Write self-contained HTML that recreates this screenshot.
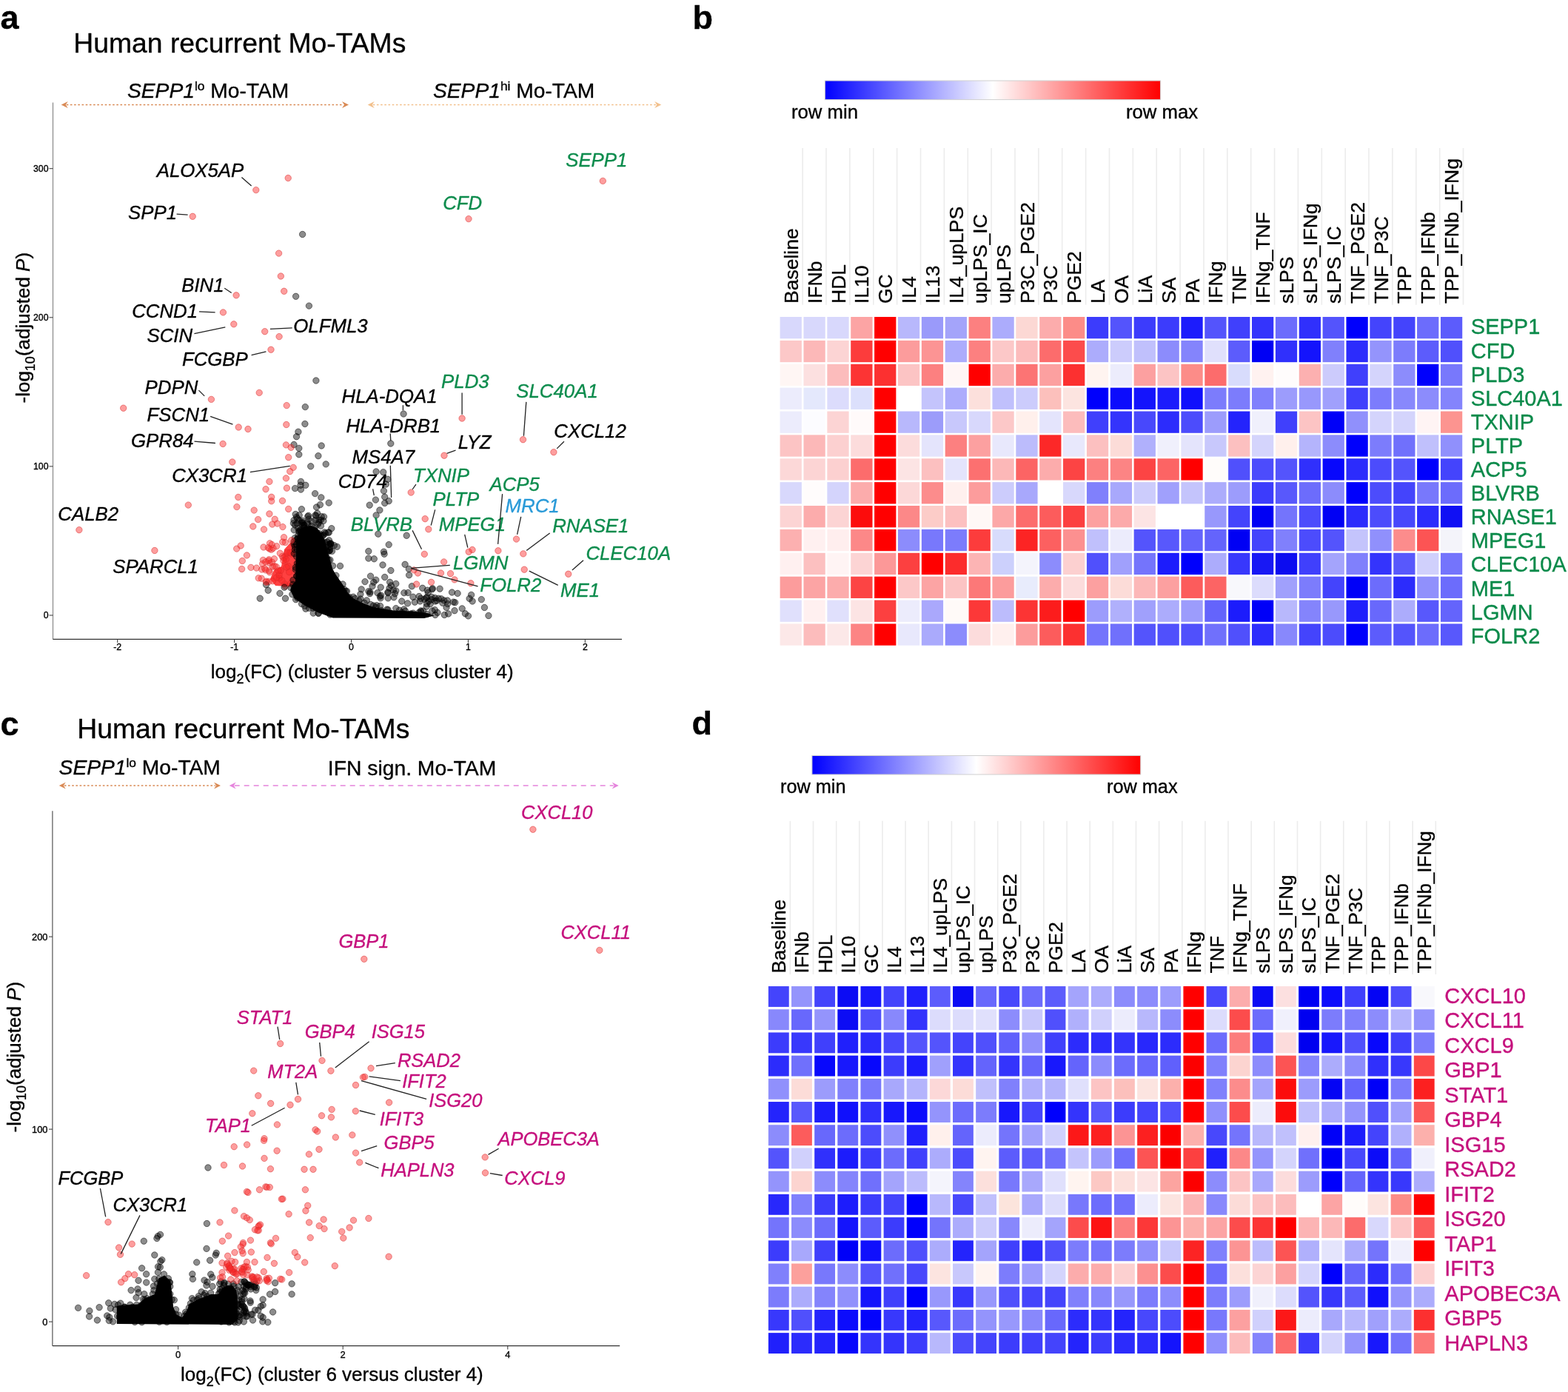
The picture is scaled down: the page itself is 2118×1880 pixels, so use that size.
<!DOCTYPE html>
<html><head><meta charset="utf-8"><title>Figure</title>
<style>
html,body{margin:0;padding:0;background:#fff;}
svg{display:block;}
text{font-family:'Liberation Sans', Arial, Helvetica, sans-serif;stroke-width:0.35px;stroke-linejoin:round;}
</style></head>
<body>
<svg width="2118" height="1880" viewBox="0 0 2118 1880">
<rect width="2118" height="1880" fill="#fff"/>
<text x="0.5" y="38.6" font-size="45" fill="#000" stroke="#000" text-anchor="start" font-weight="bold" font-style="normal" >a</text>
<text x="935.5" y="38.6" font-size="45" fill="#000" stroke="#000" text-anchor="start" font-weight="bold" font-style="normal" >b</text>
<text x="0.5" y="992.8" font-size="45" fill="#000" stroke="#000" text-anchor="start" font-weight="bold" font-style="normal" >c</text>
<text x="934.5" y="991.9" font-size="45" fill="#000" stroke="#000" text-anchor="start" font-weight="bold" font-style="normal" >d</text>
<text x="99.3" y="70.5" font-size="37.3" fill="#000" stroke="#000" text-anchor="start" font-weight="normal" font-style="normal" >Human recurrent Mo-TAMs</text>
<text x="172.0" y="132.0" font-size="28.2" fill="#000" stroke="#000" text-anchor="start" font-weight="normal" font-style="normal" ><tspan font-style="italic">SEPP1</tspan><tspan font-size="17.4" dy="-10">lo</tspan><tspan dy="10"> Mo-TAM</tspan></text>
<text x="585.0" y="132.0" font-size="28.2" fill="#000" stroke="#000" text-anchor="start" font-weight="normal" font-style="normal" ><tspan font-style="italic">SEPP1</tspan><tspan font-size="17.4" dy="-10">hi</tspan><tspan dy="10"> Mo-TAM</tspan></text>
<line x1="89.7" y1="141.5" x2="464.0" y2="141.5" stroke="#d98a55" stroke-width="1.3" stroke-dasharray="2.6,2.6"/>
<polygon points="82.7,141.5 91.7,137.0 88.7,141.5 91.7,146.0" fill="#d98a55"/>
<polygon points="471.0,141.5 462.0,137.0 465.0,141.5 462.0,146.0" fill="#d98a55"/>
<line x1="503.7" y1="141.5" x2="886.2" y2="141.5" stroke="#f2c08c" stroke-width="1.3" stroke-dasharray="2.6,2.6"/>
<polygon points="496.7,141.5 505.7,137.0 502.7,141.5 505.7,146.0" fill="#f2c08c"/>
<polygon points="893.2,141.5 884.2,137.0 887.2,141.5 884.2,146.0" fill="#f2c08c"/>
<line x1="71.5" y1="138.6" x2="71.5" y2="863.4" stroke="#888" stroke-width="1.2"/>
<line x1="71.5" y1="863.4" x2="840" y2="863.4" stroke="#333" stroke-width="1.3"/>
<line x1="66.5" y1="831.0" x2="71.5" y2="831.0" stroke="#333" stroke-width="1"/>
<text x="65.5" y="835.4" font-size="12.3" fill="#000" stroke="#000" text-anchor="end" font-weight="normal" font-style="normal" >0</text>
<line x1="66.5" y1="629.9" x2="71.5" y2="629.9" stroke="#333" stroke-width="1"/>
<text x="65.5" y="634.3" font-size="12.3" fill="#000" stroke="#000" text-anchor="end" font-weight="normal" font-style="normal" >100</text>
<line x1="66.5" y1="428.8" x2="71.5" y2="428.8" stroke="#333" stroke-width="1"/>
<text x="65.5" y="433.2" font-size="12.3" fill="#000" stroke="#000" text-anchor="end" font-weight="normal" font-style="normal" >200</text>
<line x1="66.5" y1="227.7" x2="71.5" y2="227.7" stroke="#333" stroke-width="1"/>
<text x="65.5" y="232.1" font-size="12.3" fill="#000" stroke="#000" text-anchor="end" font-weight="normal" font-style="normal" >300</text>
<line x1="158.7" y1="863.4" x2="158.7" y2="868" stroke="#333" stroke-width="1"/>
<text x="158.7" y="877.8" font-size="12.3" fill="#000" stroke="#000" text-anchor="middle" font-weight="normal" font-style="normal" >-2</text>
<line x1="316.6" y1="863.4" x2="316.6" y2="868" stroke="#333" stroke-width="1"/>
<text x="316.6" y="877.8" font-size="12.3" fill="#000" stroke="#000" text-anchor="middle" font-weight="normal" font-style="normal" >-1</text>
<line x1="474.5" y1="863.4" x2="474.5" y2="868" stroke="#333" stroke-width="1"/>
<text x="474.5" y="877.8" font-size="12.3" fill="#000" stroke="#000" text-anchor="middle" font-weight="normal" font-style="normal" >0</text>
<line x1="632.4" y1="863.4" x2="632.4" y2="868" stroke="#333" stroke-width="1"/>
<text x="632.4" y="877.8" font-size="12.3" fill="#000" stroke="#000" text-anchor="middle" font-weight="normal" font-style="normal" >1</text>
<line x1="790.3" y1="863.4" x2="790.3" y2="868" stroke="#333" stroke-width="1"/>
<text x="790.3" y="877.8" font-size="12.3" fill="#000" stroke="#000" text-anchor="middle" font-weight="normal" font-style="normal" >2</text>
<text x="284.8" y="916.2" font-size="26" fill="#000" stroke="#000" text-anchor="start" font-weight="normal" font-style="normal" >log<tspan font-size="18" dy="7">2</tspan><tspan dy="-7">(FC) (cluster 5 versus cluster 4)</tspan></text>
<text transform="translate(39.7,544.5) rotate(-90)" font-size="26" stroke="#000">-log<tspan font-size="18" dy="7">10</tspan><tspan dy="-7">(adjusted </tspan><tspan font-style="italic">P</tspan>)</text>
<text x="104.3" y="997.2" font-size="37.3" fill="#000" stroke="#000" text-anchor="start" font-weight="normal" font-style="normal" >Human recurrent Mo-TAMs</text>
<text x="79.6" y="1046.3" font-size="28.2" fill="#000" stroke="#000" text-anchor="start" font-weight="normal" font-style="normal" ><tspan font-style="italic">SEPP1</tspan><tspan font-size="17.4" dy="-10">lo</tspan><tspan dy="10"> Mo-TAM</tspan></text>
<text x="442.8" y="1047.0" font-size="28.3" fill="#000" stroke="#000" text-anchor="start" font-weight="normal" font-style="normal" >IFN sign. Mo-TAM</text>
<line x1="86.8" y1="1061" x2="291.0" y2="1061" stroke="#d98a55" stroke-width="1.3" stroke-dasharray="2.6,2.6"/>
<polygon points="79.8,1061 88.8,1056.5 85.8,1061 88.8,1065.5" fill="#d98a55"/>
<polygon points="298.0,1061 289.0,1056.5 292.0,1061 289.0,1065.5" fill="#d98a55"/>
<line x1="316.7" y1="1061" x2="828.7" y2="1061" stroke="#e583dc" stroke-width="1.3" stroke-dasharray="7,6"/>
<polygon points="309.7,1061 318.7,1056.5 315.7,1061 318.7,1065.5" fill="#e583dc"/>
<polygon points="835.7,1061 826.7,1056.5 829.7,1061 826.7,1065.5" fill="#e583dc"/>
<line x1="70.9" y1="1095.2" x2="70.9" y2="1817.7" stroke="#555" stroke-width="1.2"/>
<line x1="70.9" y1="1817.7" x2="837.2" y2="1817.7" stroke="#333" stroke-width="1.3"/>
<line x1="65.9" y1="1785.1" x2="70.9" y2="1785.1" stroke="#333" stroke-width="1"/>
<text x="64.5" y="1789.7" font-size="12.9" fill="#000" stroke="#000" text-anchor="end" font-weight="normal" font-style="normal" >0</text>
<line x1="65.9" y1="1525.1" x2="70.9" y2="1525.1" stroke="#333" stroke-width="1"/>
<text x="64.5" y="1529.7" font-size="12.9" fill="#000" stroke="#000" text-anchor="end" font-weight="normal" font-style="normal" >100</text>
<line x1="65.9" y1="1265.1" x2="70.9" y2="1265.1" stroke="#333" stroke-width="1"/>
<text x="64.5" y="1269.7" font-size="12.9" fill="#000" stroke="#000" text-anchor="end" font-weight="normal" font-style="normal" >200</text>
<line x1="240.6" y1="1817.7" x2="240.6" y2="1822.5" stroke="#333" stroke-width="1"/>
<text x="240.6" y="1833.5" font-size="12.9" fill="#000" stroke="#000" text-anchor="middle" font-weight="normal" font-style="normal" >0</text>
<line x1="463.2" y1="1817.7" x2="463.2" y2="1822.5" stroke="#333" stroke-width="1"/>
<text x="463.2" y="1833.5" font-size="12.9" fill="#000" stroke="#000" text-anchor="middle" font-weight="normal" font-style="normal" >2</text>
<line x1="685.8" y1="1817.7" x2="685.8" y2="1822.5" stroke="#333" stroke-width="1"/>
<text x="685.8" y="1833.5" font-size="12.9" fill="#000" stroke="#000" text-anchor="middle" font-weight="normal" font-style="normal" >4</text>
<text x="244.0" y="1865.2" font-size="26" fill="#000" stroke="#000" text-anchor="start" font-weight="normal" font-style="normal" >log<tspan font-size="18" dy="7">2</tspan><tspan dy="-7">(FC) (cluster 6 versus cluster 4)</tspan></text>
<text transform="translate(27.6,1529.4) rotate(-90)" font-size="26" stroke="#000">-log<tspan font-size="18" dy="7">10</tspan><tspan dy="-7">(adjusted </tspan><tspan font-style="italic">P</tspan>)</text>
<defs><linearGradient id="gb" x1="0" x2="1" y1="0" y2="0"><stop offset="0" stop-color="#0000ff"/><stop offset="0.5" stop-color="#ffffff"/><stop offset="1" stop-color="#ff0000"/></linearGradient></defs>
<rect x="1114.3" y="109" width="453.2" height="25.6" fill="url(#gb)" stroke="#cfcfcf" stroke-width="1"/>
<text x="1069.0" y="160.4" font-size="25.7" fill="#000" stroke="#000" text-anchor="start" font-weight="normal" font-style="normal" >row min</text>
<text x="1521.0" y="160.4" font-size="25.7" fill="#000" stroke="#000" text-anchor="start" font-weight="normal" font-style="normal" >row max</text>
<line x1="1084.2" y1="200" x2="1084.2" y2="411.7" stroke="#ececec" stroke-width="1.6"/>
<line x1="1116.0" y1="200" x2="1116.0" y2="411.7" stroke="#ececec" stroke-width="1.6"/>
<line x1="1147.9" y1="200" x2="1147.9" y2="411.7" stroke="#ececec" stroke-width="1.6"/>
<line x1="1179.8" y1="200" x2="1179.8" y2="411.7" stroke="#ececec" stroke-width="1.6"/>
<line x1="1211.6" y1="200" x2="1211.6" y2="411.7" stroke="#ececec" stroke-width="1.6"/>
<line x1="1243.5" y1="200" x2="1243.5" y2="411.7" stroke="#ececec" stroke-width="1.6"/>
<line x1="1275.4" y1="200" x2="1275.4" y2="411.7" stroke="#ececec" stroke-width="1.6"/>
<line x1="1307.3" y1="200" x2="1307.3" y2="411.7" stroke="#ececec" stroke-width="1.6"/>
<line x1="1339.1" y1="200" x2="1339.1" y2="411.7" stroke="#ececec" stroke-width="1.6"/>
<line x1="1371.0" y1="200" x2="1371.0" y2="411.7" stroke="#ececec" stroke-width="1.6"/>
<line x1="1402.9" y1="200" x2="1402.9" y2="411.7" stroke="#ececec" stroke-width="1.6"/>
<line x1="1434.7" y1="200" x2="1434.7" y2="411.7" stroke="#ececec" stroke-width="1.6"/>
<line x1="1466.6" y1="200" x2="1466.6" y2="411.7" stroke="#ececec" stroke-width="1.6"/>
<line x1="1498.5" y1="200" x2="1498.5" y2="411.7" stroke="#ececec" stroke-width="1.6"/>
<line x1="1530.3" y1="200" x2="1530.3" y2="411.7" stroke="#ececec" stroke-width="1.6"/>
<line x1="1562.2" y1="200" x2="1562.2" y2="411.7" stroke="#ececec" stroke-width="1.6"/>
<line x1="1594.1" y1="200" x2="1594.1" y2="411.7" stroke="#ececec" stroke-width="1.6"/>
<line x1="1626.0" y1="200" x2="1626.0" y2="411.7" stroke="#ececec" stroke-width="1.6"/>
<line x1="1657.8" y1="200" x2="1657.8" y2="411.7" stroke="#ececec" stroke-width="1.6"/>
<line x1="1689.7" y1="200" x2="1689.7" y2="411.7" stroke="#ececec" stroke-width="1.6"/>
<line x1="1721.6" y1="200" x2="1721.6" y2="411.7" stroke="#ececec" stroke-width="1.6"/>
<line x1="1753.4" y1="200" x2="1753.4" y2="411.7" stroke="#ececec" stroke-width="1.6"/>
<line x1="1785.3" y1="200" x2="1785.3" y2="411.7" stroke="#ececec" stroke-width="1.6"/>
<line x1="1817.2" y1="200" x2="1817.2" y2="411.7" stroke="#ececec" stroke-width="1.6"/>
<line x1="1849.0" y1="200" x2="1849.0" y2="411.7" stroke="#ececec" stroke-width="1.6"/>
<line x1="1880.9" y1="200" x2="1880.9" y2="411.7" stroke="#ececec" stroke-width="1.6"/>
<line x1="1912.8" y1="200" x2="1912.8" y2="411.7" stroke="#ececec" stroke-width="1.6"/>
<line x1="1944.7" y1="200" x2="1944.7" y2="411.7" stroke="#ececec" stroke-width="1.6"/>
<line x1="1976.5" y1="200" x2="1976.5" y2="411.7" stroke="#ececec" stroke-width="1.6"/>
<text transform="translate(1077.8,410.0) rotate(-90)" font-size="26.5" fill="#000" stroke="#000" text-anchor="start" font-style="normal">Baseline</text>
<text transform="translate(1109.6,410.0) rotate(-90)" font-size="26.5" fill="#000" stroke="#000" text-anchor="start" font-style="normal">IFNb</text>
<text transform="translate(1141.5,410.0) rotate(-90)" font-size="26.5" fill="#000" stroke="#000" text-anchor="start" font-style="normal">HDL</text>
<text transform="translate(1173.4,410.0) rotate(-90)" font-size="26.5" fill="#000" stroke="#000" text-anchor="start" font-style="normal">IL10</text>
<text transform="translate(1205.3,410.0) rotate(-90)" font-size="26.5" fill="#000" stroke="#000" text-anchor="start" font-style="normal">GC</text>
<text transform="translate(1237.1,410.0) rotate(-90)" font-size="26.5" fill="#000" stroke="#000" text-anchor="start" font-style="normal">IL4</text>
<text transform="translate(1269.0,410.0) rotate(-90)" font-size="26.5" fill="#000" stroke="#000" text-anchor="start" font-style="normal">IL13</text>
<text transform="translate(1300.9,410.0) rotate(-90)" font-size="26.5" fill="#000" stroke="#000" text-anchor="start" font-style="normal">IL4_upLPS</text>
<text transform="translate(1332.7,410.0) rotate(-90)" font-size="26.5" fill="#000" stroke="#000" text-anchor="start" font-style="normal">upLPS_IC</text>
<text transform="translate(1364.6,410.0) rotate(-90)" font-size="26.5" fill="#000" stroke="#000" text-anchor="start" font-style="normal">upLPS</text>
<text transform="translate(1396.5,410.0) rotate(-90)" font-size="26.5" fill="#000" stroke="#000" text-anchor="start" font-style="normal">P3C_PGE2</text>
<text transform="translate(1428.3,410.0) rotate(-90)" font-size="26.5" fill="#000" stroke="#000" text-anchor="start" font-style="normal">P3C</text>
<text transform="translate(1460.2,410.0) rotate(-90)" font-size="26.5" fill="#000" stroke="#000" text-anchor="start" font-style="normal">PGE2</text>
<text transform="translate(1492.1,410.0) rotate(-90)" font-size="26.5" fill="#000" stroke="#000" text-anchor="start" font-style="normal">LA</text>
<text transform="translate(1524.0,410.0) rotate(-90)" font-size="26.5" fill="#000" stroke="#000" text-anchor="start" font-style="normal">OA</text>
<text transform="translate(1555.8,410.0) rotate(-90)" font-size="26.5" fill="#000" stroke="#000" text-anchor="start" font-style="normal">LiA</text>
<text transform="translate(1587.7,410.0) rotate(-90)" font-size="26.5" fill="#000" stroke="#000" text-anchor="start" font-style="normal">SA</text>
<text transform="translate(1619.6,410.0) rotate(-90)" font-size="26.5" fill="#000" stroke="#000" text-anchor="start" font-style="normal">PA</text>
<text transform="translate(1651.4,410.0) rotate(-90)" font-size="26.5" fill="#000" stroke="#000" text-anchor="start" font-style="normal">IFNg</text>
<text transform="translate(1683.3,410.0) rotate(-90)" font-size="26.5" fill="#000" stroke="#000" text-anchor="start" font-style="normal">TNF</text>
<text transform="translate(1715.2,410.0) rotate(-90)" font-size="26.5" fill="#000" stroke="#000" text-anchor="start" font-style="normal">IFNg_TNF</text>
<text transform="translate(1747.0,410.0) rotate(-90)" font-size="26.5" fill="#000" stroke="#000" text-anchor="start" font-style="normal">sLPS</text>
<text transform="translate(1778.9,410.0) rotate(-90)" font-size="26.5" fill="#000" stroke="#000" text-anchor="start" font-style="normal">sLPS_IFNg</text>
<text transform="translate(1810.8,410.0) rotate(-90)" font-size="26.5" fill="#000" stroke="#000" text-anchor="start" font-style="normal">sLPS_IC</text>
<text transform="translate(1842.7,410.0) rotate(-90)" font-size="26.5" fill="#000" stroke="#000" text-anchor="start" font-style="normal">TNF_PGE2</text>
<text transform="translate(1874.5,410.0) rotate(-90)" font-size="26.5" fill="#000" stroke="#000" text-anchor="start" font-style="normal">TNF_P3C</text>
<text transform="translate(1906.4,410.0) rotate(-90)" font-size="26.5" fill="#000" stroke="#000" text-anchor="start" font-style="normal">TPP</text>
<text transform="translate(1938.3,410.0) rotate(-90)" font-size="26.5" fill="#000" stroke="#000" text-anchor="start" font-style="normal">TPP_IFNb</text>
<text transform="translate(1970.1,410.0) rotate(-90)" font-size="26.5" fill="#000" stroke="#000" text-anchor="start" font-style="normal">TPP_IFNb_IFNg</text>
<rect x="1053.60" y="428.00" width="29.27" height="29.28" fill="#d8d8fc"/>
<rect x="1085.47" y="428.00" width="29.27" height="29.28" fill="#d8d8fc"/>
<rect x="1117.34" y="428.00" width="29.27" height="29.28" fill="#d8d8fc"/>
<rect x="1149.21" y="428.00" width="29.27" height="29.28" fill="#fca4a4"/>
<rect x="1181.08" y="428.00" width="29.27" height="29.28" fill="#ff0000"/>
<rect x="1212.95" y="428.00" width="29.27" height="29.28" fill="#b8b8fc"/>
<rect x="1244.82" y="428.00" width="29.27" height="29.28" fill="#9a9afa"/>
<rect x="1276.69" y="428.00" width="29.27" height="29.28" fill="#a4a4fa"/>
<rect x="1308.56" y="428.00" width="29.27" height="29.28" fill="#fc8080"/>
<rect x="1340.43" y="428.00" width="29.27" height="29.28" fill="#acacfc"/>
<rect x="1372.30" y="428.00" width="29.27" height="29.28" fill="#fcd8d4"/>
<rect x="1404.17" y="428.00" width="29.27" height="29.28" fill="#fcacac"/>
<rect x="1436.04" y="428.00" width="29.27" height="29.28" fill="#fc8c88"/>
<rect x="1467.91" y="428.00" width="29.27" height="29.28" fill="#3c3cfc"/>
<rect x="1499.78" y="428.00" width="29.27" height="29.28" fill="#5454fc"/>
<rect x="1531.65" y="428.00" width="29.27" height="29.28" fill="#3c3cfc"/>
<rect x="1563.52" y="428.00" width="29.27" height="29.28" fill="#3c3cfc"/>
<rect x="1595.39" y="428.00" width="29.27" height="29.28" fill="#1c1cfc"/>
<rect x="1627.26" y="428.00" width="29.27" height="29.28" fill="#5454fc"/>
<rect x="1659.13" y="428.00" width="29.27" height="29.28" fill="#4040fc"/>
<rect x="1691.00" y="428.00" width="29.27" height="29.28" fill="#3434fc"/>
<rect x="1722.87" y="428.00" width="29.27" height="29.28" fill="#6c6cfc"/>
<rect x="1754.74" y="428.00" width="29.27" height="29.28" fill="#3030fc"/>
<rect x="1786.61" y="428.00" width="29.27" height="29.28" fill="#5454fc"/>
<rect x="1818.48" y="428.00" width="29.27" height="29.28" fill="#0000fc"/>
<rect x="1850.35" y="428.00" width="29.27" height="29.28" fill="#4444fc"/>
<rect x="1882.22" y="428.00" width="29.27" height="29.28" fill="#4444fc"/>
<rect x="1914.09" y="428.00" width="29.27" height="29.28" fill="#6c6cfc"/>
<rect x="1945.96" y="428.00" width="29.27" height="29.28" fill="#5c5cfc"/>
<rect x="1053.60" y="459.88" width="29.27" height="29.28" fill="#fcc8c8"/>
<rect x="1085.47" y="459.88" width="29.27" height="29.28" fill="#fcb8b8"/>
<rect x="1117.34" y="459.88" width="29.27" height="29.28" fill="#fcd4d4"/>
<rect x="1149.21" y="459.88" width="29.27" height="29.28" fill="#fc3c3c"/>
<rect x="1181.08" y="459.88" width="29.27" height="29.28" fill="#ff0000"/>
<rect x="1212.95" y="459.88" width="29.27" height="29.28" fill="#fc9c9c"/>
<rect x="1244.82" y="459.88" width="29.27" height="29.28" fill="#fc9494"/>
<rect x="1276.69" y="459.88" width="29.27" height="29.28" fill="#acacfc"/>
<rect x="1308.56" y="459.88" width="29.27" height="29.28" fill="#fc8080"/>
<rect x="1340.43" y="459.88" width="29.27" height="29.28" fill="#fcc8c8"/>
<rect x="1372.30" y="459.88" width="29.27" height="29.28" fill="#fcbcbc"/>
<rect x="1404.17" y="459.88" width="29.27" height="29.28" fill="#fc6c6c"/>
<rect x="1436.04" y="459.88" width="29.27" height="29.28" fill="#fc4c4c"/>
<rect x="1467.91" y="459.88" width="29.27" height="29.28" fill="#acacfc"/>
<rect x="1499.78" y="459.88" width="29.27" height="29.28" fill="#ccccfc"/>
<rect x="1531.65" y="459.88" width="29.27" height="29.28" fill="#c0c0fc"/>
<rect x="1563.52" y="459.88" width="29.27" height="29.28" fill="#8c8cfc"/>
<rect x="1595.39" y="459.88" width="29.27" height="29.28" fill="#8484fc"/>
<rect x="1627.26" y="459.88" width="29.27" height="29.28" fill="#e0e0fc"/>
<rect x="1659.13" y="459.88" width="29.27" height="29.28" fill="#5c5cfc"/>
<rect x="1691.00" y="459.88" width="29.27" height="29.28" fill="#0000f4"/>
<rect x="1722.87" y="459.88" width="29.27" height="29.28" fill="#3030fc"/>
<rect x="1754.74" y="459.88" width="29.27" height="29.28" fill="#1414fc"/>
<rect x="1786.61" y="459.88" width="29.27" height="29.28" fill="#8080fc"/>
<rect x="1818.48" y="459.88" width="29.27" height="29.28" fill="#2c2cfc"/>
<rect x="1850.35" y="459.88" width="29.27" height="29.28" fill="#9494fc"/>
<rect x="1882.22" y="459.88" width="29.27" height="29.28" fill="#7c7cfc"/>
<rect x="1914.09" y="459.88" width="29.27" height="29.28" fill="#5c5cfc"/>
<rect x="1945.96" y="459.88" width="29.27" height="29.28" fill="#5050fc"/>
<rect x="1053.60" y="491.76" width="29.27" height="29.28" fill="#fff6f4"/>
<rect x="1085.47" y="491.76" width="29.27" height="29.28" fill="#fce0e0"/>
<rect x="1117.34" y="491.76" width="29.27" height="29.28" fill="#fcbcbc"/>
<rect x="1149.21" y="491.76" width="29.27" height="29.28" fill="#fc3434"/>
<rect x="1181.08" y="491.76" width="29.27" height="29.28" fill="#fc3030"/>
<rect x="1212.95" y="491.76" width="29.27" height="29.28" fill="#fcc4c4"/>
<rect x="1244.82" y="491.76" width="29.27" height="29.28" fill="#fc8080"/>
<rect x="1276.69" y="491.76" width="29.27" height="29.28" fill="#fff6f6"/>
<rect x="1308.56" y="491.76" width="29.27" height="29.28" fill="#ff0000"/>
<rect x="1340.43" y="491.76" width="29.27" height="29.28" fill="#fcacac"/>
<rect x="1372.30" y="491.76" width="29.27" height="29.28" fill="#fc7474"/>
<rect x="1404.17" y="491.76" width="29.27" height="29.28" fill="#fca0a0"/>
<rect x="1436.04" y="491.76" width="29.27" height="29.28" fill="#fc3030"/>
<rect x="1467.91" y="491.76" width="29.27" height="29.28" fill="#fff4f0"/>
<rect x="1499.78" y="491.76" width="29.27" height="29.28" fill="#ececfc"/>
<rect x="1531.65" y="491.76" width="29.27" height="29.28" fill="#fca0a0"/>
<rect x="1563.52" y="491.76" width="29.27" height="29.28" fill="#fcc4c4"/>
<rect x="1595.39" y="491.76" width="29.27" height="29.28" fill="#fc8c88"/>
<rect x="1627.26" y="491.76" width="29.27" height="29.28" fill="#fc6c6c"/>
<rect x="1659.13" y="491.76" width="29.27" height="29.28" fill="#d8dcfc"/>
<rect x="1691.00" y="491.76" width="29.27" height="29.28" fill="#fff2f0"/>
<rect x="1722.87" y="491.76" width="29.27" height="29.28" fill="#fffcfc"/>
<rect x="1754.74" y="491.76" width="29.27" height="29.28" fill="#fcb0b0"/>
<rect x="1786.61" y="491.76" width="29.27" height="29.28" fill="#cccbfc"/>
<rect x="1818.48" y="491.76" width="29.27" height="29.28" fill="#4040fc"/>
<rect x="1850.35" y="491.76" width="29.27" height="29.28" fill="#d4d4fc"/>
<rect x="1882.22" y="491.76" width="29.27" height="29.28" fill="#8c8cfc"/>
<rect x="1914.09" y="491.76" width="29.27" height="29.28" fill="#0000fc"/>
<rect x="1945.96" y="491.76" width="29.27" height="29.28" fill="#7878fc"/>
<rect x="1053.60" y="523.64" width="29.27" height="29.28" fill="#ececfc"/>
<rect x="1085.47" y="523.64" width="29.27" height="29.28" fill="#e4e8fc"/>
<rect x="1117.34" y="523.64" width="29.27" height="29.28" fill="#dcdcfc"/>
<rect x="1149.21" y="523.64" width="29.27" height="29.28" fill="#dce0fc"/>
<rect x="1181.08" y="523.64" width="29.27" height="29.28" fill="#ff0000"/>
<rect x="1212.95" y="523.64" width="29.27" height="29.28" fill="#ffffff"/>
<rect x="1244.82" y="523.64" width="29.27" height="29.28" fill="#c4c4fc"/>
<rect x="1276.69" y="523.64" width="29.27" height="29.28" fill="#acacfc"/>
<rect x="1308.56" y="523.64" width="29.27" height="29.28" fill="#fce0dc"/>
<rect x="1340.43" y="523.64" width="29.27" height="29.28" fill="#c0c0fc"/>
<rect x="1372.30" y="523.64" width="29.27" height="29.28" fill="#ccccfc"/>
<rect x="1404.17" y="523.64" width="29.27" height="29.28" fill="#fcc0bc"/>
<rect x="1436.04" y="523.64" width="29.27" height="29.28" fill="#fce4e0"/>
<rect x="1467.91" y="523.64" width="29.27" height="29.28" fill="#0000fc"/>
<rect x="1499.78" y="523.64" width="29.27" height="29.28" fill="#0c0cfc"/>
<rect x="1531.65" y="523.64" width="29.27" height="29.28" fill="#1414fc"/>
<rect x="1563.52" y="523.64" width="29.27" height="29.28" fill="#1c1cfc"/>
<rect x="1595.39" y="523.64" width="29.27" height="29.28" fill="#1010fc"/>
<rect x="1627.26" y="523.64" width="29.27" height="29.28" fill="#7c7cfc"/>
<rect x="1659.13" y="523.64" width="29.27" height="29.28" fill="#7c7cfc"/>
<rect x="1691.00" y="523.64" width="29.27" height="29.28" fill="#8080fc"/>
<rect x="1722.87" y="523.64" width="29.27" height="29.28" fill="#9c9cfc"/>
<rect x="1754.74" y="523.64" width="29.27" height="29.28" fill="#9898fc"/>
<rect x="1786.61" y="523.64" width="29.27" height="29.28" fill="#a0a0fc"/>
<rect x="1818.48" y="523.64" width="29.27" height="29.28" fill="#4040fc"/>
<rect x="1850.35" y="523.64" width="29.27" height="29.28" fill="#7c7cfc"/>
<rect x="1882.22" y="523.64" width="29.27" height="29.28" fill="#8888fc"/>
<rect x="1914.09" y="523.64" width="29.27" height="29.28" fill="#8c8cfc"/>
<rect x="1945.96" y="523.64" width="29.27" height="29.28" fill="#8484fc"/>
<rect x="1053.60" y="555.52" width="29.27" height="29.28" fill="#ececfc"/>
<rect x="1085.47" y="555.52" width="29.27" height="29.28" fill="#fcfcff"/>
<rect x="1117.34" y="555.52" width="29.27" height="29.28" fill="#fcd4d4"/>
<rect x="1149.21" y="555.52" width="29.27" height="29.28" fill="#fffafa"/>
<rect x="1181.08" y="555.52" width="29.27" height="29.28" fill="#ff0000"/>
<rect x="1212.95" y="555.52" width="29.27" height="29.28" fill="#b8b8fc"/>
<rect x="1244.82" y="555.52" width="29.27" height="29.28" fill="#9c9cfa"/>
<rect x="1276.69" y="555.52" width="29.27" height="29.28" fill="#c8c8fc"/>
<rect x="1308.56" y="555.52" width="29.27" height="29.28" fill="#d8d8fc"/>
<rect x="1340.43" y="555.52" width="29.27" height="29.28" fill="#fcc8c8"/>
<rect x="1372.30" y="555.52" width="29.27" height="29.28" fill="#fff0ec"/>
<rect x="1404.17" y="555.52" width="29.27" height="29.28" fill="#e4e4fc"/>
<rect x="1436.04" y="555.52" width="29.27" height="29.28" fill="#fcbcbc"/>
<rect x="1467.91" y="555.52" width="29.27" height="29.28" fill="#4040fc"/>
<rect x="1499.78" y="555.52" width="29.27" height="29.28" fill="#3434fc"/>
<rect x="1531.65" y="555.52" width="29.27" height="29.28" fill="#4848fc"/>
<rect x="1563.52" y="555.52" width="29.27" height="29.28" fill="#2c2cfc"/>
<rect x="1595.39" y="555.52" width="29.27" height="29.28" fill="#4c4cfc"/>
<rect x="1627.26" y="555.52" width="29.27" height="29.28" fill="#9c9cfc"/>
<rect x="1659.13" y="555.52" width="29.27" height="29.28" fill="#2424fc"/>
<rect x="1691.00" y="555.52" width="29.27" height="29.28" fill="#f0f0fc"/>
<rect x="1722.87" y="555.52" width="29.27" height="29.28" fill="#4040fc"/>
<rect x="1754.74" y="555.52" width="29.27" height="29.28" fill="#fcc4c4"/>
<rect x="1786.61" y="555.52" width="29.27" height="29.28" fill="#0000f8"/>
<rect x="1818.48" y="555.52" width="29.27" height="29.28" fill="#9090fc"/>
<rect x="1850.35" y="555.52" width="29.27" height="29.28" fill="#d4d4fc"/>
<rect x="1882.22" y="555.52" width="29.27" height="29.28" fill="#d4d4fc"/>
<rect x="1914.09" y="555.52" width="29.27" height="29.28" fill="#fff4f4"/>
<rect x="1945.96" y="555.52" width="29.27" height="29.28" fill="#fc9490"/>
<rect x="1053.60" y="587.40" width="29.27" height="29.28" fill="#fcc4c4"/>
<rect x="1085.47" y="587.40" width="29.27" height="29.28" fill="#fcb8b8"/>
<rect x="1117.34" y="587.40" width="29.27" height="29.28" fill="#fcd0d0"/>
<rect x="1149.21" y="587.40" width="29.27" height="29.28" fill="#fcdcdc"/>
<rect x="1181.08" y="587.40" width="29.27" height="29.28" fill="#ff0000"/>
<rect x="1212.95" y="587.40" width="29.27" height="29.28" fill="#fcdcdc"/>
<rect x="1244.82" y="587.40" width="29.27" height="29.28" fill="#e4e4fc"/>
<rect x="1276.69" y="587.40" width="29.27" height="29.28" fill="#fc8080"/>
<rect x="1308.56" y="587.40" width="29.27" height="29.28" fill="#fca0a0"/>
<rect x="1340.43" y="587.40" width="29.27" height="29.28" fill="#e8e8fc"/>
<rect x="1372.30" y="587.40" width="29.27" height="29.28" fill="#bcbcfc"/>
<rect x="1404.17" y="587.40" width="29.27" height="29.28" fill="#fc2828"/>
<rect x="1436.04" y="587.40" width="29.27" height="29.28" fill="#e8e8fc"/>
<rect x="1467.91" y="587.40" width="29.27" height="29.28" fill="#fcc0c0"/>
<rect x="1499.78" y="587.40" width="29.27" height="29.28" fill="#fcdcd8"/>
<rect x="1531.65" y="587.40" width="29.27" height="29.28" fill="#b0b0fc"/>
<rect x="1563.52" y="587.40" width="29.27" height="29.28" fill="#f0f0fc"/>
<rect x="1595.39" y="587.40" width="29.27" height="29.28" fill="#e4e4fc"/>
<rect x="1627.26" y="587.40" width="29.27" height="29.28" fill="#c8c8fc"/>
<rect x="1659.13" y="587.40" width="29.27" height="29.28" fill="#fcc0c0"/>
<rect x="1691.00" y="587.40" width="29.27" height="29.28" fill="#d4d4fc"/>
<rect x="1722.87" y="587.40" width="29.27" height="29.28" fill="#fff0ec"/>
<rect x="1754.74" y="587.40" width="29.27" height="29.28" fill="#b4b4fc"/>
<rect x="1786.61" y="587.40" width="29.27" height="29.28" fill="#8c8cfc"/>
<rect x="1818.48" y="587.40" width="29.27" height="29.28" fill="#0000fc"/>
<rect x="1850.35" y="587.40" width="29.27" height="29.28" fill="#7c7cfc"/>
<rect x="1882.22" y="587.40" width="29.27" height="29.28" fill="#7070fc"/>
<rect x="1914.09" y="587.40" width="29.27" height="29.28" fill="#c0c0fc"/>
<rect x="1945.96" y="587.40" width="29.27" height="29.28" fill="#9090fc"/>
<rect x="1053.60" y="619.28" width="29.27" height="29.28" fill="#fcd8d8"/>
<rect x="1085.47" y="619.28" width="29.27" height="29.28" fill="#fcd4d4"/>
<rect x="1117.34" y="619.28" width="29.27" height="29.28" fill="#fcd0d0"/>
<rect x="1149.21" y="619.28" width="29.27" height="29.28" fill="#fc6c6c"/>
<rect x="1181.08" y="619.28" width="29.27" height="29.28" fill="#ff0000"/>
<rect x="1212.95" y="619.28" width="29.27" height="29.28" fill="#fce4e4"/>
<rect x="1244.82" y="619.28" width="29.27" height="29.28" fill="#fcc0c0"/>
<rect x="1276.69" y="619.28" width="29.27" height="29.28" fill="#e4e4fc"/>
<rect x="1308.56" y="619.28" width="29.27" height="29.28" fill="#fc7070"/>
<rect x="1340.43" y="619.28" width="29.27" height="29.28" fill="#fcb8b8"/>
<rect x="1372.30" y="619.28" width="29.27" height="29.28" fill="#fc6464"/>
<rect x="1404.17" y="619.28" width="29.27" height="29.28" fill="#fcacac"/>
<rect x="1436.04" y="619.28" width="29.27" height="29.28" fill="#fc4444"/>
<rect x="1467.91" y="619.28" width="29.27" height="29.28" fill="#fc8080"/>
<rect x="1499.78" y="619.28" width="29.27" height="29.28" fill="#fc8484"/>
<rect x="1531.65" y="619.28" width="29.27" height="29.28" fill="#fc4444"/>
<rect x="1563.52" y="619.28" width="29.27" height="29.28" fill="#fc6464"/>
<rect x="1595.39" y="619.28" width="29.27" height="29.28" fill="#ff0000"/>
<rect x="1627.26" y="619.28" width="29.27" height="29.28" fill="#fffcfa"/>
<rect x="1659.13" y="619.28" width="29.27" height="29.28" fill="#5050fc"/>
<rect x="1691.00" y="619.28" width="29.27" height="29.28" fill="#4c4cfc"/>
<rect x="1722.87" y="619.28" width="29.27" height="29.28" fill="#5454fc"/>
<rect x="1754.74" y="619.28" width="29.27" height="29.28" fill="#3030fc"/>
<rect x="1786.61" y="619.28" width="29.27" height="29.28" fill="#0808fc"/>
<rect x="1818.48" y="619.28" width="29.27" height="29.28" fill="#2c2cfc"/>
<rect x="1850.35" y="619.28" width="29.27" height="29.28" fill="#4c4cfc"/>
<rect x="1882.22" y="619.28" width="29.27" height="29.28" fill="#5454fc"/>
<rect x="1914.09" y="619.28" width="29.27" height="29.28" fill="#0000fc"/>
<rect x="1945.96" y="619.28" width="29.27" height="29.28" fill="#4444fc"/>
<rect x="1053.60" y="651.16" width="29.27" height="29.28" fill="#d8d8fc"/>
<rect x="1085.47" y="651.16" width="29.27" height="29.28" fill="#fffcfc"/>
<rect x="1117.34" y="651.16" width="29.27" height="29.28" fill="#d4d4fc"/>
<rect x="1149.21" y="651.16" width="29.27" height="29.28" fill="#fcacac"/>
<rect x="1181.08" y="651.16" width="29.27" height="29.28" fill="#ff0000"/>
<rect x="1212.95" y="651.16" width="29.27" height="29.28" fill="#fcd8d8"/>
<rect x="1244.82" y="651.16" width="29.27" height="29.28" fill="#fc8c8c"/>
<rect x="1276.69" y="651.16" width="29.27" height="29.28" fill="#fff0ee"/>
<rect x="1308.56" y="651.16" width="29.27" height="29.28" fill="#fc9c9c"/>
<rect x="1340.43" y="651.16" width="29.27" height="29.28" fill="#ccccfc"/>
<rect x="1372.30" y="651.16" width="29.27" height="29.28" fill="#a8a8fc"/>
<rect x="1404.17" y="651.16" width="29.27" height="29.28" fill="#ffffff"/>
<rect x="1436.04" y="651.16" width="29.27" height="29.28" fill="#d8d8fc"/>
<rect x="1467.91" y="651.16" width="29.27" height="29.28" fill="#8080fc"/>
<rect x="1499.78" y="651.16" width="29.27" height="29.28" fill="#a8a8fc"/>
<rect x="1531.65" y="651.16" width="29.27" height="29.28" fill="#ccccfc"/>
<rect x="1563.52" y="651.16" width="29.27" height="29.28" fill="#a0a0fc"/>
<rect x="1595.39" y="651.16" width="29.27" height="29.28" fill="#c4c4fc"/>
<rect x="1627.26" y="651.16" width="29.27" height="29.28" fill="#acacfc"/>
<rect x="1659.13" y="651.16" width="29.27" height="29.28" fill="#9c9cfc"/>
<rect x="1691.00" y="651.16" width="29.27" height="29.28" fill="#3c3cfc"/>
<rect x="1722.87" y="651.16" width="29.27" height="29.28" fill="#5858fc"/>
<rect x="1754.74" y="651.16" width="29.27" height="29.28" fill="#6c6cfc"/>
<rect x="1786.61" y="651.16" width="29.27" height="29.28" fill="#8c8cfc"/>
<rect x="1818.48" y="651.16" width="29.27" height="29.28" fill="#0000fc"/>
<rect x="1850.35" y="651.16" width="29.27" height="29.28" fill="#4c4cfc"/>
<rect x="1882.22" y="651.16" width="29.27" height="29.28" fill="#4444fc"/>
<rect x="1914.09" y="651.16" width="29.27" height="29.28" fill="#7878fc"/>
<rect x="1945.96" y="651.16" width="29.27" height="29.28" fill="#6c6cfc"/>
<rect x="1053.60" y="683.04" width="29.27" height="29.28" fill="#fcd4d4"/>
<rect x="1085.47" y="683.04" width="29.27" height="29.28" fill="#fcacac"/>
<rect x="1117.34" y="683.04" width="29.27" height="29.28" fill="#fcd4d4"/>
<rect x="1149.21" y="683.04" width="29.27" height="29.28" fill="#fc0c0c"/>
<rect x="1181.08" y="683.04" width="29.27" height="29.28" fill="#ff0000"/>
<rect x="1212.95" y="683.04" width="29.27" height="29.28" fill="#fc8888"/>
<rect x="1244.82" y="683.04" width="29.27" height="29.28" fill="#fcccc8"/>
<rect x="1276.69" y="683.04" width="29.27" height="29.28" fill="#fcc0c0"/>
<rect x="1308.56" y="683.04" width="29.27" height="29.28" fill="#fff8f6"/>
<rect x="1340.43" y="683.04" width="29.27" height="29.28" fill="#fca8a8"/>
<rect x="1372.30" y="683.04" width="29.27" height="29.28" fill="#fc6c6c"/>
<rect x="1404.17" y="683.04" width="29.27" height="29.28" fill="#fc5c5c"/>
<rect x="1436.04" y="683.04" width="29.27" height="29.28" fill="#fc4040"/>
<rect x="1467.91" y="683.04" width="29.27" height="29.28" fill="#fca0a0"/>
<rect x="1499.78" y="683.04" width="29.27" height="29.28" fill="#fcaaaa"/>
<rect x="1531.65" y="683.04" width="29.27" height="29.28" fill="#fce4e4"/>
<rect x="1563.52" y="683.04" width="29.27" height="29.28" fill="#ffffff"/>
<rect x="1595.39" y="683.04" width="29.27" height="29.28" fill="#ffffff"/>
<rect x="1627.26" y="683.04" width="29.27" height="29.28" fill="#9898fc"/>
<rect x="1659.13" y="683.04" width="29.27" height="29.28" fill="#4444fc"/>
<rect x="1691.00" y="683.04" width="29.27" height="29.28" fill="#0000f4"/>
<rect x="1722.87" y="683.04" width="29.27" height="29.28" fill="#7474fc"/>
<rect x="1754.74" y="683.04" width="29.27" height="29.28" fill="#4c4cfc"/>
<rect x="1786.61" y="683.04" width="29.27" height="29.28" fill="#0000f4"/>
<rect x="1818.48" y="683.04" width="29.27" height="29.28" fill="#2c2cfc"/>
<rect x="1850.35" y="683.04" width="29.27" height="29.28" fill="#4c4cfc"/>
<rect x="1882.22" y="683.04" width="29.27" height="29.28" fill="#4848fc"/>
<rect x="1914.09" y="683.04" width="29.27" height="29.28" fill="#2c2cfc"/>
<rect x="1945.96" y="683.04" width="29.27" height="29.28" fill="#1010f4"/>
<rect x="1053.60" y="714.92" width="29.27" height="29.28" fill="#fcb0b0"/>
<rect x="1085.47" y="714.92" width="29.27" height="29.28" fill="#fff0f0"/>
<rect x="1117.34" y="714.92" width="29.27" height="29.28" fill="#ffeeee"/>
<rect x="1149.21" y="714.92" width="29.27" height="29.28" fill="#fc8888"/>
<rect x="1181.08" y="714.92" width="29.27" height="29.28" fill="#ff0000"/>
<rect x="1212.95" y="714.92" width="29.27" height="29.28" fill="#8c8cfc"/>
<rect x="1244.82" y="714.92" width="29.27" height="29.28" fill="#7878fc"/>
<rect x="1276.69" y="714.92" width="29.27" height="29.28" fill="#7c7cfc"/>
<rect x="1308.56" y="714.92" width="29.27" height="29.28" fill="#fc3c3c"/>
<rect x="1340.43" y="714.92" width="29.27" height="29.28" fill="#d8dcfc"/>
<rect x="1372.30" y="714.92" width="29.27" height="29.28" fill="#fc2424"/>
<rect x="1404.17" y="714.92" width="29.27" height="29.28" fill="#fc6060"/>
<rect x="1436.04" y="714.92" width="29.27" height="29.28" fill="#fc9090"/>
<rect x="1467.91" y="714.92" width="29.27" height="29.28" fill="#c0c0fc"/>
<rect x="1499.78" y="714.92" width="29.27" height="29.28" fill="#ececfc"/>
<rect x="1531.65" y="714.92" width="29.27" height="29.28" fill="#5454fc"/>
<rect x="1563.52" y="714.92" width="29.27" height="29.28" fill="#5858fc"/>
<rect x="1595.39" y="714.92" width="29.27" height="29.28" fill="#6464fc"/>
<rect x="1627.26" y="714.92" width="29.27" height="29.28" fill="#6464fc"/>
<rect x="1659.13" y="714.92" width="29.27" height="29.28" fill="#0000f4"/>
<rect x="1691.00" y="714.92" width="29.27" height="29.28" fill="#4444fc"/>
<rect x="1722.87" y="714.92" width="29.27" height="29.28" fill="#8080fc"/>
<rect x="1754.74" y="714.92" width="29.27" height="29.28" fill="#4c4cfc"/>
<rect x="1786.61" y="714.92" width="29.27" height="29.28" fill="#5454fc"/>
<rect x="1818.48" y="714.92" width="29.27" height="29.28" fill="#c4c4fc"/>
<rect x="1850.35" y="714.92" width="29.27" height="29.28" fill="#9090fc"/>
<rect x="1882.22" y="714.92" width="29.27" height="29.28" fill="#fc8c8c"/>
<rect x="1914.09" y="714.92" width="29.27" height="29.28" fill="#fc5454"/>
<rect x="1945.96" y="714.92" width="29.27" height="29.28" fill="#f4f4fa"/>
<rect x="1053.60" y="746.80" width="29.27" height="29.28" fill="#fff0f0"/>
<rect x="1085.47" y="746.80" width="29.27" height="29.28" fill="#fcc0c0"/>
<rect x="1117.34" y="746.80" width="29.27" height="29.28" fill="#fff4f4"/>
<rect x="1149.21" y="746.80" width="29.27" height="29.28" fill="#fcd4d4"/>
<rect x="1181.08" y="746.80" width="29.27" height="29.28" fill="#fc9898"/>
<rect x="1212.95" y="746.80" width="29.27" height="29.28" fill="#fc4040"/>
<rect x="1244.82" y="746.80" width="29.27" height="29.28" fill="#ff0000"/>
<rect x="1276.69" y="746.80" width="29.27" height="29.28" fill="#fc2c2c"/>
<rect x="1308.56" y="746.80" width="29.27" height="29.28" fill="#fcb4b4"/>
<rect x="1340.43" y="746.80" width="29.27" height="29.28" fill="#ccd0fc"/>
<rect x="1372.30" y="746.80" width="29.27" height="29.28" fill="#f4f4fc"/>
<rect x="1404.17" y="746.80" width="29.27" height="29.28" fill="#8c8cfc"/>
<rect x="1436.04" y="746.80" width="29.27" height="29.28" fill="#fcd0d0"/>
<rect x="1467.91" y="746.80" width="29.27" height="29.28" fill="#5050fc"/>
<rect x="1499.78" y="746.80" width="29.27" height="29.28" fill="#a0a0fc"/>
<rect x="1531.65" y="746.80" width="29.27" height="29.28" fill="#7474fc"/>
<rect x="1563.52" y="746.80" width="29.27" height="29.28" fill="#1c1cfc"/>
<rect x="1595.39" y="746.80" width="29.27" height="29.28" fill="#0000fc"/>
<rect x="1627.26" y="746.80" width="29.27" height="29.28" fill="#acacfc"/>
<rect x="1659.13" y="746.80" width="29.27" height="29.28" fill="#3838fc"/>
<rect x="1691.00" y="746.80" width="29.27" height="29.28" fill="#1818f4"/>
<rect x="1722.87" y="746.80" width="29.27" height="29.28" fill="#0c0cf0"/>
<rect x="1754.74" y="746.80" width="29.27" height="29.28" fill="#4040fc"/>
<rect x="1786.61" y="746.80" width="29.27" height="29.28" fill="#a4a4fc"/>
<rect x="1818.48" y="746.80" width="29.27" height="29.28" fill="#8080fc"/>
<rect x="1850.35" y="746.80" width="29.27" height="29.28" fill="#3434fc"/>
<rect x="1882.22" y="746.80" width="29.27" height="29.28" fill="#5858fc"/>
<rect x="1914.09" y="746.80" width="29.27" height="29.28" fill="#d0d0fc"/>
<rect x="1945.96" y="746.80" width="29.27" height="29.28" fill="#7474fc"/>
<rect x="1053.60" y="778.68" width="29.27" height="29.28" fill="#fc9c9c"/>
<rect x="1085.47" y="778.68" width="29.27" height="29.28" fill="#fca4a4"/>
<rect x="1117.34" y="778.68" width="29.27" height="29.28" fill="#fcacac"/>
<rect x="1149.21" y="778.68" width="29.27" height="29.28" fill="#fc4444"/>
<rect x="1181.08" y="778.68" width="29.27" height="29.28" fill="#ff0000"/>
<rect x="1212.95" y="778.68" width="29.27" height="29.28" fill="#fcc8c8"/>
<rect x="1244.82" y="778.68" width="29.27" height="29.28" fill="#fca4a4"/>
<rect x="1276.69" y="778.68" width="29.27" height="29.28" fill="#fcc4c4"/>
<rect x="1308.56" y="778.68" width="29.27" height="29.28" fill="#fc7878"/>
<rect x="1340.43" y="778.68" width="29.27" height="29.28" fill="#fc9c9c"/>
<rect x="1372.30" y="778.68" width="29.27" height="29.28" fill="#e8ecfc"/>
<rect x="1404.17" y="778.68" width="29.27" height="29.28" fill="#fcacac"/>
<rect x="1436.04" y="778.68" width="29.27" height="29.28" fill="#fcdcdc"/>
<rect x="1467.91" y="778.68" width="29.27" height="29.28" fill="#fca0a0"/>
<rect x="1499.78" y="778.68" width="29.27" height="29.28" fill="#fcdcd8"/>
<rect x="1531.65" y="778.68" width="29.27" height="29.28" fill="#fcb8b8"/>
<rect x="1563.52" y="778.68" width="29.27" height="29.28" fill="#fca0a0"/>
<rect x="1595.39" y="778.68" width="29.27" height="29.28" fill="#fc5c5c"/>
<rect x="1627.26" y="778.68" width="29.27" height="29.28" fill="#fc6464"/>
<rect x="1659.13" y="778.68" width="29.27" height="29.28" fill="#f8f8fc"/>
<rect x="1691.00" y="778.68" width="29.27" height="29.28" fill="#dcdcfc"/>
<rect x="1722.87" y="778.68" width="29.27" height="29.28" fill="#a0a0fc"/>
<rect x="1754.74" y="778.68" width="29.27" height="29.28" fill="#7c7cfc"/>
<rect x="1786.61" y="778.68" width="29.27" height="29.28" fill="#4444fc"/>
<rect x="1818.48" y="778.68" width="29.27" height="29.28" fill="#0000f8"/>
<rect x="1850.35" y="778.68" width="29.27" height="29.28" fill="#6c6cfc"/>
<rect x="1882.22" y="778.68" width="29.27" height="29.28" fill="#2c2cfc"/>
<rect x="1914.09" y="778.68" width="29.27" height="29.28" fill="#9090fc"/>
<rect x="1945.96" y="778.68" width="29.27" height="29.28" fill="#6c6cfc"/>
<rect x="1053.60" y="810.56" width="29.27" height="29.28" fill="#e0e0fc"/>
<rect x="1085.47" y="810.56" width="29.27" height="29.28" fill="#fff0f0"/>
<rect x="1117.34" y="810.56" width="29.27" height="29.28" fill="#e0e0fc"/>
<rect x="1149.21" y="810.56" width="29.27" height="29.28" fill="#fce4e4"/>
<rect x="1181.08" y="810.56" width="29.27" height="29.28" fill="#fc4040"/>
<rect x="1212.95" y="810.56" width="29.27" height="29.28" fill="#ececfc"/>
<rect x="1244.82" y="810.56" width="29.27" height="29.28" fill="#aaa8fc"/>
<rect x="1276.69" y="810.56" width="29.27" height="29.28" fill="#fffaf8"/>
<rect x="1308.56" y="810.56" width="29.27" height="29.28" fill="#fc3838"/>
<rect x="1340.43" y="810.56" width="29.27" height="29.28" fill="#bcbcfc"/>
<rect x="1372.30" y="810.56" width="29.27" height="29.28" fill="#fc3434"/>
<rect x="1404.17" y="810.56" width="29.27" height="29.28" fill="#fc1c1c"/>
<rect x="1436.04" y="810.56" width="29.27" height="29.28" fill="#ff0000"/>
<rect x="1467.91" y="810.56" width="29.27" height="29.28" fill="#9c9cfc"/>
<rect x="1499.78" y="810.56" width="29.27" height="29.28" fill="#b0b0fc"/>
<rect x="1531.65" y="810.56" width="29.27" height="29.28" fill="#a0a0fc"/>
<rect x="1563.52" y="810.56" width="29.27" height="29.28" fill="#acacfc"/>
<rect x="1595.39" y="810.56" width="29.27" height="29.28" fill="#9c9cfc"/>
<rect x="1627.26" y="810.56" width="29.27" height="29.28" fill="#6464fc"/>
<rect x="1659.13" y="810.56" width="29.27" height="29.28" fill="#1c1cfc"/>
<rect x="1691.00" y="810.56" width="29.27" height="29.28" fill="#0000f8"/>
<rect x="1722.87" y="810.56" width="29.27" height="29.28" fill="#b8b8fc"/>
<rect x="1754.74" y="810.56" width="29.27" height="29.28" fill="#8484fc"/>
<rect x="1786.61" y="810.56" width="29.27" height="29.28" fill="#9898fc"/>
<rect x="1818.48" y="810.56" width="29.27" height="29.28" fill="#2020fc"/>
<rect x="1850.35" y="810.56" width="29.27" height="29.28" fill="#6868fc"/>
<rect x="1882.22" y="810.56" width="29.27" height="29.28" fill="#acacfc"/>
<rect x="1914.09" y="810.56" width="29.27" height="29.28" fill="#5858fc"/>
<rect x="1945.96" y="810.56" width="29.27" height="29.28" fill="#6464fc"/>
<rect x="1053.60" y="842.44" width="29.27" height="29.28" fill="#fce8e8"/>
<rect x="1085.47" y="842.44" width="29.27" height="29.28" fill="#fcbcbc"/>
<rect x="1117.34" y="842.44" width="29.27" height="29.28" fill="#fce8e8"/>
<rect x="1149.21" y="842.44" width="29.27" height="29.28" fill="#fc8484"/>
<rect x="1181.08" y="842.44" width="29.27" height="29.28" fill="#ff0000"/>
<rect x="1212.95" y="842.44" width="29.27" height="29.28" fill="#e8e8fc"/>
<rect x="1244.82" y="842.44" width="29.27" height="29.28" fill="#aaaafc"/>
<rect x="1276.69" y="842.44" width="29.27" height="29.28" fill="#8c8cfc"/>
<rect x="1308.56" y="842.44" width="29.27" height="29.28" fill="#fcdcdc"/>
<rect x="1340.43" y="842.44" width="29.27" height="29.28" fill="#fff0ee"/>
<rect x="1372.30" y="842.44" width="29.27" height="29.28" fill="#fc9c9c"/>
<rect x="1404.17" y="842.44" width="29.27" height="29.28" fill="#fc5c5c"/>
<rect x="1436.04" y="842.44" width="29.27" height="29.28" fill="#fc3030"/>
<rect x="1467.91" y="842.44" width="29.27" height="29.28" fill="#7474fc"/>
<rect x="1499.78" y="842.44" width="29.27" height="29.28" fill="#7070fc"/>
<rect x="1531.65" y="842.44" width="29.27" height="29.28" fill="#5454fc"/>
<rect x="1563.52" y="842.44" width="29.27" height="29.28" fill="#5050fc"/>
<rect x="1595.39" y="842.44" width="29.27" height="29.28" fill="#5050fc"/>
<rect x="1627.26" y="842.44" width="29.27" height="29.28" fill="#7070fc"/>
<rect x="1659.13" y="842.44" width="29.27" height="29.28" fill="#5050fc"/>
<rect x="1691.00" y="842.44" width="29.27" height="29.28" fill="#2c2cfc"/>
<rect x="1722.87" y="842.44" width="29.27" height="29.28" fill="#8888fc"/>
<rect x="1754.74" y="842.44" width="29.27" height="29.28" fill="#4444fc"/>
<rect x="1786.61" y="842.44" width="29.27" height="29.28" fill="#4c4cfc"/>
<rect x="1818.48" y="842.44" width="29.27" height="29.28" fill="#0000fc"/>
<rect x="1850.35" y="842.44" width="29.27" height="29.28" fill="#5c5cfc"/>
<rect x="1882.22" y="842.44" width="29.27" height="29.28" fill="#5454fc"/>
<rect x="1914.09" y="842.44" width="29.27" height="29.28" fill="#6c6cfc"/>
<rect x="1945.96" y="842.44" width="29.27" height="29.28" fill="#5858fc"/>
<text x="1986.8" y="451.4" font-size="29" fill="#0a8a4a" stroke="#0a8a4a" text-anchor="start" font-weight="normal" font-style="normal" >SEPP1</text>
<text x="1986.8" y="483.5" font-size="29" fill="#0a8a4a" stroke="#0a8a4a" text-anchor="start" font-weight="normal" font-style="normal" >CFD</text>
<text x="1986.8" y="515.6" font-size="29" fill="#0a8a4a" stroke="#0a8a4a" text-anchor="start" font-weight="normal" font-style="normal" >PLD3</text>
<text x="1986.8" y="547.7" font-size="29" fill="#0a8a4a" stroke="#0a8a4a" text-anchor="start" font-weight="normal" font-style="normal" >SLC40A1</text>
<text x="1986.8" y="579.8" font-size="29" fill="#0a8a4a" stroke="#0a8a4a" text-anchor="start" font-weight="normal" font-style="normal" >TXNIP</text>
<text x="1986.8" y="611.9" font-size="29" fill="#0a8a4a" stroke="#0a8a4a" text-anchor="start" font-weight="normal" font-style="normal" >PLTP</text>
<text x="1986.8" y="644.0" font-size="29" fill="#0a8a4a" stroke="#0a8a4a" text-anchor="start" font-weight="normal" font-style="normal" >ACP5</text>
<text x="1986.8" y="676.1" font-size="29" fill="#0a8a4a" stroke="#0a8a4a" text-anchor="start" font-weight="normal" font-style="normal" >BLVRB</text>
<text x="1986.8" y="708.2" font-size="29" fill="#0a8a4a" stroke="#0a8a4a" text-anchor="start" font-weight="normal" font-style="normal" >RNASE1</text>
<text x="1986.8" y="740.3" font-size="29" fill="#0a8a4a" stroke="#0a8a4a" text-anchor="start" font-weight="normal" font-style="normal" >MPEG1</text>
<text x="1986.8" y="772.4" font-size="29" fill="#0a8a4a" stroke="#0a8a4a" text-anchor="start" font-weight="normal" font-style="normal" >CLEC10A</text>
<text x="1986.8" y="804.5" font-size="29" fill="#0a8a4a" stroke="#0a8a4a" text-anchor="start" font-weight="normal" font-style="normal" >ME1</text>
<text x="1986.8" y="836.6" font-size="29" fill="#0a8a4a" stroke="#0a8a4a" text-anchor="start" font-weight="normal" font-style="normal" >LGMN</text>
<text x="1986.8" y="868.7" font-size="29" fill="#0a8a4a" stroke="#0a8a4a" text-anchor="start" font-weight="normal" font-style="normal" >FOLR2</text>
<defs><linearGradient id="gd" x1="0" x2="1" y1="0" y2="0"><stop offset="0" stop-color="#0000ff"/><stop offset="0.5" stop-color="#ffffff"/><stop offset="1" stop-color="#ff0000"/></linearGradient></defs>
<rect x="1096.9" y="1020.5" width="443.8" height="25.5" fill="url(#gd)" stroke="#cfcfcf" stroke-width="1"/>
<text x="1054.0" y="1071.3" font-size="25.3" fill="#000" stroke="#000" text-anchor="start" font-weight="normal" font-style="normal" >row min</text>
<text x="1495.0" y="1071.3" font-size="25.3" fill="#000" stroke="#000" text-anchor="start" font-weight="normal" font-style="normal" >row max</text>
<line x1="1067.4" y1="1108.8" x2="1067.4" y2="1316" stroke="#ececec" stroke-width="1.6"/>
<line x1="1098.5" y1="1108.8" x2="1098.5" y2="1316" stroke="#ececec" stroke-width="1.6"/>
<line x1="1129.7" y1="1108.8" x2="1129.7" y2="1316" stroke="#ececec" stroke-width="1.6"/>
<line x1="1160.8" y1="1108.8" x2="1160.8" y2="1316" stroke="#ececec" stroke-width="1.6"/>
<line x1="1192.0" y1="1108.8" x2="1192.0" y2="1316" stroke="#ececec" stroke-width="1.6"/>
<line x1="1223.1" y1="1108.8" x2="1223.1" y2="1316" stroke="#ececec" stroke-width="1.6"/>
<line x1="1254.2" y1="1108.8" x2="1254.2" y2="1316" stroke="#ececec" stroke-width="1.6"/>
<line x1="1285.4" y1="1108.8" x2="1285.4" y2="1316" stroke="#ececec" stroke-width="1.6"/>
<line x1="1316.5" y1="1108.8" x2="1316.5" y2="1316" stroke="#ececec" stroke-width="1.6"/>
<line x1="1347.7" y1="1108.8" x2="1347.7" y2="1316" stroke="#ececec" stroke-width="1.6"/>
<line x1="1378.8" y1="1108.8" x2="1378.8" y2="1316" stroke="#ececec" stroke-width="1.6"/>
<line x1="1409.9" y1="1108.8" x2="1409.9" y2="1316" stroke="#ececec" stroke-width="1.6"/>
<line x1="1441.1" y1="1108.8" x2="1441.1" y2="1316" stroke="#ececec" stroke-width="1.6"/>
<line x1="1472.2" y1="1108.8" x2="1472.2" y2="1316" stroke="#ececec" stroke-width="1.6"/>
<line x1="1503.3" y1="1108.8" x2="1503.3" y2="1316" stroke="#ececec" stroke-width="1.6"/>
<line x1="1534.5" y1="1108.8" x2="1534.5" y2="1316" stroke="#ececec" stroke-width="1.6"/>
<line x1="1565.6" y1="1108.8" x2="1565.6" y2="1316" stroke="#ececec" stroke-width="1.6"/>
<line x1="1596.8" y1="1108.8" x2="1596.8" y2="1316" stroke="#ececec" stroke-width="1.6"/>
<line x1="1627.9" y1="1108.8" x2="1627.9" y2="1316" stroke="#ececec" stroke-width="1.6"/>
<line x1="1659.0" y1="1108.8" x2="1659.0" y2="1316" stroke="#ececec" stroke-width="1.6"/>
<line x1="1690.2" y1="1108.8" x2="1690.2" y2="1316" stroke="#ececec" stroke-width="1.6"/>
<line x1="1721.3" y1="1108.8" x2="1721.3" y2="1316" stroke="#ececec" stroke-width="1.6"/>
<line x1="1752.5" y1="1108.8" x2="1752.5" y2="1316" stroke="#ececec" stroke-width="1.6"/>
<line x1="1783.6" y1="1108.8" x2="1783.6" y2="1316" stroke="#ececec" stroke-width="1.6"/>
<line x1="1814.8" y1="1108.8" x2="1814.8" y2="1316" stroke="#ececec" stroke-width="1.6"/>
<line x1="1845.9" y1="1108.8" x2="1845.9" y2="1316" stroke="#ececec" stroke-width="1.6"/>
<line x1="1877.0" y1="1108.8" x2="1877.0" y2="1316" stroke="#ececec" stroke-width="1.6"/>
<line x1="1908.2" y1="1108.8" x2="1908.2" y2="1316" stroke="#ececec" stroke-width="1.6"/>
<line x1="1939.3" y1="1108.8" x2="1939.3" y2="1316" stroke="#ececec" stroke-width="1.6"/>
<text transform="translate(1061.2,1314.5) rotate(-90)" font-size="26" fill="#000" stroke="#000" text-anchor="start" font-style="normal">Baseline</text>
<text transform="translate(1092.3,1314.5) rotate(-90)" font-size="26" fill="#000" stroke="#000" text-anchor="start" font-style="normal">IFNb</text>
<text transform="translate(1123.5,1314.5) rotate(-90)" font-size="26" fill="#000" stroke="#000" text-anchor="start" font-style="normal">HDL</text>
<text transform="translate(1154.6,1314.5) rotate(-90)" font-size="26" fill="#000" stroke="#000" text-anchor="start" font-style="normal">IL10</text>
<text transform="translate(1185.7,1314.5) rotate(-90)" font-size="26" fill="#000" stroke="#000" text-anchor="start" font-style="normal">GC</text>
<text transform="translate(1216.9,1314.5) rotate(-90)" font-size="26" fill="#000" stroke="#000" text-anchor="start" font-style="normal">IL4</text>
<text transform="translate(1248.0,1314.5) rotate(-90)" font-size="26" fill="#000" stroke="#000" text-anchor="start" font-style="normal">IL13</text>
<text transform="translate(1279.2,1314.5) rotate(-90)" font-size="26" fill="#000" stroke="#000" text-anchor="start" font-style="normal">IL4_upLPS</text>
<text transform="translate(1310.3,1314.5) rotate(-90)" font-size="26" fill="#000" stroke="#000" text-anchor="start" font-style="normal">upLPS_IC</text>
<text transform="translate(1341.4,1314.5) rotate(-90)" font-size="26" fill="#000" stroke="#000" text-anchor="start" font-style="normal">upLPS</text>
<text transform="translate(1372.6,1314.5) rotate(-90)" font-size="26" fill="#000" stroke="#000" text-anchor="start" font-style="normal">P3C_PGE2</text>
<text transform="translate(1403.7,1314.5) rotate(-90)" font-size="26" fill="#000" stroke="#000" text-anchor="start" font-style="normal">P3C</text>
<text transform="translate(1434.9,1314.5) rotate(-90)" font-size="26" fill="#000" stroke="#000" text-anchor="start" font-style="normal">PGE2</text>
<text transform="translate(1466.0,1314.5) rotate(-90)" font-size="26" fill="#000" stroke="#000" text-anchor="start" font-style="normal">LA</text>
<text transform="translate(1497.1,1314.5) rotate(-90)" font-size="26" fill="#000" stroke="#000" text-anchor="start" font-style="normal">OA</text>
<text transform="translate(1528.3,1314.5) rotate(-90)" font-size="26" fill="#000" stroke="#000" text-anchor="start" font-style="normal">LiA</text>
<text transform="translate(1559.4,1314.5) rotate(-90)" font-size="26" fill="#000" stroke="#000" text-anchor="start" font-style="normal">SA</text>
<text transform="translate(1590.6,1314.5) rotate(-90)" font-size="26" fill="#000" stroke="#000" text-anchor="start" font-style="normal">PA</text>
<text transform="translate(1621.7,1314.5) rotate(-90)" font-size="26" fill="#000" stroke="#000" text-anchor="start" font-style="normal">IFNg</text>
<text transform="translate(1652.8,1314.5) rotate(-90)" font-size="26" fill="#000" stroke="#000" text-anchor="start" font-style="normal">TNF</text>
<text transform="translate(1684.0,1314.5) rotate(-90)" font-size="26" fill="#000" stroke="#000" text-anchor="start" font-style="normal">IFNg_TNF</text>
<text transform="translate(1715.1,1314.5) rotate(-90)" font-size="26" fill="#000" stroke="#000" text-anchor="start" font-style="normal">sLPS</text>
<text transform="translate(1746.3,1314.5) rotate(-90)" font-size="26" fill="#000" stroke="#000" text-anchor="start" font-style="normal">sLPS_IFNg</text>
<text transform="translate(1777.4,1314.5) rotate(-90)" font-size="26" fill="#000" stroke="#000" text-anchor="start" font-style="normal">sLPS_IC</text>
<text transform="translate(1808.5,1314.5) rotate(-90)" font-size="26" fill="#000" stroke="#000" text-anchor="start" font-style="normal">TNF_PGE2</text>
<text transform="translate(1839.7,1314.5) rotate(-90)" font-size="26" fill="#000" stroke="#000" text-anchor="start" font-style="normal">TNF_P3C</text>
<text transform="translate(1870.8,1314.5) rotate(-90)" font-size="26" fill="#000" stroke="#000" text-anchor="start" font-style="normal">TPP</text>
<text transform="translate(1902.0,1314.5) rotate(-90)" font-size="26" fill="#000" stroke="#000" text-anchor="start" font-style="normal">TPP_IFNb</text>
<text transform="translate(1933.1,1314.5) rotate(-90)" font-size="26" fill="#000" stroke="#000" text-anchor="start" font-style="normal">TPP_IFNb_IFNg</text>
<rect x="1037.90" y="1332.00" width="27.84" height="27.91" fill="#4444fc"/>
<rect x="1069.04" y="1332.00" width="27.84" height="27.91" fill="#9494fc"/>
<rect x="1100.18" y="1332.00" width="27.84" height="27.91" fill="#4444fc"/>
<rect x="1131.32" y="1332.00" width="27.84" height="27.91" fill="#0c0cf4"/>
<rect x="1162.46" y="1332.00" width="27.84" height="27.91" fill="#1818fc"/>
<rect x="1193.60" y="1332.00" width="27.84" height="27.91" fill="#4444fc"/>
<rect x="1224.74" y="1332.00" width="27.84" height="27.91" fill="#2020fc"/>
<rect x="1255.88" y="1332.00" width="27.84" height="27.91" fill="#5c5cfc"/>
<rect x="1287.02" y="1332.00" width="27.84" height="27.91" fill="#0c0cf4"/>
<rect x="1318.16" y="1332.00" width="27.84" height="27.91" fill="#6868fc"/>
<rect x="1349.30" y="1332.00" width="27.84" height="27.91" fill="#4848fc"/>
<rect x="1380.44" y="1332.00" width="27.84" height="27.91" fill="#6c6cfc"/>
<rect x="1411.58" y="1332.00" width="27.84" height="27.91" fill="#5c5cfc"/>
<rect x="1442.72" y="1332.00" width="27.84" height="27.91" fill="#a4a4fc"/>
<rect x="1473.86" y="1332.00" width="27.84" height="27.91" fill="#acacfc"/>
<rect x="1505.00" y="1332.00" width="27.84" height="27.91" fill="#8c8cfc"/>
<rect x="1536.14" y="1332.00" width="27.84" height="27.91" fill="#8c8cfc"/>
<rect x="1567.28" y="1332.00" width="27.84" height="27.91" fill="#9c9cfc"/>
<rect x="1598.42" y="1332.00" width="27.84" height="27.91" fill="#ff0000"/>
<rect x="1629.56" y="1332.00" width="27.84" height="27.91" fill="#4848fc"/>
<rect x="1660.70" y="1332.00" width="27.84" height="27.91" fill="#fcacac"/>
<rect x="1691.84" y="1332.00" width="27.84" height="27.91" fill="#0c0cf4"/>
<rect x="1722.98" y="1332.00" width="27.84" height="27.91" fill="#fce0e0"/>
<rect x="1754.12" y="1332.00" width="27.84" height="27.91" fill="#0000f4"/>
<rect x="1785.26" y="1332.00" width="27.84" height="27.91" fill="#0c0cfc"/>
<rect x="1816.40" y="1332.00" width="27.84" height="27.91" fill="#4040fc"/>
<rect x="1847.54" y="1332.00" width="27.84" height="27.91" fill="#0404f4"/>
<rect x="1878.68" y="1332.00" width="27.84" height="27.91" fill="#4c4cfc"/>
<rect x="1909.82" y="1332.00" width="27.84" height="27.91" fill="#f8f8fc"/>
<rect x="1037.90" y="1363.21" width="27.84" height="27.91" fill="#8888fc"/>
<rect x="1069.04" y="1363.21" width="27.84" height="27.91" fill="#6868fc"/>
<rect x="1100.18" y="1363.21" width="27.84" height="27.91" fill="#9494fc"/>
<rect x="1131.32" y="1363.21" width="27.84" height="27.91" fill="#0c0cf4"/>
<rect x="1162.46" y="1363.21" width="27.84" height="27.91" fill="#5050fc"/>
<rect x="1193.60" y="1363.21" width="27.84" height="27.91" fill="#8888fc"/>
<rect x="1224.74" y="1363.21" width="27.84" height="27.91" fill="#3434fc"/>
<rect x="1255.88" y="1363.21" width="27.84" height="27.91" fill="#dcdcfc"/>
<rect x="1287.02" y="1363.21" width="27.84" height="27.91" fill="#dcdcfc"/>
<rect x="1318.16" y="1363.21" width="27.84" height="27.91" fill="#e0e0fc"/>
<rect x="1349.30" y="1363.21" width="27.84" height="27.91" fill="#8c8cfc"/>
<rect x="1380.44" y="1363.21" width="27.84" height="27.91" fill="#c8c8fc"/>
<rect x="1411.58" y="1363.21" width="27.84" height="27.91" fill="#5050fc"/>
<rect x="1442.72" y="1363.21" width="27.84" height="27.91" fill="#b0b0fc"/>
<rect x="1473.86" y="1363.21" width="27.84" height="27.91" fill="#d0d0fc"/>
<rect x="1505.00" y="1363.21" width="27.84" height="27.91" fill="#ececfc"/>
<rect x="1536.14" y="1363.21" width="27.84" height="27.91" fill="#b8b8fc"/>
<rect x="1567.28" y="1363.21" width="27.84" height="27.91" fill="#8c8cfc"/>
<rect x="1598.42" y="1363.21" width="27.84" height="27.91" fill="#ff0000"/>
<rect x="1629.56" y="1363.21" width="27.84" height="27.91" fill="#dcdcfc"/>
<rect x="1660.70" y="1363.21" width="27.84" height="27.91" fill="#fc4c4c"/>
<rect x="1691.84" y="1363.21" width="27.84" height="27.91" fill="#6c6cfc"/>
<rect x="1722.98" y="1363.21" width="27.84" height="27.91" fill="#f0f0fc"/>
<rect x="1754.12" y="1363.21" width="27.84" height="27.91" fill="#0000f0"/>
<rect x="1785.26" y="1363.21" width="27.84" height="27.91" fill="#7c7cfc"/>
<rect x="1816.40" y="1363.21" width="27.84" height="27.91" fill="#8080fc"/>
<rect x="1847.54" y="1363.21" width="27.84" height="27.91" fill="#8c8cfc"/>
<rect x="1878.68" y="1363.21" width="27.84" height="27.91" fill="#b4b4fc"/>
<rect x="1909.82" y="1363.21" width="27.84" height="27.91" fill="#9494fc"/>
<rect x="1037.90" y="1394.42" width="27.84" height="27.91" fill="#3c3cfc"/>
<rect x="1069.04" y="1394.42" width="27.84" height="27.91" fill="#3838fc"/>
<rect x="1100.18" y="1394.42" width="27.84" height="27.91" fill="#4040fc"/>
<rect x="1131.32" y="1394.42" width="27.84" height="27.91" fill="#2020fc"/>
<rect x="1162.46" y="1394.42" width="27.84" height="27.91" fill="#2c2cfc"/>
<rect x="1193.60" y="1394.42" width="27.84" height="27.91" fill="#4848fc"/>
<rect x="1224.74" y="1394.42" width="27.84" height="27.91" fill="#5454fc"/>
<rect x="1255.88" y="1394.42" width="27.84" height="27.91" fill="#5454fc"/>
<rect x="1287.02" y="1394.42" width="27.84" height="27.91" fill="#4444fc"/>
<rect x="1318.16" y="1394.42" width="27.84" height="27.91" fill="#5050fc"/>
<rect x="1349.30" y="1394.42" width="27.84" height="27.91" fill="#6060fc"/>
<rect x="1380.44" y="1394.42" width="27.84" height="27.91" fill="#9090fc"/>
<rect x="1411.58" y="1394.42" width="27.84" height="27.91" fill="#4040fc"/>
<rect x="1442.72" y="1394.42" width="27.84" height="27.91" fill="#2c2cfc"/>
<rect x="1473.86" y="1394.42" width="27.84" height="27.91" fill="#2c2cfc"/>
<rect x="1505.00" y="1394.42" width="27.84" height="27.91" fill="#3434fc"/>
<rect x="1536.14" y="1394.42" width="27.84" height="27.91" fill="#2828fc"/>
<rect x="1567.28" y="1394.42" width="27.84" height="27.91" fill="#2c2cfc"/>
<rect x="1598.42" y="1394.42" width="27.84" height="27.91" fill="#ff0000"/>
<rect x="1629.56" y="1394.42" width="27.84" height="27.91" fill="#6c6cfc"/>
<rect x="1660.70" y="1394.42" width="27.84" height="27.91" fill="#fc7c7c"/>
<rect x="1691.84" y="1394.42" width="27.84" height="27.91" fill="#4848fc"/>
<rect x="1722.98" y="1394.42" width="27.84" height="27.91" fill="#fcdcdc"/>
<rect x="1754.12" y="1394.42" width="27.84" height="27.91" fill="#0000f0"/>
<rect x="1785.26" y="1394.42" width="27.84" height="27.91" fill="#1818fc"/>
<rect x="1816.40" y="1394.42" width="27.84" height="27.91" fill="#5050fc"/>
<rect x="1847.54" y="1394.42" width="27.84" height="27.91" fill="#0808fc"/>
<rect x="1878.68" y="1394.42" width="27.84" height="27.91" fill="#4040fc"/>
<rect x="1909.82" y="1394.42" width="27.84" height="27.91" fill="#7c7cfc"/>
<rect x="1037.90" y="1425.63" width="27.84" height="27.91" fill="#2c2cfc"/>
<rect x="1069.04" y="1425.63" width="27.84" height="27.91" fill="#7070fc"/>
<rect x="1100.18" y="1425.63" width="27.84" height="27.91" fill="#0808fc"/>
<rect x="1131.32" y="1425.63" width="27.84" height="27.91" fill="#1818fc"/>
<rect x="1162.46" y="1425.63" width="27.84" height="27.91" fill="#0808fc"/>
<rect x="1193.60" y="1425.63" width="27.84" height="27.91" fill="#3c3cfc"/>
<rect x="1224.74" y="1425.63" width="27.84" height="27.91" fill="#1c1cfc"/>
<rect x="1255.88" y="1425.63" width="27.84" height="27.91" fill="#a0a0fc"/>
<rect x="1287.02" y="1425.63" width="27.84" height="27.91" fill="#3434fc"/>
<rect x="1318.16" y="1425.63" width="27.84" height="27.91" fill="#6464fc"/>
<rect x="1349.30" y="1425.63" width="27.84" height="27.91" fill="#3434fc"/>
<rect x="1380.44" y="1425.63" width="27.84" height="27.91" fill="#6464fc"/>
<rect x="1411.58" y="1425.63" width="27.84" height="27.91" fill="#1818fc"/>
<rect x="1442.72" y="1425.63" width="27.84" height="27.91" fill="#6464fc"/>
<rect x="1473.86" y="1425.63" width="27.84" height="27.91" fill="#8c8cfc"/>
<rect x="1505.00" y="1425.63" width="27.84" height="27.91" fill="#6c6cfc"/>
<rect x="1536.14" y="1425.63" width="27.84" height="27.91" fill="#6868fc"/>
<rect x="1567.28" y="1425.63" width="27.84" height="27.91" fill="#6060fc"/>
<rect x="1598.42" y="1425.63" width="27.84" height="27.91" fill="#fc0000"/>
<rect x="1629.56" y="1425.63" width="27.84" height="27.91" fill="#8080fc"/>
<rect x="1660.70" y="1425.63" width="27.84" height="27.91" fill="#fcd4d0"/>
<rect x="1691.84" y="1425.63" width="27.84" height="27.91" fill="#8c8cfc"/>
<rect x="1722.98" y="1425.63" width="27.84" height="27.91" fill="#fc5454"/>
<rect x="1754.12" y="1425.63" width="27.84" height="27.91" fill="#8484fc"/>
<rect x="1785.26" y="1425.63" width="27.84" height="27.91" fill="#acacfc"/>
<rect x="1816.40" y="1425.63" width="27.84" height="27.91" fill="#8c8cfc"/>
<rect x="1847.54" y="1425.63" width="27.84" height="27.91" fill="#3030fc"/>
<rect x="1878.68" y="1425.63" width="27.84" height="27.91" fill="#3838fc"/>
<rect x="1909.82" y="1425.63" width="27.84" height="27.91" fill="#fc4848"/>
<rect x="1037.90" y="1456.84" width="27.84" height="27.91" fill="#9090fc"/>
<rect x="1069.04" y="1456.84" width="27.84" height="27.91" fill="#fcdcd8"/>
<rect x="1100.18" y="1456.84" width="27.84" height="27.91" fill="#9c9cfc"/>
<rect x="1131.32" y="1456.84" width="27.84" height="27.91" fill="#8080fc"/>
<rect x="1162.46" y="1456.84" width="27.84" height="27.91" fill="#7878fc"/>
<rect x="1193.60" y="1456.84" width="27.84" height="27.91" fill="#a8a8fc"/>
<rect x="1224.74" y="1456.84" width="27.84" height="27.91" fill="#b4b4fc"/>
<rect x="1255.88" y="1456.84" width="27.84" height="27.91" fill="#fcd8d8"/>
<rect x="1287.02" y="1456.84" width="27.84" height="27.91" fill="#fcdcd8"/>
<rect x="1318.16" y="1456.84" width="27.84" height="27.91" fill="#c0c0fc"/>
<rect x="1349.30" y="1456.84" width="27.84" height="27.91" fill="#8080fc"/>
<rect x="1380.44" y="1456.84" width="27.84" height="27.91" fill="#b0b0fc"/>
<rect x="1411.58" y="1456.84" width="27.84" height="27.91" fill="#b4b4fc"/>
<rect x="1442.72" y="1456.84" width="27.84" height="27.91" fill="#e0e0fc"/>
<rect x="1473.86" y="1456.84" width="27.84" height="27.91" fill="#fcc4c4"/>
<rect x="1505.00" y="1456.84" width="27.84" height="27.91" fill="#fcc0bc"/>
<rect x="1536.14" y="1456.84" width="27.84" height="27.91" fill="#fce4e0"/>
<rect x="1567.28" y="1456.84" width="27.84" height="27.91" fill="#fcb0ac"/>
<rect x="1598.42" y="1456.84" width="27.84" height="27.91" fill="#ff0000"/>
<rect x="1629.56" y="1456.84" width="27.84" height="27.91" fill="#8080fc"/>
<rect x="1660.70" y="1456.84" width="27.84" height="27.91" fill="#fc8c8c"/>
<rect x="1691.84" y="1456.84" width="27.84" height="27.91" fill="#a4a4fc"/>
<rect x="1722.98" y="1456.84" width="27.84" height="27.91" fill="#fc0c0c"/>
<rect x="1754.12" y="1456.84" width="27.84" height="27.91" fill="#9c9cfc"/>
<rect x="1785.26" y="1456.84" width="27.84" height="27.91" fill="#0404f4"/>
<rect x="1816.40" y="1456.84" width="27.84" height="27.91" fill="#6464fc"/>
<rect x="1847.54" y="1456.84" width="27.84" height="27.91" fill="#0000f8"/>
<rect x="1878.68" y="1456.84" width="27.84" height="27.91" fill="#7c7cfc"/>
<rect x="1909.82" y="1456.84" width="27.84" height="27.91" fill="#fc2020"/>
<rect x="1037.90" y="1488.05" width="27.84" height="27.91" fill="#2424fc"/>
<rect x="1069.04" y="1488.05" width="27.84" height="27.91" fill="#5858fc"/>
<rect x="1100.18" y="1488.05" width="27.84" height="27.91" fill="#1c1cfc"/>
<rect x="1131.32" y="1488.05" width="27.84" height="27.91" fill="#1010fc"/>
<rect x="1162.46" y="1488.05" width="27.84" height="27.91" fill="#3030fc"/>
<rect x="1193.60" y="1488.05" width="27.84" height="27.91" fill="#1818fc"/>
<rect x="1224.74" y="1488.05" width="27.84" height="27.91" fill="#0c0cfc"/>
<rect x="1255.88" y="1488.05" width="27.84" height="27.91" fill="#9494fc"/>
<rect x="1287.02" y="1488.05" width="27.84" height="27.91" fill="#6c6cfc"/>
<rect x="1318.16" y="1488.05" width="27.84" height="27.91" fill="#7c7cfc"/>
<rect x="1349.30" y="1488.05" width="27.84" height="27.91" fill="#1818fc"/>
<rect x="1380.44" y="1488.05" width="27.84" height="27.91" fill="#4444fc"/>
<rect x="1411.58" y="1488.05" width="27.84" height="27.91" fill="#0000fc"/>
<rect x="1442.72" y="1488.05" width="27.84" height="27.91" fill="#3434fc"/>
<rect x="1473.86" y="1488.05" width="27.84" height="27.91" fill="#5858fc"/>
<rect x="1505.00" y="1488.05" width="27.84" height="27.91" fill="#3c3cfc"/>
<rect x="1536.14" y="1488.05" width="27.84" height="27.91" fill="#4444fc"/>
<rect x="1567.28" y="1488.05" width="27.84" height="27.91" fill="#5050fc"/>
<rect x="1598.42" y="1488.05" width="27.84" height="27.91" fill="#ff0000"/>
<rect x="1629.56" y="1488.05" width="27.84" height="27.91" fill="#9090fc"/>
<rect x="1660.70" y="1488.05" width="27.84" height="27.91" fill="#fc4c4c"/>
<rect x="1691.84" y="1488.05" width="27.84" height="27.91" fill="#ececfc"/>
<rect x="1722.98" y="1488.05" width="27.84" height="27.91" fill="#fc0c0c"/>
<rect x="1754.12" y="1488.05" width="27.84" height="27.91" fill="#c0c0fc"/>
<rect x="1785.26" y="1488.05" width="27.84" height="27.91" fill="#acacfc"/>
<rect x="1816.40" y="1488.05" width="27.84" height="27.91" fill="#9494fc"/>
<rect x="1847.54" y="1488.05" width="27.84" height="27.91" fill="#5050fc"/>
<rect x="1878.68" y="1488.05" width="27.84" height="27.91" fill="#a0a0fc"/>
<rect x="1909.82" y="1488.05" width="27.84" height="27.91" fill="#fc5858"/>
<rect x="1037.90" y="1519.26" width="27.84" height="27.91" fill="#8c8cfc"/>
<rect x="1069.04" y="1519.26" width="27.84" height="27.91" fill="#fc5c5c"/>
<rect x="1100.18" y="1519.26" width="27.84" height="27.91" fill="#6868fc"/>
<rect x="1131.32" y="1519.26" width="27.84" height="27.91" fill="#6c6cfc"/>
<rect x="1162.46" y="1519.26" width="27.84" height="27.91" fill="#4c4cfc"/>
<rect x="1193.60" y="1519.26" width="27.84" height="27.91" fill="#9090fc"/>
<rect x="1224.74" y="1519.26" width="27.84" height="27.91" fill="#2020fc"/>
<rect x="1255.88" y="1519.26" width="27.84" height="27.91" fill="#fff0ec"/>
<rect x="1287.02" y="1519.26" width="27.84" height="27.91" fill="#6464fc"/>
<rect x="1318.16" y="1519.26" width="27.84" height="27.91" fill="#ececfc"/>
<rect x="1349.30" y="1519.26" width="27.84" height="27.91" fill="#7474fc"/>
<rect x="1380.44" y="1519.26" width="27.84" height="27.91" fill="#a0a0fc"/>
<rect x="1411.58" y="1519.26" width="27.84" height="27.91" fill="#d0d0fc"/>
<rect x="1442.72" y="1519.26" width="27.84" height="27.91" fill="#fc1818"/>
<rect x="1473.86" y="1519.26" width="27.84" height="27.91" fill="#fc2020"/>
<rect x="1505.00" y="1519.26" width="27.84" height="27.91" fill="#fc9494"/>
<rect x="1536.14" y="1519.26" width="27.84" height="27.91" fill="#fc2020"/>
<rect x="1567.28" y="1519.26" width="27.84" height="27.91" fill="#fc0000"/>
<rect x="1598.42" y="1519.26" width="27.84" height="27.91" fill="#fcb0ac"/>
<rect x="1629.56" y="1519.26" width="27.84" height="27.91" fill="#4848fc"/>
<rect x="1660.70" y="1519.26" width="27.84" height="27.91" fill="#7474fc"/>
<rect x="1691.84" y="1519.26" width="27.84" height="27.91" fill="#b8b8fc"/>
<rect x="1722.98" y="1519.26" width="27.84" height="27.91" fill="#c0c0fc"/>
<rect x="1754.12" y="1519.26" width="27.84" height="27.91" fill="#fff0ee"/>
<rect x="1785.26" y="1519.26" width="27.84" height="27.91" fill="#0000f8"/>
<rect x="1816.40" y="1519.26" width="27.84" height="27.91" fill="#1c1cfc"/>
<rect x="1847.54" y="1519.26" width="27.84" height="27.91" fill="#4444fc"/>
<rect x="1878.68" y="1519.26" width="27.84" height="27.91" fill="#b0b0fc"/>
<rect x="1909.82" y="1519.26" width="27.84" height="27.91" fill="#fcb0ac"/>
<rect x="1037.90" y="1550.47" width="27.84" height="27.91" fill="#5454fc"/>
<rect x="1069.04" y="1550.47" width="27.84" height="27.91" fill="#d0d0fc"/>
<rect x="1100.18" y="1550.47" width="27.84" height="27.91" fill="#3030fc"/>
<rect x="1131.32" y="1550.47" width="27.84" height="27.91" fill="#1c1cfc"/>
<rect x="1162.46" y="1550.47" width="27.84" height="27.91" fill="#3c3cfc"/>
<rect x="1193.60" y="1550.47" width="27.84" height="27.91" fill="#6c6cfc"/>
<rect x="1224.74" y="1550.47" width="27.84" height="27.91" fill="#4040fc"/>
<rect x="1255.88" y="1550.47" width="27.84" height="27.91" fill="#acacfc"/>
<rect x="1287.02" y="1550.47" width="27.84" height="27.91" fill="#4c4cfc"/>
<rect x="1318.16" y="1550.47" width="27.84" height="27.91" fill="#fff4f0"/>
<rect x="1349.30" y="1550.47" width="27.84" height="27.91" fill="#5c5cfc"/>
<rect x="1380.44" y="1550.47" width="27.84" height="27.91" fill="#5c5cfc"/>
<rect x="1411.58" y="1550.47" width="27.84" height="27.91" fill="#7070fc"/>
<rect x="1442.72" y="1550.47" width="27.84" height="27.91" fill="#c4c4fc"/>
<rect x="1473.86" y="1550.47" width="27.84" height="27.91" fill="#9c9cfc"/>
<rect x="1505.00" y="1550.47" width="27.84" height="27.91" fill="#7070fc"/>
<rect x="1536.14" y="1550.47" width="27.84" height="27.91" fill="#fc5454"/>
<rect x="1567.28" y="1550.47" width="27.84" height="27.91" fill="#fc0000"/>
<rect x="1598.42" y="1550.47" width="27.84" height="27.91" fill="#fc4040"/>
<rect x="1629.56" y="1550.47" width="27.84" height="27.91" fill="#2020fc"/>
<rect x="1660.70" y="1550.47" width="27.84" height="27.91" fill="#fc8888"/>
<rect x="1691.84" y="1550.47" width="27.84" height="27.91" fill="#9494fc"/>
<rect x="1722.98" y="1550.47" width="27.84" height="27.91" fill="#d4d4fc"/>
<rect x="1754.12" y="1550.47" width="27.84" height="27.91" fill="#7070fc"/>
<rect x="1785.26" y="1550.47" width="27.84" height="27.91" fill="#0000f8"/>
<rect x="1816.40" y="1550.47" width="27.84" height="27.91" fill="#4848fc"/>
<rect x="1847.54" y="1550.47" width="27.84" height="27.91" fill="#0c0cf8"/>
<rect x="1878.68" y="1550.47" width="27.84" height="27.91" fill="#6464fc"/>
<rect x="1909.82" y="1550.47" width="27.84" height="27.91" fill="#f0f0fc"/>
<rect x="1037.90" y="1581.68" width="27.84" height="27.91" fill="#9494fc"/>
<rect x="1069.04" y="1581.68" width="27.84" height="27.91" fill="#fcd4d0"/>
<rect x="1100.18" y="1581.68" width="27.84" height="27.91" fill="#8c8cfc"/>
<rect x="1131.32" y="1581.68" width="27.84" height="27.91" fill="#8484fc"/>
<rect x="1162.46" y="1581.68" width="27.84" height="27.91" fill="#7070fc"/>
<rect x="1193.60" y="1581.68" width="27.84" height="27.91" fill="#a4a4fc"/>
<rect x="1224.74" y="1581.68" width="27.84" height="27.91" fill="#bcbcfc"/>
<rect x="1255.88" y="1581.68" width="27.84" height="27.91" fill="#f4f4fc"/>
<rect x="1287.02" y="1581.68" width="27.84" height="27.91" fill="#8484fc"/>
<rect x="1318.16" y="1581.68" width="27.84" height="27.91" fill="#fce0dc"/>
<rect x="1349.30" y="1581.68" width="27.84" height="27.91" fill="#7878fc"/>
<rect x="1380.44" y="1581.68" width="27.84" height="27.91" fill="#a8a8fc"/>
<rect x="1411.58" y="1581.68" width="27.84" height="27.91" fill="#e0e0fc"/>
<rect x="1442.72" y="1581.68" width="27.84" height="27.91" fill="#fff4f0"/>
<rect x="1473.86" y="1581.68" width="27.84" height="27.91" fill="#fcc8c4"/>
<rect x="1505.00" y="1581.68" width="27.84" height="27.91" fill="#fce0dc"/>
<rect x="1536.14" y="1581.68" width="27.84" height="27.91" fill="#fce4e4"/>
<rect x="1567.28" y="1581.68" width="27.84" height="27.91" fill="#fca4a0"/>
<rect x="1598.42" y="1581.68" width="27.84" height="27.91" fill="#fc0000"/>
<rect x="1629.56" y="1581.68" width="27.84" height="27.91" fill="#8c8cfc"/>
<rect x="1660.70" y="1581.68" width="27.84" height="27.91" fill="#fcc4c4"/>
<rect x="1691.84" y="1581.68" width="27.84" height="27.91" fill="#a8a8fc"/>
<rect x="1722.98" y="1581.68" width="27.84" height="27.91" fill="#fcdcdc"/>
<rect x="1754.12" y="1581.68" width="27.84" height="27.91" fill="#9c9cfc"/>
<rect x="1785.26" y="1581.68" width="27.84" height="27.91" fill="#0000fc"/>
<rect x="1816.40" y="1581.68" width="27.84" height="27.91" fill="#6464fc"/>
<rect x="1847.54" y="1581.68" width="27.84" height="27.91" fill="#3434fc"/>
<rect x="1878.68" y="1581.68" width="27.84" height="27.91" fill="#3838fc"/>
<rect x="1909.82" y="1581.68" width="27.84" height="27.91" fill="#acacfc"/>
<rect x="1037.90" y="1612.89" width="27.84" height="27.91" fill="#2828fc"/>
<rect x="1069.04" y="1612.89" width="27.84" height="27.91" fill="#8080fc"/>
<rect x="1100.18" y="1612.89" width="27.84" height="27.91" fill="#3c3cfc"/>
<rect x="1131.32" y="1612.89" width="27.84" height="27.91" fill="#1c1cfc"/>
<rect x="1162.46" y="1612.89" width="27.84" height="27.91" fill="#3c3cfc"/>
<rect x="1193.60" y="1612.89" width="27.84" height="27.91" fill="#4444fc"/>
<rect x="1224.74" y="1612.89" width="27.84" height="27.91" fill="#0000fc"/>
<rect x="1255.88" y="1612.89" width="27.84" height="27.91" fill="#b8b8fc"/>
<rect x="1287.02" y="1612.89" width="27.84" height="27.91" fill="#4848fc"/>
<rect x="1318.16" y="1612.89" width="27.84" height="27.91" fill="#c0c0fc"/>
<rect x="1349.30" y="1612.89" width="27.84" height="27.91" fill="#fce4dc"/>
<rect x="1380.44" y="1612.89" width="27.84" height="27.91" fill="#a8a8fc"/>
<rect x="1411.58" y="1612.89" width="27.84" height="27.91" fill="#dcdcfc"/>
<rect x="1442.72" y="1612.89" width="27.84" height="27.91" fill="#7878fc"/>
<rect x="1473.86" y="1612.89" width="27.84" height="27.91" fill="#6c6cfc"/>
<rect x="1505.00" y="1612.89" width="27.84" height="27.91" fill="#7070fc"/>
<rect x="1536.14" y="1612.89" width="27.84" height="27.91" fill="#ececfc"/>
<rect x="1567.28" y="1612.89" width="27.84" height="27.91" fill="#fce4e0"/>
<rect x="1598.42" y="1612.89" width="27.84" height="27.91" fill="#fcb4b4"/>
<rect x="1629.56" y="1612.89" width="27.84" height="27.91" fill="#8888fc"/>
<rect x="1660.70" y="1612.89" width="27.84" height="27.91" fill="#fcdcd8"/>
<rect x="1691.84" y="1612.89" width="27.84" height="27.91" fill="#fcc4c4"/>
<rect x="1722.98" y="1612.89" width="27.84" height="27.91" fill="#fcbcbc"/>
<rect x="1754.12" y="1612.89" width="27.84" height="27.91" fill="#ffffff"/>
<rect x="1785.26" y="1612.89" width="27.84" height="27.91" fill="#fca4a4"/>
<rect x="1816.40" y="1612.89" width="27.84" height="27.91" fill="#fffcfa"/>
<rect x="1847.54" y="1612.89" width="27.84" height="27.91" fill="#fce4e0"/>
<rect x="1878.68" y="1612.89" width="27.84" height="27.91" fill="#fc8c88"/>
<rect x="1909.82" y="1612.89" width="27.84" height="27.91" fill="#ff0000"/>
<rect x="1037.90" y="1644.10" width="27.84" height="27.91" fill="#7474fc"/>
<rect x="1069.04" y="1644.10" width="27.84" height="27.91" fill="#8c8cfc"/>
<rect x="1100.18" y="1644.10" width="27.84" height="27.91" fill="#6c6cfc"/>
<rect x="1131.32" y="1644.10" width="27.84" height="27.91" fill="#1414fc"/>
<rect x="1162.46" y="1644.10" width="27.84" height="27.91" fill="#5c5cfc"/>
<rect x="1193.60" y="1644.10" width="27.84" height="27.91" fill="#3c3cfc"/>
<rect x="1224.74" y="1644.10" width="27.84" height="27.91" fill="#0000fc"/>
<rect x="1255.88" y="1644.10" width="27.84" height="27.91" fill="#7474fc"/>
<rect x="1287.02" y="1644.10" width="27.84" height="27.91" fill="#acacfc"/>
<rect x="1318.16" y="1644.10" width="27.84" height="27.91" fill="#ccccfc"/>
<rect x="1349.30" y="1644.10" width="27.84" height="27.91" fill="#8888fc"/>
<rect x="1380.44" y="1644.10" width="27.84" height="27.91" fill="#ececfc"/>
<rect x="1411.58" y="1644.10" width="27.84" height="27.91" fill="#a4a4fc"/>
<rect x="1442.72" y="1644.10" width="27.84" height="27.91" fill="#fc4c4c"/>
<rect x="1473.86" y="1644.10" width="27.84" height="27.91" fill="#fc1414"/>
<rect x="1505.00" y="1644.10" width="27.84" height="27.91" fill="#fc8080"/>
<rect x="1536.14" y="1644.10" width="27.84" height="27.91" fill="#fc3838"/>
<rect x="1567.28" y="1644.10" width="27.84" height="27.91" fill="#fc9494"/>
<rect x="1598.42" y="1644.10" width="27.84" height="27.91" fill="#fcb0ac"/>
<rect x="1629.56" y="1644.10" width="27.84" height="27.91" fill="#fca4a4"/>
<rect x="1660.70" y="1644.10" width="27.84" height="27.91" fill="#fc4c4c"/>
<rect x="1691.84" y="1644.10" width="27.84" height="27.91" fill="#fc3434"/>
<rect x="1722.98" y="1644.10" width="27.84" height="27.91" fill="#ff0000"/>
<rect x="1754.12" y="1644.10" width="27.84" height="27.91" fill="#fcb4b4"/>
<rect x="1785.26" y="1644.10" width="27.84" height="27.91" fill="#fcb8b8"/>
<rect x="1816.40" y="1644.10" width="27.84" height="27.91" fill="#fc6c6c"/>
<rect x="1847.54" y="1644.10" width="27.84" height="27.91" fill="#d8d8fc"/>
<rect x="1878.68" y="1644.10" width="27.84" height="27.91" fill="#fcc8c8"/>
<rect x="1909.82" y="1644.10" width="27.84" height="27.91" fill="#fc5c5c"/>
<rect x="1037.90" y="1675.31" width="27.84" height="27.91" fill="#3c3cfc"/>
<rect x="1069.04" y="1675.31" width="27.84" height="27.91" fill="#a8a8fc"/>
<rect x="1100.18" y="1675.31" width="27.84" height="27.91" fill="#4040fc"/>
<rect x="1131.32" y="1675.31" width="27.84" height="27.91" fill="#0000f8"/>
<rect x="1162.46" y="1675.31" width="27.84" height="27.91" fill="#1010fc"/>
<rect x="1193.60" y="1675.31" width="27.84" height="27.91" fill="#6c6cfc"/>
<rect x="1224.74" y="1675.31" width="27.84" height="27.91" fill="#5050fc"/>
<rect x="1255.88" y="1675.31" width="27.84" height="27.91" fill="#acacfc"/>
<rect x="1287.02" y="1675.31" width="27.84" height="27.91" fill="#2424fc"/>
<rect x="1318.16" y="1675.31" width="27.84" height="27.91" fill="#a4a4fc"/>
<rect x="1349.30" y="1675.31" width="27.84" height="27.91" fill="#4040fc"/>
<rect x="1380.44" y="1675.31" width="27.84" height="27.91" fill="#3030fc"/>
<rect x="1411.58" y="1675.31" width="27.84" height="27.91" fill="#5050fc"/>
<rect x="1442.72" y="1675.31" width="27.84" height="27.91" fill="#7c7cfc"/>
<rect x="1473.86" y="1675.31" width="27.84" height="27.91" fill="#7474fc"/>
<rect x="1505.00" y="1675.31" width="27.84" height="27.91" fill="#7c7cfc"/>
<rect x="1536.14" y="1675.31" width="27.84" height="27.91" fill="#9090fc"/>
<rect x="1567.28" y="1675.31" width="27.84" height="27.91" fill="#c8c8fc"/>
<rect x="1598.42" y="1675.31" width="27.84" height="27.91" fill="#fc2424"/>
<rect x="1629.56" y="1675.31" width="27.84" height="27.91" fill="#8080fc"/>
<rect x="1660.70" y="1675.31" width="27.84" height="27.91" fill="#fc9494"/>
<rect x="1691.84" y="1675.31" width="27.84" height="27.91" fill="#bcbcfc"/>
<rect x="1722.98" y="1675.31" width="27.84" height="27.91" fill="#fc5454"/>
<rect x="1754.12" y="1675.31" width="27.84" height="27.91" fill="#b0b0fc"/>
<rect x="1785.26" y="1675.31" width="27.84" height="27.91" fill="#e4e4fc"/>
<rect x="1816.40" y="1675.31" width="27.84" height="27.91" fill="#acacfc"/>
<rect x="1847.54" y="1675.31" width="27.84" height="27.91" fill="#7474fc"/>
<rect x="1878.68" y="1675.31" width="27.84" height="27.91" fill="#f0f0fc"/>
<rect x="1909.82" y="1675.31" width="27.84" height="27.91" fill="#ff0000"/>
<rect x="1037.90" y="1706.52" width="27.84" height="27.91" fill="#8080fc"/>
<rect x="1069.04" y="1706.52" width="27.84" height="27.91" fill="#fca09c"/>
<rect x="1100.18" y="1706.52" width="27.84" height="27.91" fill="#7878fc"/>
<rect x="1131.32" y="1706.52" width="27.84" height="27.91" fill="#8c8cfc"/>
<rect x="1162.46" y="1706.52" width="27.84" height="27.91" fill="#5454fc"/>
<rect x="1193.60" y="1706.52" width="27.84" height="27.91" fill="#7070fc"/>
<rect x="1224.74" y="1706.52" width="27.84" height="27.91" fill="#4848fc"/>
<rect x="1255.88" y="1706.52" width="27.84" height="27.91" fill="#fce4e0"/>
<rect x="1287.02" y="1706.52" width="27.84" height="27.91" fill="#c8c8fc"/>
<rect x="1318.16" y="1706.52" width="27.84" height="27.91" fill="#fff4f0"/>
<rect x="1349.30" y="1706.52" width="27.84" height="27.91" fill="#7c7cfc"/>
<rect x="1380.44" y="1706.52" width="27.84" height="27.91" fill="#9c9cfc"/>
<rect x="1411.58" y="1706.52" width="27.84" height="27.91" fill="#d4d4fc"/>
<rect x="1442.72" y="1706.52" width="27.84" height="27.91" fill="#fcacac"/>
<rect x="1473.86" y="1706.52" width="27.84" height="27.91" fill="#fcacac"/>
<rect x="1505.00" y="1706.52" width="27.84" height="27.91" fill="#fcd0d0"/>
<rect x="1536.14" y="1706.52" width="27.84" height="27.91" fill="#fc9090"/>
<rect x="1567.28" y="1706.52" width="27.84" height="27.91" fill="#fc4c4c"/>
<rect x="1598.42" y="1706.52" width="27.84" height="27.91" fill="#ff0000"/>
<rect x="1629.56" y="1706.52" width="27.84" height="27.91" fill="#6c6cfc"/>
<rect x="1660.70" y="1706.52" width="27.84" height="27.91" fill="#fce0dc"/>
<rect x="1691.84" y="1706.52" width="27.84" height="27.91" fill="#fcd4d4"/>
<rect x="1722.98" y="1706.52" width="27.84" height="27.91" fill="#fca0a0"/>
<rect x="1754.12" y="1706.52" width="27.84" height="27.91" fill="#d4d4fc"/>
<rect x="1785.26" y="1706.52" width="27.84" height="27.91" fill="#0000fc"/>
<rect x="1816.40" y="1706.52" width="27.84" height="27.91" fill="#6464fc"/>
<rect x="1847.54" y="1706.52" width="27.84" height="27.91" fill="#2c2cfc"/>
<rect x="1878.68" y="1706.52" width="27.84" height="27.91" fill="#7474fc"/>
<rect x="1909.82" y="1706.52" width="27.84" height="27.91" fill="#fcd0d0"/>
<rect x="1037.90" y="1737.73" width="27.84" height="27.91" fill="#7c7cfc"/>
<rect x="1069.04" y="1737.73" width="27.84" height="27.91" fill="#acacfc"/>
<rect x="1100.18" y="1737.73" width="27.84" height="27.91" fill="#8484fc"/>
<rect x="1131.32" y="1737.73" width="27.84" height="27.91" fill="#9090fc"/>
<rect x="1162.46" y="1737.73" width="27.84" height="27.91" fill="#1414fc"/>
<rect x="1193.60" y="1737.73" width="27.84" height="27.91" fill="#4040fc"/>
<rect x="1224.74" y="1737.73" width="27.84" height="27.91" fill="#0000fc"/>
<rect x="1255.88" y="1737.73" width="27.84" height="27.91" fill="#9898fc"/>
<rect x="1287.02" y="1737.73" width="27.84" height="27.91" fill="#3838fc"/>
<rect x="1318.16" y="1737.73" width="27.84" height="27.91" fill="#9898fc"/>
<rect x="1349.30" y="1737.73" width="27.84" height="27.91" fill="#5050fc"/>
<rect x="1380.44" y="1737.73" width="27.84" height="27.91" fill="#4444fc"/>
<rect x="1411.58" y="1737.73" width="27.84" height="27.91" fill="#4444fc"/>
<rect x="1442.72" y="1737.73" width="27.84" height="27.91" fill="#8080fc"/>
<rect x="1473.86" y="1737.73" width="27.84" height="27.91" fill="#8888fc"/>
<rect x="1505.00" y="1737.73" width="27.84" height="27.91" fill="#9898fc"/>
<rect x="1536.14" y="1737.73" width="27.84" height="27.91" fill="#7c7cfc"/>
<rect x="1567.28" y="1737.73" width="27.84" height="27.91" fill="#8c8cfc"/>
<rect x="1598.42" y="1737.73" width="27.84" height="27.91" fill="#ff0000"/>
<rect x="1629.56" y="1737.73" width="27.84" height="27.91" fill="#7c7cfc"/>
<rect x="1660.70" y="1737.73" width="27.84" height="27.91" fill="#9c9cfc"/>
<rect x="1691.84" y="1737.73" width="27.84" height="27.91" fill="#f0f0fc"/>
<rect x="1722.98" y="1737.73" width="27.84" height="27.91" fill="#dcdcfc"/>
<rect x="1754.12" y="1737.73" width="27.84" height="27.91" fill="#5454fc"/>
<rect x="1785.26" y="1737.73" width="27.84" height="27.91" fill="#3838fc"/>
<rect x="1816.40" y="1737.73" width="27.84" height="27.91" fill="#5c5cfc"/>
<rect x="1847.54" y="1737.73" width="27.84" height="27.91" fill="#1010fc"/>
<rect x="1878.68" y="1737.73" width="27.84" height="27.91" fill="#9494fc"/>
<rect x="1909.82" y="1737.73" width="27.84" height="27.91" fill="#acacfc"/>
<rect x="1037.90" y="1768.94" width="27.84" height="27.91" fill="#3838fc"/>
<rect x="1069.04" y="1768.94" width="27.84" height="27.91" fill="#5050fc"/>
<rect x="1100.18" y="1768.94" width="27.84" height="27.91" fill="#2424fc"/>
<rect x="1131.32" y="1768.94" width="27.84" height="27.91" fill="#0c0cfc"/>
<rect x="1162.46" y="1768.94" width="27.84" height="27.91" fill="#0404fc"/>
<rect x="1193.60" y="1768.94" width="27.84" height="27.91" fill="#3838fc"/>
<rect x="1224.74" y="1768.94" width="27.84" height="27.91" fill="#2424fc"/>
<rect x="1255.88" y="1768.94" width="27.84" height="27.91" fill="#5858fc"/>
<rect x="1287.02" y="1768.94" width="27.84" height="27.91" fill="#6c6cfc"/>
<rect x="1318.16" y="1768.94" width="27.84" height="27.91" fill="#9494fc"/>
<rect x="1349.30" y="1768.94" width="27.84" height="27.91" fill="#9898fc"/>
<rect x="1380.44" y="1768.94" width="27.84" height="27.91" fill="#8888fc"/>
<rect x="1411.58" y="1768.94" width="27.84" height="27.91" fill="#6868fc"/>
<rect x="1442.72" y="1768.94" width="27.84" height="27.91" fill="#2c2cfc"/>
<rect x="1473.86" y="1768.94" width="27.84" height="27.91" fill="#3434fc"/>
<rect x="1505.00" y="1768.94" width="27.84" height="27.91" fill="#2424fc"/>
<rect x="1536.14" y="1768.94" width="27.84" height="27.91" fill="#4848fc"/>
<rect x="1567.28" y="1768.94" width="27.84" height="27.91" fill="#4c4cfc"/>
<rect x="1598.42" y="1768.94" width="27.84" height="27.91" fill="#ff0000"/>
<rect x="1629.56" y="1768.94" width="27.84" height="27.91" fill="#7878fc"/>
<rect x="1660.70" y="1768.94" width="27.84" height="27.91" fill="#fca0a0"/>
<rect x="1691.84" y="1768.94" width="27.84" height="27.91" fill="#d0d0fc"/>
<rect x="1722.98" y="1768.94" width="27.84" height="27.91" fill="#fc1818"/>
<rect x="1754.12" y="1768.94" width="27.84" height="27.91" fill="#ececfc"/>
<rect x="1785.26" y="1768.94" width="27.84" height="27.91" fill="#a8a8fc"/>
<rect x="1816.40" y="1768.94" width="27.84" height="27.91" fill="#b8b8fc"/>
<rect x="1847.54" y="1768.94" width="27.84" height="27.91" fill="#a0a0fc"/>
<rect x="1878.68" y="1768.94" width="27.84" height="27.91" fill="#acacfc"/>
<rect x="1909.82" y="1768.94" width="27.84" height="27.91" fill="#fc3030"/>
<rect x="1037.90" y="1800.15" width="27.84" height="27.91" fill="#2020fc"/>
<rect x="1069.04" y="1800.15" width="27.84" height="27.91" fill="#2c2cfc"/>
<rect x="1100.18" y="1800.15" width="27.84" height="27.91" fill="#2424fc"/>
<rect x="1131.32" y="1800.15" width="27.84" height="27.91" fill="#0808fc"/>
<rect x="1162.46" y="1800.15" width="27.84" height="27.91" fill="#3434fc"/>
<rect x="1193.60" y="1800.15" width="27.84" height="27.91" fill="#3434fc"/>
<rect x="1224.74" y="1800.15" width="27.84" height="27.91" fill="#3c3cfc"/>
<rect x="1255.88" y="1800.15" width="27.84" height="27.91" fill="#b8b8fc"/>
<rect x="1287.02" y="1800.15" width="27.84" height="27.91" fill="#4c4cfc"/>
<rect x="1318.16" y="1800.15" width="27.84" height="27.91" fill="#4444fc"/>
<rect x="1349.30" y="1800.15" width="27.84" height="27.91" fill="#3c3cfc"/>
<rect x="1380.44" y="1800.15" width="27.84" height="27.91" fill="#4040fc"/>
<rect x="1411.58" y="1800.15" width="27.84" height="27.91" fill="#4444fc"/>
<rect x="1442.72" y="1800.15" width="27.84" height="27.91" fill="#2424fc"/>
<rect x="1473.86" y="1800.15" width="27.84" height="27.91" fill="#3c3cfc"/>
<rect x="1505.00" y="1800.15" width="27.84" height="27.91" fill="#2c2cfc"/>
<rect x="1536.14" y="1800.15" width="27.84" height="27.91" fill="#2c2cfc"/>
<rect x="1567.28" y="1800.15" width="27.84" height="27.91" fill="#1414fc"/>
<rect x="1598.42" y="1800.15" width="27.84" height="27.91" fill="#ff0000"/>
<rect x="1629.56" y="1800.15" width="27.84" height="27.91" fill="#9090fc"/>
<rect x="1660.70" y="1800.15" width="27.84" height="27.91" fill="#fcbcbc"/>
<rect x="1691.84" y="1800.15" width="27.84" height="27.91" fill="#8484fc"/>
<rect x="1722.98" y="1800.15" width="27.84" height="27.91" fill="#fc6c6c"/>
<rect x="1754.12" y="1800.15" width="27.84" height="27.91" fill="#3c3cfc"/>
<rect x="1785.26" y="1800.15" width="27.84" height="27.91" fill="#d4d4fc"/>
<rect x="1816.40" y="1800.15" width="27.84" height="27.91" fill="#9494fc"/>
<rect x="1847.54" y="1800.15" width="27.84" height="27.91" fill="#1818fc"/>
<rect x="1878.68" y="1800.15" width="27.84" height="27.91" fill="#7474fc"/>
<rect x="1909.82" y="1800.15" width="27.84" height="27.91" fill="#fc7878"/>
<text x="1951.3" y="1354.7" font-size="29" fill="#c5107d" stroke="#c5107d" text-anchor="start" font-weight="normal" font-style="normal" >CXCL10</text>
<text x="1951.3" y="1388.2" font-size="29" fill="#c5107d" stroke="#c5107d" text-anchor="start" font-weight="normal" font-style="normal" >CXCL11</text>
<text x="1951.3" y="1421.7" font-size="29" fill="#c5107d" stroke="#c5107d" text-anchor="start" font-weight="normal" font-style="normal" >CXCL9</text>
<text x="1951.3" y="1455.2" font-size="29" fill="#c5107d" stroke="#c5107d" text-anchor="start" font-weight="normal" font-style="normal" >GBP1</text>
<text x="1951.3" y="1488.7" font-size="29" fill="#c5107d" stroke="#c5107d" text-anchor="start" font-weight="normal" font-style="normal" >STAT1</text>
<text x="1951.3" y="1522.2" font-size="29" fill="#c5107d" stroke="#c5107d" text-anchor="start" font-weight="normal" font-style="normal" >GBP4</text>
<text x="1951.3" y="1555.7" font-size="29" fill="#c5107d" stroke="#c5107d" text-anchor="start" font-weight="normal" font-style="normal" >ISG15</text>
<text x="1951.3" y="1589.2" font-size="29" fill="#c5107d" stroke="#c5107d" text-anchor="start" font-weight="normal" font-style="normal" >RSAD2</text>
<text x="1951.3" y="1622.7" font-size="29" fill="#c5107d" stroke="#c5107d" text-anchor="start" font-weight="normal" font-style="normal" >IFIT2</text>
<text x="1951.3" y="1656.2" font-size="29" fill="#c5107d" stroke="#c5107d" text-anchor="start" font-weight="normal" font-style="normal" >ISG20</text>
<text x="1951.3" y="1689.7" font-size="29" fill="#c5107d" stroke="#c5107d" text-anchor="start" font-weight="normal" font-style="normal" >TAP1</text>
<text x="1951.3" y="1723.2" font-size="29" fill="#c5107d" stroke="#c5107d" text-anchor="start" font-weight="normal" font-style="normal" >IFIT3</text>
<text x="1951.3" y="1756.7" font-size="29" fill="#c5107d" stroke="#c5107d" text-anchor="start" font-weight="normal" font-style="normal" >APOBEC3A</text>
<text x="1951.3" y="1790.2" font-size="29" fill="#c5107d" stroke="#c5107d" text-anchor="start" font-weight="normal" font-style="normal" >GBP5</text>
<text x="1951.3" y="1823.7" font-size="29" fill="#c5107d" stroke="#c5107d" text-anchor="start" font-weight="normal" font-style="normal" >HAPLN3</text>
<polygon points="384.0,742.0 392.0,733.0 399.0,736.0 400.0,760.0 399.0,790.0 388.0,792.0 372.0,791.0 365.0,782.0 370.0,770.0 380.0,765.0" fill="rgba(255,30,30,0.85)"/>
<circle cx="373.7" cy="737.7" r="4.2" fill="rgba(250,40,40,0.45)" stroke="rgba(215,40,40,0.55)" stroke-width="0.9"/>
<circle cx="385.4" cy="732.6" r="4.2" fill="rgba(250,40,40,0.45)" stroke="rgba(215,40,40,0.55)" stroke-width="0.9"/>
<circle cx="381.3" cy="751.4" r="4.2" fill="rgba(250,40,40,0.45)" stroke="rgba(215,40,40,0.55)" stroke-width="0.9"/>
<circle cx="364.1" cy="760.5" r="4.2" fill="rgba(250,40,40,0.45)" stroke="rgba(215,40,40,0.55)" stroke-width="0.9"/>
<circle cx="363.3" cy="755.8" r="4.2" fill="rgba(250,40,40,0.45)" stroke="rgba(215,40,40,0.55)" stroke-width="0.9"/>
<circle cx="364.5" cy="733.8" r="4.2" fill="rgba(250,40,40,0.45)" stroke="rgba(215,40,40,0.55)" stroke-width="0.9"/>
<circle cx="377.3" cy="780.9" r="4.2" fill="rgba(250,40,40,0.45)" stroke="rgba(215,40,40,0.55)" stroke-width="0.9"/>
<circle cx="366.5" cy="742.3" r="4.2" fill="rgba(250,40,40,0.45)" stroke="rgba(215,40,40,0.55)" stroke-width="0.9"/>
<circle cx="384.6" cy="788.7" r="4.2" fill="rgba(250,40,40,0.45)" stroke="rgba(215,40,40,0.55)" stroke-width="0.9"/>
<circle cx="382.8" cy="753.4" r="4.2" fill="rgba(250,40,40,0.45)" stroke="rgba(215,40,40,0.55)" stroke-width="0.9"/>
<circle cx="397.1" cy="731.0" r="4.2" fill="rgba(250,40,40,0.45)" stroke="rgba(215,40,40,0.55)" stroke-width="0.9"/>
<circle cx="392.9" cy="746.5" r="4.2" fill="rgba(250,40,40,0.45)" stroke="rgba(215,40,40,0.55)" stroke-width="0.9"/>
<circle cx="367.2" cy="735.5" r="4.2" fill="rgba(250,40,40,0.45)" stroke="rgba(215,40,40,0.55)" stroke-width="0.9"/>
<circle cx="373.1" cy="780.2" r="4.2" fill="rgba(250,40,40,0.45)" stroke="rgba(215,40,40,0.55)" stroke-width="0.9"/>
<circle cx="368.5" cy="765.2" r="4.2" fill="rgba(250,40,40,0.45)" stroke="rgba(215,40,40,0.55)" stroke-width="0.9"/>
<circle cx="385.0" cy="751.8" r="4.2" fill="rgba(250,40,40,0.45)" stroke="rgba(215,40,40,0.55)" stroke-width="0.9"/>
<circle cx="381.7" cy="732.0" r="4.2" fill="rgba(250,40,40,0.45)" stroke="rgba(215,40,40,0.55)" stroke-width="0.9"/>
<circle cx="364.1" cy="741.2" r="4.2" fill="rgba(250,40,40,0.45)" stroke="rgba(215,40,40,0.55)" stroke-width="0.9"/>
<circle cx="386.5" cy="755.4" r="4.2" fill="rgba(250,40,40,0.45)" stroke="rgba(215,40,40,0.55)" stroke-width="0.9"/>
<circle cx="373.3" cy="765.5" r="4.2" fill="rgba(250,40,40,0.45)" stroke="rgba(215,40,40,0.55)" stroke-width="0.9"/>
<circle cx="378.3" cy="747.2" r="4.2" fill="rgba(250,40,40,0.45)" stroke="rgba(215,40,40,0.55)" stroke-width="0.9"/>
<circle cx="390.6" cy="772.7" r="4.2" fill="rgba(250,40,40,0.45)" stroke="rgba(215,40,40,0.55)" stroke-width="0.9"/>
<circle cx="370.8" cy="764.8" r="4.2" fill="rgba(250,40,40,0.45)" stroke="rgba(215,40,40,0.55)" stroke-width="0.9"/>
<circle cx="380.9" cy="784.0" r="4.2" fill="rgba(250,40,40,0.45)" stroke="rgba(215,40,40,0.55)" stroke-width="0.9"/>
<circle cx="388.3" cy="746.4" r="4.2" fill="rgba(250,40,40,0.45)" stroke="rgba(215,40,40,0.55)" stroke-width="0.9"/>
<circle cx="397.3" cy="735.6" r="4.2" fill="rgba(250,40,40,0.45)" stroke="rgba(215,40,40,0.55)" stroke-width="0.9"/>
<circle cx="377.1" cy="776.5" r="4.2" fill="rgba(250,40,40,0.45)" stroke="rgba(215,40,40,0.55)" stroke-width="0.9"/>
<circle cx="367.5" cy="759.3" r="4.2" fill="rgba(250,40,40,0.45)" stroke="rgba(215,40,40,0.55)" stroke-width="0.9"/>
<circle cx="363.4" cy="770.8" r="4.2" fill="rgba(250,40,40,0.45)" stroke="rgba(215,40,40,0.55)" stroke-width="0.9"/>
<circle cx="389.5" cy="764.7" r="4.2" fill="rgba(250,40,40,0.45)" stroke="rgba(215,40,40,0.55)" stroke-width="0.9"/>
<circle cx="393.5" cy="748.1" r="4.2" fill="rgba(250,40,40,0.45)" stroke="rgba(215,40,40,0.55)" stroke-width="0.9"/>
<circle cx="387.0" cy="766.0" r="4.2" fill="rgba(250,40,40,0.45)" stroke="rgba(215,40,40,0.55)" stroke-width="0.9"/>
<circle cx="382.9" cy="757.2" r="4.2" fill="rgba(250,40,40,0.45)" stroke="rgba(215,40,40,0.55)" stroke-width="0.9"/>
<circle cx="392.2" cy="788.5" r="4.2" fill="rgba(250,40,40,0.45)" stroke="rgba(215,40,40,0.55)" stroke-width="0.9"/>
<circle cx="379.1" cy="770.5" r="4.2" fill="rgba(250,40,40,0.45)" stroke="rgba(215,40,40,0.55)" stroke-width="0.9"/>
<circle cx="364.2" cy="772.9" r="4.2" fill="rgba(250,40,40,0.45)" stroke="rgba(215,40,40,0.55)" stroke-width="0.9"/>
<circle cx="385.3" cy="791.6" r="4.2" fill="rgba(250,40,40,0.45)" stroke="rgba(215,40,40,0.55)" stroke-width="0.9"/>
<circle cx="391.6" cy="746.2" r="4.2" fill="rgba(250,40,40,0.45)" stroke="rgba(215,40,40,0.55)" stroke-width="0.9"/>
<circle cx="375.9" cy="770.8" r="4.2" fill="rgba(250,40,40,0.45)" stroke="rgba(215,40,40,0.55)" stroke-width="0.9"/>
<circle cx="362.8" cy="757.5" r="4.2" fill="rgba(250,40,40,0.45)" stroke="rgba(215,40,40,0.55)" stroke-width="0.9"/>
<circle cx="355.4" cy="756.4" r="4.2" fill="rgba(250,40,40,0.45)" stroke="rgba(215,40,40,0.55)" stroke-width="0.9"/>
<circle cx="353.2" cy="781.2" r="4.2" fill="rgba(250,40,40,0.45)" stroke="rgba(215,40,40,0.55)" stroke-width="0.9"/>
<circle cx="354.6" cy="761.4" r="4.2" fill="rgba(250,40,40,0.45)" stroke="rgba(215,40,40,0.55)" stroke-width="0.9"/>
<circle cx="359.8" cy="785.1" r="4.2" fill="rgba(250,40,40,0.45)" stroke="rgba(215,40,40,0.55)" stroke-width="0.9"/>
<circle cx="353.6" cy="769.1" r="4.2" fill="rgba(250,40,40,0.45)" stroke="rgba(215,40,40,0.55)" stroke-width="0.9"/>
<circle cx="363.0" cy="785.6" r="4.2" fill="rgba(250,40,40,0.45)" stroke="rgba(215,40,40,0.55)" stroke-width="0.9"/>
<circle cx="368.4" cy="784.8" r="4.2" fill="rgba(250,40,40,0.45)" stroke="rgba(215,40,40,0.55)" stroke-width="0.9"/>
<circle cx="357.6" cy="767.8" r="4.2" fill="rgba(250,40,40,0.45)" stroke="rgba(215,40,40,0.55)" stroke-width="0.9"/>
<circle cx="416.7" cy="739.2" r="4.2" fill="rgba(0,0,0,0.45)" stroke="rgba(0,0,0,0.55)" stroke-width="0.9"/>
<circle cx="406.7" cy="706.6" r="4.2" fill="rgba(0,0,0,0.45)" stroke="rgba(0,0,0,0.55)" stroke-width="0.9"/>
<circle cx="409.8" cy="719.2" r="4.2" fill="rgba(0,0,0,0.45)" stroke="rgba(0,0,0,0.55)" stroke-width="0.9"/>
<circle cx="429.4" cy="708.1" r="4.2" fill="rgba(0,0,0,0.45)" stroke="rgba(0,0,0,0.55)" stroke-width="0.9"/>
<circle cx="397.2" cy="715.9" r="4.2" fill="rgba(0,0,0,0.45)" stroke="rgba(0,0,0,0.55)" stroke-width="0.9"/>
<circle cx="417.3" cy="723.3" r="4.2" fill="rgba(0,0,0,0.45)" stroke="rgba(0,0,0,0.55)" stroke-width="0.9"/>
<circle cx="425.4" cy="725.9" r="4.2" fill="rgba(0,0,0,0.45)" stroke="rgba(0,0,0,0.55)" stroke-width="0.9"/>
<circle cx="434.2" cy="697.7" r="4.2" fill="rgba(0,0,0,0.45)" stroke="rgba(0,0,0,0.55)" stroke-width="0.9"/>
<circle cx="446.5" cy="734.0" r="4.2" fill="rgba(0,0,0,0.45)" stroke="rgba(0,0,0,0.55)" stroke-width="0.9"/>
<circle cx="445.1" cy="734.9" r="4.2" fill="rgba(0,0,0,0.45)" stroke="rgba(0,0,0,0.55)" stroke-width="0.9"/>
<circle cx="418.6" cy="714.9" r="4.2" fill="rgba(0,0,0,0.45)" stroke="rgba(0,0,0,0.55)" stroke-width="0.9"/>
<circle cx="402.7" cy="726.7" r="4.2" fill="rgba(0,0,0,0.45)" stroke="rgba(0,0,0,0.55)" stroke-width="0.9"/>
<circle cx="400.4" cy="698.4" r="4.2" fill="rgba(0,0,0,0.45)" stroke="rgba(0,0,0,0.55)" stroke-width="0.9"/>
<circle cx="408.5" cy="703.1" r="4.2" fill="rgba(0,0,0,0.45)" stroke="rgba(0,0,0,0.55)" stroke-width="0.9"/>
<circle cx="415.7" cy="697.6" r="4.2" fill="rgba(0,0,0,0.45)" stroke="rgba(0,0,0,0.55)" stroke-width="0.9"/>
<circle cx="397.0" cy="702.6" r="4.2" fill="rgba(0,0,0,0.45)" stroke="rgba(0,0,0,0.55)" stroke-width="0.9"/>
<circle cx="402.6" cy="713.2" r="4.2" fill="rgba(0,0,0,0.45)" stroke="rgba(0,0,0,0.55)" stroke-width="0.9"/>
<circle cx="398.4" cy="738.7" r="4.2" fill="rgba(0,0,0,0.45)" stroke="rgba(0,0,0,0.55)" stroke-width="0.9"/>
<circle cx="430.8" cy="702.4" r="4.2" fill="rgba(0,0,0,0.45)" stroke="rgba(0,0,0,0.55)" stroke-width="0.9"/>
<circle cx="410.9" cy="712.4" r="4.2" fill="rgba(0,0,0,0.45)" stroke="rgba(0,0,0,0.55)" stroke-width="0.9"/>
<circle cx="417.0" cy="701.1" r="4.2" fill="rgba(0,0,0,0.45)" stroke="rgba(0,0,0,0.55)" stroke-width="0.9"/>
<circle cx="443.7" cy="744.7" r="4.2" fill="rgba(0,0,0,0.45)" stroke="rgba(0,0,0,0.55)" stroke-width="0.9"/>
<circle cx="422.6" cy="719.2" r="4.2" fill="rgba(0,0,0,0.45)" stroke="rgba(0,0,0,0.55)" stroke-width="0.9"/>
<circle cx="401.7" cy="700.1" r="4.2" fill="rgba(0,0,0,0.45)" stroke="rgba(0,0,0,0.55)" stroke-width="0.9"/>
<circle cx="415.8" cy="708.2" r="4.2" fill="rgba(0,0,0,0.45)" stroke="rgba(0,0,0,0.55)" stroke-width="0.9"/>
<circle cx="398.3" cy="742.5" r="4.2" fill="rgba(0,0,0,0.45)" stroke="rgba(0,0,0,0.55)" stroke-width="0.9"/>
<circle cx="426.1" cy="702.3" r="4.2" fill="rgba(0,0,0,0.45)" stroke="rgba(0,0,0,0.55)" stroke-width="0.9"/>
<circle cx="426.9" cy="696.4" r="4.2" fill="rgba(0,0,0,0.45)" stroke="rgba(0,0,0,0.55)" stroke-width="0.9"/>
<circle cx="426.0" cy="743.9" r="4.2" fill="rgba(0,0,0,0.45)" stroke="rgba(0,0,0,0.55)" stroke-width="0.9"/>
<circle cx="444.5" cy="729.8" r="4.2" fill="rgba(0,0,0,0.45)" stroke="rgba(0,0,0,0.55)" stroke-width="0.9"/>
<circle cx="411.4" cy="713.3" r="4.2" fill="rgba(0,0,0,0.45)" stroke="rgba(0,0,0,0.55)" stroke-width="0.9"/>
<circle cx="406.2" cy="733.6" r="4.2" fill="rgba(0,0,0,0.45)" stroke="rgba(0,0,0,0.55)" stroke-width="0.9"/>
<circle cx="426.3" cy="734.0" r="4.2" fill="rgba(0,0,0,0.45)" stroke="rgba(0,0,0,0.55)" stroke-width="0.9"/>
<circle cx="415.1" cy="706.2" r="4.2" fill="rgba(0,0,0,0.45)" stroke="rgba(0,0,0,0.55)" stroke-width="0.9"/>
<circle cx="441.6" cy="744.2" r="4.2" fill="rgba(0,0,0,0.45)" stroke="rgba(0,0,0,0.55)" stroke-width="0.9"/>
<circle cx="443.9" cy="735.3" r="4.2" fill="rgba(0,0,0,0.45)" stroke="rgba(0,0,0,0.55)" stroke-width="0.9"/>
<circle cx="442.0" cy="732.0" r="4.2" fill="rgba(0,0,0,0.45)" stroke="rgba(0,0,0,0.55)" stroke-width="0.9"/>
<circle cx="409.5" cy="720.9" r="4.2" fill="rgba(0,0,0,0.45)" stroke="rgba(0,0,0,0.55)" stroke-width="0.9"/>
<circle cx="416.6" cy="696.4" r="4.2" fill="rgba(0,0,0,0.45)" stroke="rgba(0,0,0,0.55)" stroke-width="0.9"/>
<circle cx="398.5" cy="709.0" r="4.2" fill="rgba(0,0,0,0.45)" stroke="rgba(0,0,0,0.55)" stroke-width="0.9"/>
<circle cx="411.3" cy="729.6" r="4.2" fill="rgba(0,0,0,0.45)" stroke="rgba(0,0,0,0.55)" stroke-width="0.9"/>
<circle cx="448.5" cy="744.4" r="4.2" fill="rgba(0,0,0,0.45)" stroke="rgba(0,0,0,0.55)" stroke-width="0.9"/>
<circle cx="409.1" cy="706.3" r="4.2" fill="rgba(0,0,0,0.45)" stroke="rgba(0,0,0,0.55)" stroke-width="0.9"/>
<circle cx="407.8" cy="705.2" r="4.2" fill="rgba(0,0,0,0.45)" stroke="rgba(0,0,0,0.55)" stroke-width="0.9"/>
<circle cx="431.3" cy="740.0" r="4.2" fill="rgba(0,0,0,0.45)" stroke="rgba(0,0,0,0.55)" stroke-width="0.9"/>
<circle cx="443.2" cy="719.0" r="4.2" fill="rgba(0,0,0,0.45)" stroke="rgba(0,0,0,0.55)" stroke-width="0.9"/>
<circle cx="432.9" cy="735.0" r="4.2" fill="rgba(0,0,0,0.45)" stroke="rgba(0,0,0,0.55)" stroke-width="0.9"/>
<circle cx="401.7" cy="728.0" r="4.2" fill="rgba(0,0,0,0.45)" stroke="rgba(0,0,0,0.55)" stroke-width="0.9"/>
<circle cx="447.0" cy="734.1" r="4.2" fill="rgba(0,0,0,0.45)" stroke="rgba(0,0,0,0.55)" stroke-width="0.9"/>
<circle cx="438.3" cy="718.9" r="4.2" fill="rgba(0,0,0,0.45)" stroke="rgba(0,0,0,0.55)" stroke-width="0.9"/>
<circle cx="406.8" cy="734.5" r="4.2" fill="rgba(0,0,0,0.45)" stroke="rgba(0,0,0,0.55)" stroke-width="0.9"/>
<circle cx="415.3" cy="735.0" r="4.2" fill="rgba(0,0,0,0.45)" stroke="rgba(0,0,0,0.55)" stroke-width="0.9"/>
<circle cx="419.1" cy="742.3" r="4.2" fill="rgba(0,0,0,0.45)" stroke="rgba(0,0,0,0.55)" stroke-width="0.9"/>
<circle cx="436.9" cy="703.5" r="4.2" fill="rgba(0,0,0,0.45)" stroke="rgba(0,0,0,0.55)" stroke-width="0.9"/>
<circle cx="404.0" cy="702.6" r="4.2" fill="rgba(0,0,0,0.45)" stroke="rgba(0,0,0,0.55)" stroke-width="0.9"/>
<circle cx="446.8" cy="735.3" r="4.2" fill="rgba(0,0,0,0.45)" stroke="rgba(0,0,0,0.55)" stroke-width="0.9"/>
<circle cx="405.0" cy="736.3" r="4.2" fill="rgba(0,0,0,0.45)" stroke="rgba(0,0,0,0.55)" stroke-width="0.9"/>
<circle cx="416.3" cy="722.4" r="4.2" fill="rgba(0,0,0,0.45)" stroke="rgba(0,0,0,0.55)" stroke-width="0.9"/>
<circle cx="404.2" cy="695.7" r="4.2" fill="rgba(0,0,0,0.45)" stroke="rgba(0,0,0,0.55)" stroke-width="0.9"/>
<circle cx="426.0" cy="741.7" r="4.2" fill="rgba(0,0,0,0.45)" stroke="rgba(0,0,0,0.55)" stroke-width="0.9"/>
<circle cx="420.9" cy="738.6" r="4.2" fill="rgba(0,0,0,0.45)" stroke="rgba(0,0,0,0.55)" stroke-width="0.9"/>
<circle cx="410.9" cy="709.6" r="4.2" fill="rgba(0,0,0,0.45)" stroke="rgba(0,0,0,0.55)" stroke-width="0.9"/>
<circle cx="410.2" cy="724.3" r="4.2" fill="rgba(0,0,0,0.45)" stroke="rgba(0,0,0,0.55)" stroke-width="0.9"/>
<circle cx="411.3" cy="716.0" r="4.2" fill="rgba(0,0,0,0.45)" stroke="rgba(0,0,0,0.55)" stroke-width="0.9"/>
<circle cx="404.2" cy="740.5" r="4.2" fill="rgba(0,0,0,0.45)" stroke="rgba(0,0,0,0.55)" stroke-width="0.9"/>
<circle cx="416.5" cy="717.9" r="4.2" fill="rgba(0,0,0,0.45)" stroke="rgba(0,0,0,0.55)" stroke-width="0.9"/>
<circle cx="429.1" cy="740.2" r="4.2" fill="rgba(0,0,0,0.45)" stroke="rgba(0,0,0,0.55)" stroke-width="0.9"/>
<circle cx="420.1" cy="740.9" r="4.2" fill="rgba(0,0,0,0.45)" stroke="rgba(0,0,0,0.55)" stroke-width="0.9"/>
<circle cx="424.6" cy="721.6" r="4.2" fill="rgba(0,0,0,0.45)" stroke="rgba(0,0,0,0.55)" stroke-width="0.9"/>
<circle cx="425.8" cy="695.9" r="4.2" fill="rgba(0,0,0,0.45)" stroke="rgba(0,0,0,0.55)" stroke-width="0.9"/>
<circle cx="421.2" cy="704.2" r="4.2" fill="rgba(0,0,0,0.45)" stroke="rgba(0,0,0,0.55)" stroke-width="0.9"/>
<circle cx="397.2" cy="735.0" r="4.2" fill="rgba(0,0,0,0.45)" stroke="rgba(0,0,0,0.55)" stroke-width="0.9"/>
<circle cx="406.5" cy="718.7" r="4.2" fill="rgba(0,0,0,0.45)" stroke="rgba(0,0,0,0.55)" stroke-width="0.9"/>
<circle cx="436.9" cy="722.8" r="4.2" fill="rgba(0,0,0,0.45)" stroke="rgba(0,0,0,0.55)" stroke-width="0.9"/>
<circle cx="414.9" cy="720.9" r="4.2" fill="rgba(0,0,0,0.45)" stroke="rgba(0,0,0,0.55)" stroke-width="0.9"/>
<circle cx="427.5" cy="734.2" r="4.2" fill="rgba(0,0,0,0.45)" stroke="rgba(0,0,0,0.55)" stroke-width="0.9"/>
<circle cx="402.8" cy="723.0" r="4.2" fill="rgba(0,0,0,0.45)" stroke="rgba(0,0,0,0.55)" stroke-width="0.9"/>
<circle cx="410.7" cy="708.8" r="4.2" fill="rgba(0,0,0,0.45)" stroke="rgba(0,0,0,0.55)" stroke-width="0.9"/>
<circle cx="439.5" cy="720.4" r="4.2" fill="rgba(0,0,0,0.45)" stroke="rgba(0,0,0,0.55)" stroke-width="0.9"/>
<circle cx="427.9" cy="733.0" r="4.2" fill="rgba(0,0,0,0.45)" stroke="rgba(0,0,0,0.55)" stroke-width="0.9"/>
<circle cx="430.7" cy="720.3" r="4.2" fill="rgba(0,0,0,0.45)" stroke="rgba(0,0,0,0.55)" stroke-width="0.9"/>
<circle cx="425.2" cy="729.6" r="4.2" fill="rgba(0,0,0,0.45)" stroke="rgba(0,0,0,0.55)" stroke-width="0.9"/>
<circle cx="421.9" cy="721.7" r="4.2" fill="rgba(0,0,0,0.45)" stroke="rgba(0,0,0,0.55)" stroke-width="0.9"/>
<circle cx="423.3" cy="742.1" r="4.2" fill="rgba(0,0,0,0.45)" stroke="rgba(0,0,0,0.55)" stroke-width="0.9"/>
<circle cx="435.5" cy="738.8" r="4.2" fill="rgba(0,0,0,0.45)" stroke="rgba(0,0,0,0.55)" stroke-width="0.9"/>
<circle cx="427.8" cy="742.2" r="4.2" fill="rgba(0,0,0,0.45)" stroke="rgba(0,0,0,0.55)" stroke-width="0.9"/>
<circle cx="403.7" cy="717.1" r="4.2" fill="rgba(0,0,0,0.45)" stroke="rgba(0,0,0,0.55)" stroke-width="0.9"/>
<circle cx="401.0" cy="707.0" r="4.2" fill="rgba(0,0,0,0.45)" stroke="rgba(0,0,0,0.55)" stroke-width="0.9"/>
<circle cx="401.0" cy="728.5" r="4.2" fill="rgba(0,0,0,0.45)" stroke="rgba(0,0,0,0.55)" stroke-width="0.9"/>
<circle cx="440.1" cy="739.9" r="4.2" fill="rgba(0,0,0,0.45)" stroke="rgba(0,0,0,0.55)" stroke-width="0.9"/>
<circle cx="405.5" cy="730.8" r="4.2" fill="rgba(0,0,0,0.45)" stroke="rgba(0,0,0,0.55)" stroke-width="0.9"/>
<circle cx="433.3" cy="702.1" r="4.2" fill="rgba(0,0,0,0.45)" stroke="rgba(0,0,0,0.55)" stroke-width="0.9"/>
<circle cx="445.6" cy="743.4" r="4.2" fill="rgba(0,0,0,0.45)" stroke="rgba(0,0,0,0.55)" stroke-width="0.9"/>
<circle cx="409.1" cy="742.6" r="4.2" fill="rgba(0,0,0,0.45)" stroke="rgba(0,0,0,0.55)" stroke-width="0.9"/>
<circle cx="418.9" cy="719.4" r="4.2" fill="rgba(0,0,0,0.45)" stroke="rgba(0,0,0,0.55)" stroke-width="0.9"/>
<circle cx="451.4" cy="736.6" r="4.2" fill="rgba(0,0,0,0.45)" stroke="rgba(0,0,0,0.55)" stroke-width="0.9"/>
<circle cx="405.9" cy="716.6" r="4.2" fill="rgba(0,0,0,0.45)" stroke="rgba(0,0,0,0.55)" stroke-width="0.9"/>
<circle cx="425.4" cy="712.0" r="4.2" fill="rgba(0,0,0,0.45)" stroke="rgba(0,0,0,0.55)" stroke-width="0.9"/>
<polygon points="400.3,728.0 405.0,716.0 412.0,711.0 420.0,710.0 428.0,713.0 434.0,720.0 439.0,730.0 444.0,750.0 449.6,769.6 456.4,780.5 463.3,790.1 470.1,801.1 477.0,808.0 488.0,813.4 504.4,820.3 531.8,824.4 559.2,825.8 579.7,828.5 586.6,831.5 572.9,835.0 449.6,834.5 429.0,827.0 411.2,817.5 397.5,808.0 392.0,797.0 394.0,791.0 399.0,785.0 399.5,760.0" fill="#000"/>
<circle cx="398.2" cy="726.7" r="4.2" fill="rgba(0,0,0,0.45)" stroke="rgba(0,0,0,0.55)" stroke-width="0.9"/>
<circle cx="404.2" cy="718.6" r="4.2" fill="rgba(0,0,0,0.45)" stroke="rgba(0,0,0,0.55)" stroke-width="0.9"/>
<circle cx="405.4" cy="715.6" r="4.2" fill="rgba(0,0,0,0.45)" stroke="rgba(0,0,0,0.55)" stroke-width="0.9"/>
<circle cx="408.6" cy="709.8" r="4.2" fill="rgba(0,0,0,0.45)" stroke="rgba(0,0,0,0.55)" stroke-width="0.9"/>
<circle cx="420.9" cy="710.1" r="4.2" fill="rgba(0,0,0,0.45)" stroke="rgba(0,0,0,0.55)" stroke-width="0.9"/>
<circle cx="425.0" cy="716.4" r="4.2" fill="rgba(0,0,0,0.45)" stroke="rgba(0,0,0,0.55)" stroke-width="0.9"/>
<circle cx="436.0" cy="723.3" r="4.2" fill="rgba(0,0,0,0.45)" stroke="rgba(0,0,0,0.55)" stroke-width="0.9"/>
<circle cx="433.7" cy="723.4" r="4.2" fill="rgba(0,0,0,0.45)" stroke="rgba(0,0,0,0.55)" stroke-width="0.9"/>
<circle cx="435.8" cy="732.0" r="4.2" fill="rgba(0,0,0,0.45)" stroke="rgba(0,0,0,0.55)" stroke-width="0.9"/>
<circle cx="438.6" cy="732.4" r="4.2" fill="rgba(0,0,0,0.45)" stroke="rgba(0,0,0,0.55)" stroke-width="0.9"/>
<circle cx="441.0" cy="742.9" r="4.2" fill="rgba(0,0,0,0.45)" stroke="rgba(0,0,0,0.55)" stroke-width="0.9"/>
<circle cx="445.0" cy="743.3" r="4.2" fill="rgba(0,0,0,0.45)" stroke="rgba(0,0,0,0.55)" stroke-width="0.9"/>
<circle cx="441.5" cy="752.9" r="4.2" fill="rgba(0,0,0,0.45)" stroke="rgba(0,0,0,0.55)" stroke-width="0.9"/>
<circle cx="445.9" cy="756.3" r="4.2" fill="rgba(0,0,0,0.45)" stroke="rgba(0,0,0,0.55)" stroke-width="0.9"/>
<circle cx="443.9" cy="756.7" r="4.2" fill="rgba(0,0,0,0.45)" stroke="rgba(0,0,0,0.55)" stroke-width="0.9"/>
<circle cx="449.5" cy="764.2" r="4.2" fill="rgba(0,0,0,0.45)" stroke="rgba(0,0,0,0.55)" stroke-width="0.9"/>
<circle cx="446.6" cy="772.7" r="4.2" fill="rgba(0,0,0,0.45)" stroke="rgba(0,0,0,0.55)" stroke-width="0.9"/>
<circle cx="453.9" cy="777.2" r="4.2" fill="rgba(0,0,0,0.45)" stroke="rgba(0,0,0,0.55)" stroke-width="0.9"/>
<circle cx="453.5" cy="783.0" r="4.2" fill="rgba(0,0,0,0.45)" stroke="rgba(0,0,0,0.55)" stroke-width="0.9"/>
<circle cx="456.8" cy="787.8" r="4.2" fill="rgba(0,0,0,0.45)" stroke="rgba(0,0,0,0.55)" stroke-width="0.9"/>
<circle cx="463.0" cy="789.0" r="4.2" fill="rgba(0,0,0,0.45)" stroke="rgba(0,0,0,0.55)" stroke-width="0.9"/>
<circle cx="467.1" cy="798.6" r="4.2" fill="rgba(0,0,0,0.45)" stroke="rgba(0,0,0,0.55)" stroke-width="0.9"/>
<circle cx="468.5" cy="798.5" r="4.2" fill="rgba(0,0,0,0.45)" stroke="rgba(0,0,0,0.55)" stroke-width="0.9"/>
<circle cx="477.2" cy="806.2" r="4.2" fill="rgba(0,0,0,0.45)" stroke="rgba(0,0,0,0.55)" stroke-width="0.9"/>
<circle cx="479.8" cy="808.3" r="4.2" fill="rgba(0,0,0,0.45)" stroke="rgba(0,0,0,0.55)" stroke-width="0.9"/>
<circle cx="484.9" cy="811.3" r="4.2" fill="rgba(0,0,0,0.45)" stroke="rgba(0,0,0,0.55)" stroke-width="0.9"/>
<circle cx="492.2" cy="814.3" r="4.2" fill="rgba(0,0,0,0.45)" stroke="rgba(0,0,0,0.55)" stroke-width="0.9"/>
<circle cx="500.7" cy="816.5" r="4.2" fill="rgba(0,0,0,0.45)" stroke="rgba(0,0,0,0.55)" stroke-width="0.9"/>
<circle cx="504.4" cy="818.0" r="4.2" fill="rgba(0,0,0,0.45)" stroke="rgba(0,0,0,0.55)" stroke-width="0.9"/>
<circle cx="508.8" cy="817.7" r="4.2" fill="rgba(0,0,0,0.45)" stroke="rgba(0,0,0,0.55)" stroke-width="0.9"/>
<circle cx="513.6" cy="818.5" r="4.2" fill="rgba(0,0,0,0.45)" stroke="rgba(0,0,0,0.55)" stroke-width="0.9"/>
<circle cx="522.5" cy="823.1" r="4.2" fill="rgba(0,0,0,0.45)" stroke="rgba(0,0,0,0.55)" stroke-width="0.9"/>
<circle cx="524.1" cy="823.4" r="4.2" fill="rgba(0,0,0,0.45)" stroke="rgba(0,0,0,0.55)" stroke-width="0.9"/>
<circle cx="534.8" cy="821.6" r="4.2" fill="rgba(0,0,0,0.45)" stroke="rgba(0,0,0,0.55)" stroke-width="0.9"/>
<circle cx="539.5" cy="824.2" r="4.2" fill="rgba(0,0,0,0.45)" stroke="rgba(0,0,0,0.55)" stroke-width="0.9"/>
<circle cx="542.7" cy="827.3" r="4.2" fill="rgba(0,0,0,0.45)" stroke="rgba(0,0,0,0.55)" stroke-width="0.9"/>
<circle cx="547.5" cy="825.3" r="4.2" fill="rgba(0,0,0,0.45)" stroke="rgba(0,0,0,0.55)" stroke-width="0.9"/>
<circle cx="555.0" cy="828.9" r="4.2" fill="rgba(0,0,0,0.45)" stroke="rgba(0,0,0,0.55)" stroke-width="0.9"/>
<circle cx="558.1" cy="828.1" r="4.2" fill="rgba(0,0,0,0.45)" stroke="rgba(0,0,0,0.55)" stroke-width="0.9"/>
<circle cx="565.8" cy="827.4" r="4.2" fill="rgba(0,0,0,0.45)" stroke="rgba(0,0,0,0.55)" stroke-width="0.9"/>
<circle cx="568.8" cy="826.1" r="4.2" fill="rgba(0,0,0,0.45)" stroke="rgba(0,0,0,0.55)" stroke-width="0.9"/>
<circle cx="571.5" cy="825.2" r="4.2" fill="rgba(0,0,0,0.45)" stroke="rgba(0,0,0,0.55)" stroke-width="0.9"/>
<circle cx="430.3" cy="828.4" r="4.2" fill="rgba(0,0,0,0.45)" stroke="rgba(0,0,0,0.55)" stroke-width="0.9"/>
<circle cx="422.7" cy="821.3" r="4.2" fill="rgba(0,0,0,0.45)" stroke="rgba(0,0,0,0.55)" stroke-width="0.9"/>
<circle cx="417.5" cy="821.3" r="4.2" fill="rgba(0,0,0,0.45)" stroke="rgba(0,0,0,0.55)" stroke-width="0.9"/>
<circle cx="412.9" cy="822.2" r="4.2" fill="rgba(0,0,0,0.45)" stroke="rgba(0,0,0,0.55)" stroke-width="0.9"/>
<circle cx="411.6" cy="818.4" r="4.2" fill="rgba(0,0,0,0.45)" stroke="rgba(0,0,0,0.55)" stroke-width="0.9"/>
<circle cx="407.5" cy="815.6" r="4.2" fill="rgba(0,0,0,0.45)" stroke="rgba(0,0,0,0.55)" stroke-width="0.9"/>
<circle cx="402.0" cy="807.7" r="4.2" fill="rgba(0,0,0,0.45)" stroke="rgba(0,0,0,0.55)" stroke-width="0.9"/>
<circle cx="399.6" cy="809.7" r="4.2" fill="rgba(0,0,0,0.45)" stroke="rgba(0,0,0,0.55)" stroke-width="0.9"/>
<circle cx="394.8" cy="802.7" r="4.2" fill="rgba(0,0,0,0.45)" stroke="rgba(0,0,0,0.55)" stroke-width="0.9"/>
<circle cx="393.1" cy="794.0" r="4.2" fill="rgba(0,0,0,0.45)" stroke="rgba(0,0,0,0.55)" stroke-width="0.9"/>
<circle cx="395.7" cy="789.3" r="4.2" fill="rgba(0,0,0,0.45)" stroke="rgba(0,0,0,0.55)" stroke-width="0.9"/>
<circle cx="396.0" cy="783.4" r="4.2" fill="rgba(0,0,0,0.45)" stroke="rgba(0,0,0,0.55)" stroke-width="0.9"/>
<circle cx="400.7" cy="777.9" r="4.2" fill="rgba(0,0,0,0.45)" stroke="rgba(0,0,0,0.55)" stroke-width="0.9"/>
<circle cx="400.9" cy="778.3" r="4.2" fill="rgba(0,0,0,0.45)" stroke="rgba(0,0,0,0.55)" stroke-width="0.9"/>
<circle cx="399.3" cy="769.2" r="4.2" fill="rgba(0,0,0,0.45)" stroke="rgba(0,0,0,0.55)" stroke-width="0.9"/>
<circle cx="399.3" cy="766.3" r="4.2" fill="rgba(0,0,0,0.45)" stroke="rgba(0,0,0,0.55)" stroke-width="0.9"/>
<circle cx="401.4" cy="760.8" r="4.2" fill="rgba(0,0,0,0.45)" stroke="rgba(0,0,0,0.55)" stroke-width="0.9"/>
<circle cx="400.6" cy="751.7" r="4.2" fill="rgba(0,0,0,0.45)" stroke="rgba(0,0,0,0.55)" stroke-width="0.9"/>
<circle cx="397.3" cy="747.6" r="4.2" fill="rgba(0,0,0,0.45)" stroke="rgba(0,0,0,0.55)" stroke-width="0.9"/>
<circle cx="401.6" cy="742.6" r="4.2" fill="rgba(0,0,0,0.45)" stroke="rgba(0,0,0,0.55)" stroke-width="0.9"/>
<circle cx="400.5" cy="735.3" r="4.2" fill="rgba(0,0,0,0.45)" stroke="rgba(0,0,0,0.55)" stroke-width="0.9"/>
<circle cx="397.1" cy="731.7" r="4.2" fill="rgba(0,0,0,0.45)" stroke="rgba(0,0,0,0.55)" stroke-width="0.9"/>
<circle cx="408.6" cy="316.5" r="4.2" fill="rgba(0,0,0,0.45)" stroke="rgba(0,0,0,0.55)" stroke-width="0.9"/>
<circle cx="399.6" cy="400.3" r="4.2" fill="rgba(0,0,0,0.45)" stroke="rgba(0,0,0,0.55)" stroke-width="0.9"/>
<circle cx="417.4" cy="413.1" r="4.2" fill="rgba(0,0,0,0.45)" stroke="rgba(0,0,0,0.55)" stroke-width="0.9"/>
<circle cx="426.9" cy="514.0" r="4.2" fill="rgba(0,0,0,0.45)" stroke="rgba(0,0,0,0.55)" stroke-width="0.9"/>
<circle cx="412.3" cy="549.6" r="4.2" fill="rgba(0,0,0,0.45)" stroke="rgba(0,0,0,0.55)" stroke-width="0.9"/>
<circle cx="411.9" cy="572.5" r="4.2" fill="rgba(0,0,0,0.45)" stroke="rgba(0,0,0,0.55)" stroke-width="0.9"/>
<circle cx="402.9" cy="583.2" r="4.2" fill="rgba(0,0,0,0.45)" stroke="rgba(0,0,0,0.55)" stroke-width="0.9"/>
<circle cx="400.5" cy="589.7" r="4.2" fill="rgba(0,0,0,0.45)" stroke="rgba(0,0,0,0.55)" stroke-width="0.9"/>
<circle cx="397.0" cy="600.5" r="4.2" fill="rgba(0,0,0,0.45)" stroke="rgba(0,0,0,0.55)" stroke-width="0.9"/>
<circle cx="403.8" cy="605.4" r="4.2" fill="rgba(0,0,0,0.45)" stroke="rgba(0,0,0,0.55)" stroke-width="0.9"/>
<circle cx="434.2" cy="602.0" r="4.2" fill="rgba(0,0,0,0.45)" stroke="rgba(0,0,0,0.55)" stroke-width="0.9"/>
<circle cx="403.8" cy="613.8" r="4.2" fill="rgba(0,0,0,0.45)" stroke="rgba(0,0,0,0.55)" stroke-width="0.9"/>
<circle cx="429.9" cy="615.7" r="4.2" fill="rgba(0,0,0,0.45)" stroke="rgba(0,0,0,0.55)" stroke-width="0.9"/>
<circle cx="419.7" cy="629.8" r="4.2" fill="rgba(0,0,0,0.45)" stroke="rgba(0,0,0,0.55)" stroke-width="0.9"/>
<circle cx="440.2" cy="626.9" r="4.2" fill="rgba(0,0,0,0.45)" stroke="rgba(0,0,0,0.55)" stroke-width="0.9"/>
<circle cx="406.4" cy="650.4" r="4.2" fill="rgba(0,0,0,0.45)" stroke="rgba(0,0,0,0.55)" stroke-width="0.9"/>
<circle cx="406.0" cy="655.3" r="4.2" fill="rgba(0,0,0,0.45)" stroke="rgba(0,0,0,0.55)" stroke-width="0.9"/>
<circle cx="398.5" cy="659.6" r="4.2" fill="rgba(0,0,0,0.45)" stroke="rgba(0,0,0,0.55)" stroke-width="0.9"/>
<circle cx="412.8" cy="655.3" r="4.2" fill="rgba(0,0,0,0.45)" stroke="rgba(0,0,0,0.55)" stroke-width="0.9"/>
<circle cx="406.4" cy="661.1" r="4.2" fill="rgba(0,0,0,0.45)" stroke="rgba(0,0,0,0.55)" stroke-width="0.9"/>
<circle cx="425.6" cy="666.6" r="4.2" fill="rgba(0,0,0,0.45)" stroke="rgba(0,0,0,0.55)" stroke-width="0.9"/>
<circle cx="433.8" cy="671.9" r="4.2" fill="rgba(0,0,0,0.45)" stroke="rgba(0,0,0,0.55)" stroke-width="0.9"/>
<circle cx="444.2" cy="679.1" r="4.2" fill="rgba(0,0,0,0.45)" stroke="rgba(0,0,0,0.55)" stroke-width="0.9"/>
<circle cx="432.4" cy="681.7" r="4.2" fill="rgba(0,0,0,0.45)" stroke="rgba(0,0,0,0.55)" stroke-width="0.9"/>
<circle cx="427.5" cy="685.0" r="4.2" fill="rgba(0,0,0,0.45)" stroke="rgba(0,0,0,0.55)" stroke-width="0.9"/>
<circle cx="428.6" cy="693.2" r="4.2" fill="rgba(0,0,0,0.45)" stroke="rgba(0,0,0,0.55)" stroke-width="0.9"/>
<circle cx="437.5" cy="697.9" r="4.2" fill="rgba(0,0,0,0.45)" stroke="rgba(0,0,0,0.55)" stroke-width="0.9"/>
<circle cx="407.4" cy="687.7" r="4.2" fill="rgba(0,0,0,0.45)" stroke="rgba(0,0,0,0.55)" stroke-width="0.9"/>
<circle cx="399.2" cy="694.5" r="4.2" fill="rgba(0,0,0,0.45)" stroke="rgba(0,0,0,0.55)" stroke-width="0.9"/>
<circle cx="396.4" cy="706.8" r="4.2" fill="rgba(0,0,0,0.45)" stroke="rgba(0,0,0,0.55)" stroke-width="0.9"/>
<circle cx="430.7" cy="705.5" r="4.2" fill="rgba(0,0,0,0.45)" stroke="rgba(0,0,0,0.55)" stroke-width="0.9"/>
<circle cx="433.4" cy="710.3" r="4.2" fill="rgba(0,0,0,0.45)" stroke="rgba(0,0,0,0.55)" stroke-width="0.9"/>
<circle cx="447.8" cy="713.7" r="4.2" fill="rgba(0,0,0,0.45)" stroke="rgba(0,0,0,0.55)" stroke-width="0.9"/>
<circle cx="444.4" cy="719.2" r="4.2" fill="rgba(0,0,0,0.45)" stroke="rgba(0,0,0,0.55)" stroke-width="0.9"/>
<circle cx="455.3" cy="738.4" r="4.2" fill="rgba(0,0,0,0.45)" stroke="rgba(0,0,0,0.55)" stroke-width="0.9"/>
<circle cx="445.8" cy="739.0" r="4.2" fill="rgba(0,0,0,0.45)" stroke="rgba(0,0,0,0.55)" stroke-width="0.9"/>
<circle cx="459.5" cy="764.4" r="4.2" fill="rgba(0,0,0,0.45)" stroke="rgba(0,0,0,0.55)" stroke-width="0.9"/>
<circle cx="464.9" cy="795.9" r="4.2" fill="rgba(0,0,0,0.45)" stroke="rgba(0,0,0,0.55)" stroke-width="0.9"/>
<circle cx="508.1" cy="637.0" r="4.2" fill="rgba(0,0,0,0.45)" stroke="rgba(0,0,0,0.55)" stroke-width="0.9"/>
<circle cx="517.7" cy="637.7" r="4.2" fill="rgba(0,0,0,0.45)" stroke="rgba(0,0,0,0.55)" stroke-width="0.9"/>
<circle cx="523.8" cy="647.3" r="4.2" fill="rgba(0,0,0,0.45)" stroke="rgba(0,0,0,0.55)" stroke-width="0.9"/>
<circle cx="518.4" cy="663.0" r="4.2" fill="rgba(0,0,0,0.45)" stroke="rgba(0,0,0,0.55)" stroke-width="0.9"/>
<circle cx="519.7" cy="671.2" r="4.2" fill="rgba(0,0,0,0.45)" stroke="rgba(0,0,0,0.55)" stroke-width="0.9"/>
<circle cx="507.4" cy="675.1" r="4.2" fill="rgba(0,0,0,0.45)" stroke="rgba(0,0,0,0.55)" stroke-width="0.9"/>
<circle cx="525.2" cy="676.7" r="4.2" fill="rgba(0,0,0,0.45)" stroke="rgba(0,0,0,0.55)" stroke-width="0.9"/>
<circle cx="519.7" cy="679.5" r="4.2" fill="rgba(0,0,0,0.45)" stroke="rgba(0,0,0,0.55)" stroke-width="0.9"/>
<circle cx="499.2" cy="682.2" r="4.2" fill="rgba(0,0,0,0.45)" stroke="rgba(0,0,0,0.55)" stroke-width="0.9"/>
<circle cx="512.9" cy="689.0" r="4.2" fill="rgba(0,0,0,0.45)" stroke="rgba(0,0,0,0.55)" stroke-width="0.9"/>
<circle cx="508.1" cy="695.9" r="4.2" fill="rgba(0,0,0,0.45)" stroke="rgba(0,0,0,0.55)" stroke-width="0.9"/>
<circle cx="510.8" cy="721.2" r="4.2" fill="rgba(0,0,0,0.45)" stroke="rgba(0,0,0,0.55)" stroke-width="0.9"/>
<circle cx="549.2" cy="723.3" r="4.2" fill="rgba(0,0,0,0.45)" stroke="rgba(0,0,0,0.55)" stroke-width="0.9"/>
<circle cx="525.2" cy="735.6" r="4.2" fill="rgba(0,0,0,0.45)" stroke="rgba(0,0,0,0.55)" stroke-width="0.9"/>
<circle cx="497.8" cy="744.5" r="4.2" fill="rgba(0,0,0,0.45)" stroke="rgba(0,0,0,0.55)" stroke-width="0.9"/>
<circle cx="518.4" cy="745.2" r="4.2" fill="rgba(0,0,0,0.45)" stroke="rgba(0,0,0,0.55)" stroke-width="0.9"/>
<circle cx="497.8" cy="754.1" r="4.2" fill="rgba(0,0,0,0.45)" stroke="rgba(0,0,0,0.55)" stroke-width="0.9"/>
<circle cx="505.3" cy="754.8" r="4.2" fill="rgba(0,0,0,0.45)" stroke="rgba(0,0,0,0.55)" stroke-width="0.9"/>
<circle cx="517.0" cy="763.0" r="4.2" fill="rgba(0,0,0,0.45)" stroke="rgba(0,0,0,0.55)" stroke-width="0.9"/>
<circle cx="527.9" cy="770.5" r="4.2" fill="rgba(0,0,0,0.45)" stroke="rgba(0,0,0,0.55)" stroke-width="0.9"/>
<circle cx="547.1" cy="762.3" r="4.2" fill="rgba(0,0,0,0.45)" stroke="rgba(0,0,0,0.55)" stroke-width="0.9"/>
<circle cx="552.6" cy="776.7" r="4.2" fill="rgba(0,0,0,0.45)" stroke="rgba(0,0,0,0.55)" stroke-width="0.9"/>
<circle cx="500.5" cy="778.1" r="4.2" fill="rgba(0,0,0,0.45)" stroke="rgba(0,0,0,0.55)" stroke-width="0.9"/>
<circle cx="493.0" cy="785.6" r="4.2" fill="rgba(0,0,0,0.45)" stroke="rgba(0,0,0,0.55)" stroke-width="0.9"/>
<circle cx="504.7" cy="786.3" r="4.2" fill="rgba(0,0,0,0.45)" stroke="rgba(0,0,0,0.55)" stroke-width="0.9"/>
<circle cx="519.7" cy="779.5" r="4.2" fill="rgba(0,0,0,0.45)" stroke="rgba(0,0,0,0.55)" stroke-width="0.9"/>
<circle cx="526.6" cy="786.3" r="4.2" fill="rgba(0,0,0,0.45)" stroke="rgba(0,0,0,0.55)" stroke-width="0.9"/>
<circle cx="534.8" cy="788.4" r="4.2" fill="rgba(0,0,0,0.45)" stroke="rgba(0,0,0,0.55)" stroke-width="0.9"/>
<circle cx="514.2" cy="793.2" r="4.2" fill="rgba(0,0,0,0.45)" stroke="rgba(0,0,0,0.55)" stroke-width="0.9"/>
<circle cx="534.8" cy="797.9" r="4.2" fill="rgba(0,0,0,0.45)" stroke="rgba(0,0,0,0.55)" stroke-width="0.9"/>
<circle cx="545.8" cy="800.7" r="4.2" fill="rgba(0,0,0,0.45)" stroke="rgba(0,0,0,0.55)" stroke-width="0.9"/>
<circle cx="488.2" cy="795.9" r="4.2" fill="rgba(0,0,0,0.45)" stroke="rgba(0,0,0,0.55)" stroke-width="0.9"/>
<circle cx="497.8" cy="798.6" r="4.2" fill="rgba(0,0,0,0.45)" stroke="rgba(0,0,0,0.55)" stroke-width="0.9"/>
<circle cx="351.2" cy="808.2" r="4.2" fill="rgba(0,0,0,0.45)" stroke="rgba(0,0,0,0.55)" stroke-width="0.9"/>
<circle cx="378.0" cy="801.4" r="4.2" fill="rgba(0,0,0,0.45)" stroke="rgba(0,0,0,0.55)" stroke-width="0.9"/>
<circle cx="362.2" cy="797.3" r="4.2" fill="rgba(0,0,0,0.45)" stroke="rgba(0,0,0,0.55)" stroke-width="0.9"/>
<circle cx="359.5" cy="789.7" r="4.2" fill="rgba(0,0,0,0.45)" stroke="rgba(0,0,0,0.55)" stroke-width="0.9"/>
<circle cx="385.5" cy="808.2" r="4.2" fill="rgba(0,0,0,0.45)" stroke="rgba(0,0,0,0.55)" stroke-width="0.9"/>
<circle cx="384.1" cy="793.2" r="4.2" fill="rgba(0,0,0,0.45)" stroke="rgba(0,0,0,0.55)" stroke-width="0.9"/>
<circle cx="423.2" cy="828.1" r="4.2" fill="rgba(0,0,0,0.45)" stroke="rgba(0,0,0,0.55)" stroke-width="0.9"/>
<circle cx="430.0" cy="828.1" r="4.2" fill="rgba(0,0,0,0.45)" stroke="rgba(0,0,0,0.55)" stroke-width="0.9"/>
<circle cx="445.8" cy="830.1" r="4.2" fill="rgba(0,0,0,0.45)" stroke="rgba(0,0,0,0.55)" stroke-width="0.9"/>
<circle cx="545.1" cy="559.0" r="4.2" fill="rgba(0,0,0,0.45)" stroke="rgba(0,0,0,0.55)" stroke-width="0.9"/>
<circle cx="527.8" cy="599.0" r="4.2" fill="rgba(0,0,0,0.45)" stroke="rgba(0,0,0,0.55)" stroke-width="0.9"/>
<circle cx="521.4" cy="654.0" r="4.2" fill="rgba(0,0,0,0.45)" stroke="rgba(0,0,0,0.55)" stroke-width="0.9"/>
<circle cx="552.3" cy="768.5" r="4.2" fill="rgba(0,0,0,0.45)" stroke="rgba(0,0,0,0.55)" stroke-width="0.9"/>
<circle cx="583.8" cy="795.9" r="4.2" fill="rgba(0,0,0,0.45)" stroke="rgba(0,0,0,0.55)" stroke-width="0.9"/>
<circle cx="594.1" cy="795.2" r="4.2" fill="rgba(0,0,0,0.45)" stroke="rgba(0,0,0,0.55)" stroke-width="0.9"/>
<circle cx="610.5" cy="800.0" r="4.2" fill="rgba(0,0,0,0.45)" stroke="rgba(0,0,0,0.55)" stroke-width="0.9"/>
<circle cx="618.1" cy="801.4" r="4.2" fill="rgba(0,0,0,0.45)" stroke="rgba(0,0,0,0.55)" stroke-width="0.9"/>
<circle cx="636.6" cy="803.4" r="4.2" fill="rgba(0,0,0,0.45)" stroke="rgba(0,0,0,0.55)" stroke-width="0.9"/>
<circle cx="650.3" cy="809.6" r="4.2" fill="rgba(0,0,0,0.45)" stroke="rgba(0,0,0,0.55)" stroke-width="0.9"/>
<circle cx="654.4" cy="820.5" r="4.2" fill="rgba(0,0,0,0.45)" stroke="rgba(0,0,0,0.55)" stroke-width="0.9"/>
<circle cx="659.9" cy="831.5" r="4.2" fill="rgba(0,0,0,0.45)" stroke="rgba(0,0,0,0.55)" stroke-width="0.9"/>
<circle cx="628.4" cy="828.8" r="4.2" fill="rgba(0,0,0,0.45)" stroke="rgba(0,0,0,0.55)" stroke-width="0.9"/>
<circle cx="624.2" cy="821.9" r="4.2" fill="rgba(0,0,0,0.45)" stroke="rgba(0,0,0,0.55)" stroke-width="0.9"/>
<circle cx="614.0" cy="824.7" r="4.2" fill="rgba(0,0,0,0.45)" stroke="rgba(0,0,0,0.55)" stroke-width="0.9"/>
<circle cx="614.7" cy="813.7" r="4.2" fill="rgba(0,0,0,0.45)" stroke="rgba(0,0,0,0.55)" stroke-width="0.9"/>
<circle cx="604.4" cy="811.0" r="4.2" fill="rgba(0,0,0,0.45)" stroke="rgba(0,0,0,0.55)" stroke-width="0.9"/>
<circle cx="566.0" cy="805.5" r="4.2" fill="rgba(0,0,0,0.45)" stroke="rgba(0,0,0,0.55)" stroke-width="0.9"/>
<circle cx="577.0" cy="806.8" r="4.2" fill="rgba(0,0,0,0.45)" stroke="rgba(0,0,0,0.55)" stroke-width="0.9"/>
<circle cx="592.1" cy="808.2" r="4.2" fill="rgba(0,0,0,0.45)" stroke="rgba(0,0,0,0.55)" stroke-width="0.9"/>
<circle cx="603.0" cy="820.5" r="4.2" fill="rgba(0,0,0,0.45)" stroke="rgba(0,0,0,0.55)" stroke-width="0.9"/>
<circle cx="507.8" cy="783.2" r="4.2" fill="rgba(0,0,0,0.45)" stroke="rgba(0,0,0,0.55)" stroke-width="0.9"/>
<circle cx="519.1" cy="748.3" r="4.2" fill="rgba(0,0,0,0.45)" stroke="rgba(0,0,0,0.55)" stroke-width="0.9"/>
<circle cx="499.6" cy="801.7" r="4.2" fill="rgba(0,0,0,0.45)" stroke="rgba(0,0,0,0.55)" stroke-width="0.9"/>
<circle cx="509.9" cy="800.7" r="4.2" fill="rgba(0,0,0,0.45)" stroke="rgba(0,0,0,0.55)" stroke-width="0.9"/>
<circle cx="514.0" cy="807.9" r="4.2" fill="rgba(0,0,0,0.45)" stroke="rgba(0,0,0,0.55)" stroke-width="0.9"/>
<circle cx="524.2" cy="807.9" r="4.2" fill="rgba(0,0,0,0.45)" stroke="rgba(0,0,0,0.55)" stroke-width="0.9"/>
<circle cx="533.5" cy="801.7" r="4.2" fill="rgba(0,0,0,0.45)" stroke="rgba(0,0,0,0.55)" stroke-width="0.9"/>
<circle cx="542.7" cy="812.0" r="4.2" fill="rgba(0,0,0,0.45)" stroke="rgba(0,0,0,0.55)" stroke-width="0.9"/>
<circle cx="567.4" cy="812.0" r="4.2" fill="rgba(0,0,0,0.45)" stroke="rgba(0,0,0,0.55)" stroke-width="0.9"/>
<circle cx="587.9" cy="812.0" r="4.2" fill="rgba(0,0,0,0.45)" stroke="rgba(0,0,0,0.55)" stroke-width="0.9"/>
<circle cx="600.3" cy="830.5" r="4.2" fill="rgba(0,0,0,0.45)" stroke="rgba(0,0,0,0.55)" stroke-width="0.9"/>
<circle cx="591.0" cy="827.4" r="4.2" fill="rgba(0,0,0,0.45)" stroke="rgba(0,0,0,0.55)" stroke-width="0.9"/>
<circle cx="587.9" cy="830.5" r="4.2" fill="rgba(0,0,0,0.45)" stroke="rgba(0,0,0,0.55)" stroke-width="0.9"/>
<circle cx="550.6" cy="814.9" r="4.2" fill="rgba(0,0,0,0.45)" stroke="rgba(0,0,0,0.55)" stroke-width="0.9"/>
<circle cx="551.1" cy="800.5" r="4.2" fill="rgba(0,0,0,0.45)" stroke="rgba(0,0,0,0.55)" stroke-width="0.9"/>
<circle cx="532.0" cy="806.7" r="4.2" fill="rgba(0,0,0,0.45)" stroke="rgba(0,0,0,0.55)" stroke-width="0.9"/>
<circle cx="526.0" cy="794.3" r="4.2" fill="rgba(0,0,0,0.45)" stroke="rgba(0,0,0,0.55)" stroke-width="0.9"/>
<circle cx="577.2" cy="797.2" r="4.2" fill="rgba(0,0,0,0.45)" stroke="rgba(0,0,0,0.55)" stroke-width="0.9"/>
<circle cx="587.4" cy="823.7" r="4.2" fill="rgba(0,0,0,0.45)" stroke="rgba(0,0,0,0.55)" stroke-width="0.9"/>
<circle cx="472.1" cy="806.5" r="4.2" fill="rgba(0,0,0,0.45)" stroke="rgba(0,0,0,0.55)" stroke-width="0.9"/>
<circle cx="568.4" cy="824.9" r="4.2" fill="rgba(0,0,0,0.45)" stroke="rgba(0,0,0,0.55)" stroke-width="0.9"/>
<circle cx="523.9" cy="799.7" r="4.2" fill="rgba(0,0,0,0.45)" stroke="rgba(0,0,0,0.55)" stroke-width="0.9"/>
<circle cx="495.2" cy="824.0" r="4.2" fill="rgba(0,0,0,0.45)" stroke="rgba(0,0,0,0.55)" stroke-width="0.9"/>
<circle cx="495.3" cy="810.9" r="4.2" fill="rgba(0,0,0,0.45)" stroke="rgba(0,0,0,0.55)" stroke-width="0.9"/>
<circle cx="487.0" cy="808.9" r="4.2" fill="rgba(0,0,0,0.45)" stroke="rgba(0,0,0,0.55)" stroke-width="0.9"/>
<circle cx="584.3" cy="794.8" r="4.2" fill="rgba(0,0,0,0.45)" stroke="rgba(0,0,0,0.55)" stroke-width="0.9"/>
<circle cx="568.4" cy="808.3" r="4.2" fill="rgba(0,0,0,0.45)" stroke="rgba(0,0,0,0.55)" stroke-width="0.9"/>
<circle cx="576.4" cy="815.3" r="4.2" fill="rgba(0,0,0,0.45)" stroke="rgba(0,0,0,0.55)" stroke-width="0.9"/>
<circle cx="497.8" cy="822.3" r="4.2" fill="rgba(0,0,0,0.45)" stroke="rgba(0,0,0,0.55)" stroke-width="0.9"/>
<circle cx="528.3" cy="790.9" r="4.2" fill="rgba(0,0,0,0.45)" stroke="rgba(0,0,0,0.55)" stroke-width="0.9"/>
<circle cx="470.4" cy="807.7" r="4.2" fill="rgba(0,0,0,0.45)" stroke="rgba(0,0,0,0.55)" stroke-width="0.9"/>
<circle cx="524.1" cy="800.9" r="4.2" fill="rgba(0,0,0,0.45)" stroke="rgba(0,0,0,0.55)" stroke-width="0.9"/>
<circle cx="486.9" cy="802.4" r="4.2" fill="rgba(0,0,0,0.45)" stroke="rgba(0,0,0,0.55)" stroke-width="0.9"/>
<circle cx="507.9" cy="820.2" r="4.2" fill="rgba(0,0,0,0.45)" stroke="rgba(0,0,0,0.55)" stroke-width="0.9"/>
<circle cx="470.2" cy="817.0" r="4.2" fill="rgba(0,0,0,0.45)" stroke="rgba(0,0,0,0.55)" stroke-width="0.9"/>
<circle cx="570.7" cy="794.3" r="4.2" fill="rgba(0,0,0,0.45)" stroke="rgba(0,0,0,0.55)" stroke-width="0.9"/>
<circle cx="581.2" cy="815.7" r="4.2" fill="rgba(0,0,0,0.45)" stroke="rgba(0,0,0,0.55)" stroke-width="0.9"/>
<circle cx="578.2" cy="800.4" r="4.2" fill="rgba(0,0,0,0.45)" stroke="rgba(0,0,0,0.55)" stroke-width="0.9"/>
<circle cx="514.7" cy="804.1" r="4.2" fill="rgba(0,0,0,0.45)" stroke="rgba(0,0,0,0.55)" stroke-width="0.9"/>
<circle cx="589.9" cy="811.2" r="4.2" fill="rgba(0,0,0,0.45)" stroke="rgba(0,0,0,0.55)" stroke-width="0.9"/>
<circle cx="513.3" cy="805.4" r="4.2" fill="rgba(0,0,0,0.45)" stroke="rgba(0,0,0,0.55)" stroke-width="0.9"/>
<circle cx="503.0" cy="791.7" r="4.2" fill="rgba(0,0,0,0.45)" stroke="rgba(0,0,0,0.55)" stroke-width="0.9"/>
<circle cx="482.2" cy="820.0" r="4.2" fill="rgba(0,0,0,0.45)" stroke="rgba(0,0,0,0.55)" stroke-width="0.9"/>
<circle cx="504.3" cy="823.7" r="4.2" fill="rgba(0,0,0,0.45)" stroke="rgba(0,0,0,0.55)" stroke-width="0.9"/>
<circle cx="499.9" cy="799.6" r="4.2" fill="rgba(0,0,0,0.45)" stroke="rgba(0,0,0,0.55)" stroke-width="0.9"/>
<circle cx="531.3" cy="796.8" r="4.2" fill="rgba(0,0,0,0.45)" stroke="rgba(0,0,0,0.55)" stroke-width="0.9"/>
<circle cx="514.8" cy="824.4" r="4.2" fill="rgba(0,0,0,0.45)" stroke="rgba(0,0,0,0.55)" stroke-width="0.9"/>
<circle cx="576.1" cy="819.2" r="4.2" fill="rgba(0,0,0,0.45)" stroke="rgba(0,0,0,0.55)" stroke-width="0.9"/>
<circle cx="545.7" cy="822.9" r="4.2" fill="rgba(0,0,0,0.45)" stroke="rgba(0,0,0,0.55)" stroke-width="0.9"/>
<circle cx="582.9" cy="809.8" r="4.2" fill="rgba(0,0,0,0.45)" stroke="rgba(0,0,0,0.55)" stroke-width="0.9"/>
<circle cx="556.3" cy="791.8" r="4.2" fill="rgba(0,0,0,0.45)" stroke="rgba(0,0,0,0.55)" stroke-width="0.9"/>
<circle cx="557.9" cy="806.2" r="4.2" fill="rgba(0,0,0,0.45)" stroke="rgba(0,0,0,0.55)" stroke-width="0.9"/>
<circle cx="560.3" cy="813.2" r="4.2" fill="rgba(0,0,0,0.45)" stroke="rgba(0,0,0,0.55)" stroke-width="0.9"/>
<circle cx="582.9" cy="806.3" r="4.2" fill="rgba(0,0,0,0.45)" stroke="rgba(0,0,0,0.55)" stroke-width="0.9"/>
<circle cx="634.1" cy="808.4" r="4.2" fill="rgba(0,0,0,0.45)" stroke="rgba(0,0,0,0.55)" stroke-width="0.9"/>
<circle cx="597.8" cy="814.3" r="4.2" fill="rgba(0,0,0,0.45)" stroke="rgba(0,0,0,0.55)" stroke-width="0.9"/>
<circle cx="583.8" cy="825.0" r="4.2" fill="rgba(0,0,0,0.45)" stroke="rgba(0,0,0,0.55)" stroke-width="0.9"/>
<circle cx="638.1" cy="812.0" r="4.2" fill="rgba(0,0,0,0.45)" stroke="rgba(0,0,0,0.55)" stroke-width="0.9"/>
<circle cx="612.5" cy="813.1" r="4.2" fill="rgba(0,0,0,0.45)" stroke="rgba(0,0,0,0.55)" stroke-width="0.9"/>
<circle cx="604.6" cy="815.6" r="4.2" fill="rgba(0,0,0,0.45)" stroke="rgba(0,0,0,0.55)" stroke-width="0.9"/>
<circle cx="573.4" cy="809.4" r="4.2" fill="rgba(0,0,0,0.45)" stroke="rgba(0,0,0,0.55)" stroke-width="0.9"/>
<circle cx="576.6" cy="829.5" r="4.2" fill="rgba(0,0,0,0.45)" stroke="rgba(0,0,0,0.55)" stroke-width="0.9"/>
<circle cx="599.8" cy="810.9" r="4.2" fill="rgba(0,0,0,0.45)" stroke="rgba(0,0,0,0.55)" stroke-width="0.9"/>
<circle cx="632.5" cy="831.9" r="4.2" fill="rgba(0,0,0,0.45)" stroke="rgba(0,0,0,0.55)" stroke-width="0.9"/>
<circle cx="596.0" cy="808.8" r="4.2" fill="rgba(0,0,0,0.45)" stroke="rgba(0,0,0,0.55)" stroke-width="0.9"/>
<circle cx="575.4" cy="807.4" r="4.2" fill="rgba(0,0,0,0.45)" stroke="rgba(0,0,0,0.55)" stroke-width="0.9"/>
<circle cx="587.4" cy="807.5" r="4.2" fill="rgba(0,0,0,0.45)" stroke="rgba(0,0,0,0.55)" stroke-width="0.9"/>
<circle cx="579.1" cy="812.0" r="4.2" fill="rgba(0,0,0,0.45)" stroke="rgba(0,0,0,0.55)" stroke-width="0.9"/>
<circle cx="605.6" cy="829.0" r="4.2" fill="rgba(0,0,0,0.45)" stroke="rgba(0,0,0,0.55)" stroke-width="0.9"/>
<circle cx="345.8" cy="256.6" r="4.2" fill="rgba(250,40,40,0.45)" stroke="rgba(215,40,40,0.55)" stroke-width="0.9"/>
<circle cx="389.2" cy="240.5" r="4.2" fill="rgba(250,40,40,0.45)" stroke="rgba(215,40,40,0.55)" stroke-width="0.9"/>
<circle cx="260.2" cy="292.3" r="4.2" fill="rgba(250,40,40,0.45)" stroke="rgba(215,40,40,0.55)" stroke-width="0.9"/>
<circle cx="376.6" cy="342.1" r="4.2" fill="rgba(250,40,40,0.45)" stroke="rgba(215,40,40,0.55)" stroke-width="0.9"/>
<circle cx="379.3" cy="373.0" r="4.2" fill="rgba(250,40,40,0.45)" stroke="rgba(215,40,40,0.55)" stroke-width="0.9"/>
<circle cx="383.7" cy="393.3" r="4.2" fill="rgba(250,40,40,0.45)" stroke="rgba(215,40,40,0.55)" stroke-width="0.9"/>
<circle cx="319.1" cy="398.8" r="4.2" fill="rgba(250,40,40,0.45)" stroke="rgba(215,40,40,0.55)" stroke-width="0.9"/>
<circle cx="301.4" cy="421.9" r="4.2" fill="rgba(250,40,40,0.45)" stroke="rgba(215,40,40,0.55)" stroke-width="0.9"/>
<circle cx="315.8" cy="437.8" r="4.2" fill="rgba(250,40,40,0.45)" stroke="rgba(215,40,40,0.55)" stroke-width="0.9"/>
<circle cx="357.7" cy="447.7" r="4.2" fill="rgba(250,40,40,0.45)" stroke="rgba(215,40,40,0.55)" stroke-width="0.9"/>
<circle cx="377.1" cy="454.6" r="4.2" fill="rgba(250,40,40,0.45)" stroke="rgba(215,40,40,0.55)" stroke-width="0.9"/>
<circle cx="366.0" cy="472.2" r="4.2" fill="rgba(250,40,40,0.45)" stroke="rgba(215,40,40,0.55)" stroke-width="0.9"/>
<circle cx="285.4" cy="539.4" r="4.2" fill="rgba(250,40,40,0.45)" stroke="rgba(215,40,40,0.55)" stroke-width="0.9"/>
<circle cx="350.2" cy="530.4" r="4.2" fill="rgba(250,40,40,0.45)" stroke="rgba(215,40,40,0.55)" stroke-width="0.9"/>
<circle cx="166.7" cy="551.2" r="4.2" fill="rgba(250,40,40,0.45)" stroke="rgba(215,40,40,0.55)" stroke-width="0.9"/>
<circle cx="387.2" cy="547.6" r="4.2" fill="rgba(250,40,40,0.45)" stroke="rgba(215,40,40,0.55)" stroke-width="0.9"/>
<circle cx="322.2" cy="577.0" r="4.2" fill="rgba(250,40,40,0.45)" stroke="rgba(215,40,40,0.55)" stroke-width="0.9"/>
<circle cx="335.0" cy="579.5" r="4.2" fill="rgba(250,40,40,0.45)" stroke="rgba(215,40,40,0.55)" stroke-width="0.9"/>
<circle cx="386.8" cy="573.5" r="4.2" fill="rgba(250,40,40,0.45)" stroke="rgba(215,40,40,0.55)" stroke-width="0.9"/>
<circle cx="301.1" cy="599.5" r="4.2" fill="rgba(250,40,40,0.45)" stroke="rgba(215,40,40,0.55)" stroke-width="0.9"/>
<circle cx="386.4" cy="600.9" r="4.2" fill="rgba(250,40,40,0.45)" stroke="rgba(215,40,40,0.55)" stroke-width="0.9"/>
<circle cx="393.1" cy="604.4" r="4.2" fill="rgba(250,40,40,0.45)" stroke="rgba(215,40,40,0.55)" stroke-width="0.9"/>
<circle cx="389.7" cy="617.7" r="4.2" fill="rgba(250,40,40,0.45)" stroke="rgba(215,40,40,0.55)" stroke-width="0.9"/>
<circle cx="313.8" cy="624.0" r="4.2" fill="rgba(250,40,40,0.45)" stroke="rgba(215,40,40,0.55)" stroke-width="0.9"/>
<circle cx="396.2" cy="631.4" r="4.2" fill="rgba(250,40,40,0.45)" stroke="rgba(215,40,40,0.55)" stroke-width="0.9"/>
<circle cx="391.7" cy="636.7" r="4.2" fill="rgba(250,40,40,0.45)" stroke="rgba(215,40,40,0.55)" stroke-width="0.9"/>
<circle cx="386.4" cy="645.9" r="4.2" fill="rgba(250,40,40,0.45)" stroke="rgba(215,40,40,0.55)" stroke-width="0.9"/>
<circle cx="363.9" cy="650.4" r="4.2" fill="rgba(250,40,40,0.45)" stroke="rgba(215,40,40,0.55)" stroke-width="0.9"/>
<circle cx="359.0" cy="660.7" r="4.2" fill="rgba(250,40,40,0.45)" stroke="rgba(215,40,40,0.55)" stroke-width="0.9"/>
<circle cx="387.4" cy="659.2" r="4.2" fill="rgba(250,40,40,0.45)" stroke="rgba(215,40,40,0.55)" stroke-width="0.9"/>
<circle cx="321.8" cy="671.5" r="4.2" fill="rgba(250,40,40,0.45)" stroke="rgba(215,40,40,0.55)" stroke-width="0.9"/>
<circle cx="366.7" cy="671.3" r="4.2" fill="rgba(250,40,40,0.45)" stroke="rgba(215,40,40,0.55)" stroke-width="0.9"/>
<circle cx="366.7" cy="676.8" r="4.2" fill="rgba(250,40,40,0.45)" stroke="rgba(215,40,40,0.55)" stroke-width="0.9"/>
<circle cx="381.5" cy="676.4" r="4.2" fill="rgba(250,40,40,0.45)" stroke="rgba(215,40,40,0.55)" stroke-width="0.9"/>
<circle cx="254.3" cy="682.1" r="4.2" fill="rgba(250,40,40,0.45)" stroke="rgba(215,40,40,0.55)" stroke-width="0.9"/>
<circle cx="319.9" cy="684.6" r="4.2" fill="rgba(250,40,40,0.45)" stroke="rgba(215,40,40,0.55)" stroke-width="0.9"/>
<circle cx="389.7" cy="687.5" r="4.2" fill="rgba(250,40,40,0.45)" stroke="rgba(215,40,40,0.55)" stroke-width="0.9"/>
<circle cx="343.2" cy="689.1" r="4.2" fill="rgba(250,40,40,0.45)" stroke="rgba(215,40,40,0.55)" stroke-width="0.9"/>
<circle cx="363.9" cy="694.0" r="4.2" fill="rgba(250,40,40,0.45)" stroke="rgba(215,40,40,0.55)" stroke-width="0.9"/>
<circle cx="348.6" cy="701.6" r="4.2" fill="rgba(250,40,40,0.45)" stroke="rgba(215,40,40,0.55)" stroke-width="0.9"/>
<circle cx="371.2" cy="701.3" r="4.2" fill="rgba(250,40,40,0.45)" stroke="rgba(215,40,40,0.55)" stroke-width="0.9"/>
<circle cx="367.8" cy="708.1" r="4.2" fill="rgba(250,40,40,0.45)" stroke="rgba(215,40,40,0.55)" stroke-width="0.9"/>
<circle cx="374.5" cy="707.1" r="4.2" fill="rgba(250,40,40,0.45)" stroke="rgba(215,40,40,0.55)" stroke-width="0.9"/>
<circle cx="381.9" cy="711.6" r="4.2" fill="rgba(250,40,40,0.45)" stroke="rgba(215,40,40,0.55)" stroke-width="0.9"/>
<circle cx="341.8" cy="711.0" r="4.2" fill="rgba(250,40,40,0.45)" stroke="rgba(215,40,40,0.55)" stroke-width="0.9"/>
<circle cx="356.5" cy="715.0" r="4.2" fill="rgba(250,40,40,0.45)" stroke="rgba(215,40,40,0.55)" stroke-width="0.9"/>
<circle cx="383.5" cy="725.7" r="4.2" fill="rgba(250,40,40,0.45)" stroke="rgba(215,40,40,0.55)" stroke-width="0.9"/>
<circle cx="393.7" cy="729.6" r="4.2" fill="rgba(250,40,40,0.45)" stroke="rgba(215,40,40,0.55)" stroke-width="0.9"/>
<circle cx="106.9" cy="715.7" r="4.2" fill="rgba(250,40,40,0.45)" stroke="rgba(215,40,40,0.55)" stroke-width="0.9"/>
<circle cx="208.9" cy="743.5" r="4.2" fill="rgba(250,40,40,0.45)" stroke="rgba(215,40,40,0.55)" stroke-width="0.9"/>
<circle cx="319.7" cy="741.1" r="4.2" fill="rgba(250,40,40,0.45)" stroke="rgba(215,40,40,0.55)" stroke-width="0.9"/>
<circle cx="325.2" cy="737.0" r="4.2" fill="rgba(250,40,40,0.45)" stroke="rgba(215,40,40,0.55)" stroke-width="0.9"/>
<circle cx="356.0" cy="739.0" r="4.2" fill="rgba(250,40,40,0.45)" stroke="rgba(215,40,40,0.55)" stroke-width="0.9"/>
<circle cx="362.2" cy="739.7" r="4.2" fill="rgba(250,40,40,0.45)" stroke="rgba(215,40,40,0.55)" stroke-width="0.9"/>
<circle cx="369.0" cy="740.4" r="4.2" fill="rgba(250,40,40,0.45)" stroke="rgba(215,40,40,0.55)" stroke-width="0.9"/>
<circle cx="333.4" cy="750.0" r="4.2" fill="rgba(250,40,40,0.45)" stroke="rgba(215,40,40,0.55)" stroke-width="0.9"/>
<circle cx="327.3" cy="757.5" r="4.2" fill="rgba(250,40,40,0.45)" stroke="rgba(215,40,40,0.55)" stroke-width="0.9"/>
<circle cx="326.6" cy="768.5" r="4.2" fill="rgba(250,40,40,0.45)" stroke="rgba(215,40,40,0.55)" stroke-width="0.9"/>
<circle cx="338.9" cy="766.4" r="4.2" fill="rgba(250,40,40,0.45)" stroke="rgba(215,40,40,0.55)" stroke-width="0.9"/>
<circle cx="346.4" cy="767.1" r="4.2" fill="rgba(250,40,40,0.45)" stroke="rgba(215,40,40,0.55)" stroke-width="0.9"/>
<circle cx="358.8" cy="758.9" r="4.2" fill="rgba(250,40,40,0.45)" stroke="rgba(215,40,40,0.55)" stroke-width="0.9"/>
<circle cx="370.4" cy="754.8" r="4.2" fill="rgba(250,40,40,0.45)" stroke="rgba(215,40,40,0.55)" stroke-width="0.9"/>
<circle cx="358.8" cy="769.9" r="4.2" fill="rgba(250,40,40,0.45)" stroke="rgba(215,40,40,0.55)" stroke-width="0.9"/>
<circle cx="349.2" cy="780.8" r="4.2" fill="rgba(250,40,40,0.45)" stroke="rgba(215,40,40,0.55)" stroke-width="0.9"/>
<circle cx="359.5" cy="786.3" r="4.2" fill="rgba(250,40,40,0.45)" stroke="rgba(215,40,40,0.55)" stroke-width="0.9"/>
<circle cx="814.3" cy="244.4" r="4.2" fill="rgba(250,40,40,0.45)" stroke="rgba(215,40,40,0.55)" stroke-width="0.9"/>
<circle cx="633.0" cy="295.6" r="4.2" fill="rgba(250,40,40,0.45)" stroke="rgba(215,40,40,0.55)" stroke-width="0.9"/>
<circle cx="624.1" cy="565.0" r="4.2" fill="rgba(250,40,40,0.45)" stroke="rgba(215,40,40,0.55)" stroke-width="0.9"/>
<circle cx="706.5" cy="593.7" r="4.2" fill="rgba(250,40,40,0.45)" stroke="rgba(215,40,40,0.55)" stroke-width="0.9"/>
<circle cx="747.9" cy="610.7" r="4.2" fill="rgba(250,40,40,0.45)" stroke="rgba(215,40,40,0.55)" stroke-width="0.9"/>
<circle cx="600.0" cy="615.2" r="4.2" fill="rgba(250,40,40,0.45)" stroke="rgba(215,40,40,0.55)" stroke-width="0.9"/>
<circle cx="555.2" cy="665.1" r="4.2" fill="rgba(250,40,40,0.45)" stroke="rgba(215,40,40,0.55)" stroke-width="0.9"/>
<circle cx="574.2" cy="700.7" r="4.2" fill="rgba(250,40,40,0.45)" stroke="rgba(215,40,40,0.55)" stroke-width="0.9"/>
<circle cx="578.8" cy="714.8" r="4.2" fill="rgba(250,40,40,0.45)" stroke="rgba(215,40,40,0.55)" stroke-width="0.9"/>
<circle cx="672.9" cy="743.8" r="4.2" fill="rgba(250,40,40,0.45)" stroke="rgba(215,40,40,0.55)" stroke-width="0.9"/>
<circle cx="697.5" cy="728.1" r="4.2" fill="rgba(250,40,40,0.45)" stroke="rgba(215,40,40,0.55)" stroke-width="0.9"/>
<circle cx="633.2" cy="745.2" r="4.2" fill="rgba(250,40,40,0.45)" stroke="rgba(215,40,40,0.55)" stroke-width="0.9"/>
<circle cx="638.0" cy="742.5" r="4.2" fill="rgba(250,40,40,0.45)" stroke="rgba(215,40,40,0.55)" stroke-width="0.9"/>
<circle cx="706.8" cy="747.9" r="4.2" fill="rgba(250,40,40,0.45)" stroke="rgba(215,40,40,0.55)" stroke-width="0.9"/>
<circle cx="573.3" cy="748.4" r="4.2" fill="rgba(250,40,40,0.45)" stroke="rgba(215,40,40,0.55)" stroke-width="0.9"/>
<circle cx="599.6" cy="758.9" r="4.2" fill="rgba(250,40,40,0.45)" stroke="rgba(215,40,40,0.55)" stroke-width="0.9"/>
<circle cx="559.2" cy="769.9" r="4.2" fill="rgba(250,40,40,0.45)" stroke="rgba(215,40,40,0.55)" stroke-width="0.9"/>
<circle cx="564.4" cy="774.0" r="4.2" fill="rgba(250,40,40,0.45)" stroke="rgba(215,40,40,0.55)" stroke-width="0.9"/>
<circle cx="595.5" cy="774.0" r="4.2" fill="rgba(250,40,40,0.45)" stroke="rgba(215,40,40,0.55)" stroke-width="0.9"/>
<circle cx="608.5" cy="774.7" r="4.2" fill="rgba(250,40,40,0.45)" stroke="rgba(215,40,40,0.55)" stroke-width="0.9"/>
<circle cx="614.0" cy="782.9" r="4.2" fill="rgba(250,40,40,0.45)" stroke="rgba(215,40,40,0.55)" stroke-width="0.9"/>
<circle cx="562.6" cy="789.0" r="4.2" fill="rgba(250,40,40,0.45)" stroke="rgba(215,40,40,0.55)" stroke-width="0.9"/>
<circle cx="582.5" cy="786.3" r="4.2" fill="rgba(250,40,40,0.45)" stroke="rgba(215,40,40,0.55)" stroke-width="0.9"/>
<circle cx="635.9" cy="787.7" r="4.2" fill="rgba(250,40,40,0.45)" stroke="rgba(215,40,40,0.55)" stroke-width="0.9"/>
<circle cx="708.2" cy="769.2" r="4.2" fill="rgba(250,40,40,0.45)" stroke="rgba(215,40,40,0.55)" stroke-width="0.9"/>
<circle cx="767.7" cy="775.3" r="4.2" fill="rgba(250,40,40,0.45)" stroke="rgba(215,40,40,0.55)" stroke-width="0.9"/>
<text x="211.7" y="238.9" font-size="25.8" fill="#000" stroke="#000" font-style="italic">ALOX5AP</text>
<text x="173.1" y="295.8" font-size="25.8" fill="#000" stroke="#000" font-style="italic">SPP1</text>
<text x="245.2" y="393.7" font-size="25.8" fill="#000" stroke="#000" font-style="italic">BIN1</text>
<text x="178.2" y="428.6" font-size="25.8" fill="#000" stroke="#000" font-style="italic">CCND1</text>
<text x="198.5" y="461.6" font-size="25.8" fill="#000" stroke="#000" font-style="italic">SCIN</text>
<text x="396.3" y="449.1" font-size="25.8" fill="#000" stroke="#000" font-style="italic">OLFML3</text>
<text x="245.9" y="493.6" font-size="25.8" fill="#000" stroke="#000" font-style="italic">FCGBP</text>
<text x="195.6" y="531.6" font-size="25.8" fill="#000" stroke="#000" font-style="italic">PDPN</text>
<text x="198.6" y="569.2" font-size="25.8" fill="#000" stroke="#000" font-style="italic">FSCN1</text>
<text x="177.0" y="604.4" font-size="25.8" fill="#000" stroke="#000" font-style="italic">GPR84</text>
<text x="232.2" y="651.0" font-size="25.8" fill="#000" stroke="#000" font-style="italic">CX3CR1</text>
<text x="78.3" y="702.9" font-size="25.8" fill="#000" stroke="#000" font-style="italic">CALB2</text>
<text x="152.3" y="773.9" font-size="25.8" fill="#000" stroke="#000" font-style="italic">SPARCL1</text>
<text x="461.5" y="544.2" font-size="25.8" fill="#000" stroke="#000" font-style="italic">HLA-DQA1</text>
<text x="467.6" y="584.4" font-size="25.8" fill="#000" stroke="#000" font-style="italic">HLA-DRB1</text>
<text x="475.5" y="626.0" font-size="25.8" fill="#000" stroke="#000" font-style="italic">MS4A7</text>
<text x="456.8" y="658.7" font-size="25.8" fill="#000" stroke="#000" font-style="italic">CD74</text>
<text x="618.7" y="605.9" font-size="25.8" fill="#000" stroke="#000" font-style="italic">LYZ</text>
<text x="748.3" y="590.9" font-size="25.8" fill="#000" stroke="#000" font-style="italic">CXCL12</text>
<text x="764.2" y="225.2" font-size="25.8" fill="#0d8c4d" stroke="#0d8c4d" font-style="italic">SEPP1</text>
<text x="598.2" y="282.6" font-size="25.8" fill="#0d8c4d" stroke="#0d8c4d" font-style="italic">CFD</text>
<text x="596.1" y="523.7" font-size="25.8" fill="#0d8c4d" stroke="#0d8c4d" font-style="italic">PLD3</text>
<text x="697.3" y="537.0" font-size="25.8" fill="#0d8c4d" stroke="#0d8c4d" font-style="italic">SLC40A1</text>
<text x="558.0" y="650.7" font-size="25.8" fill="#0d8c4d" stroke="#0d8c4d" font-style="italic">TXNIP</text>
<text x="584.6" y="683.2" font-size="25.8" fill="#0d8c4d" stroke="#0d8c4d" font-style="italic">PLTP</text>
<text x="661.5" y="662.8" font-size="25.8" fill="#0d8c4d" stroke="#0d8c4d" font-style="italic">ACP5</text>
<text x="682.6" y="692.3" font-size="25.8" fill="#2a9ad8" stroke="#2a9ad8" font-style="italic">MRC1</text>
<text x="473.8" y="717.1" font-size="25.8" fill="#0d8c4d" stroke="#0d8c4d" font-style="italic">BLVRB</text>
<text x="592.7" y="717.1" font-size="25.8" fill="#0d8c4d" stroke="#0d8c4d" font-style="italic">MPEG1</text>
<text x="746.2" y="719.2" font-size="25.8" fill="#0d8c4d" stroke="#0d8c4d" font-style="italic">RNASE1</text>
<text x="791.4" y="756.2" font-size="25.8" fill="#0d8c4d" stroke="#0d8c4d" font-style="italic">CLEC10A</text>
<text x="611.9" y="769.2" font-size="25.8" fill="#0d8c4d" stroke="#0d8c4d" font-style="italic">LGMN</text>
<text x="648.2" y="798.6" font-size="25.8" fill="#0d8c4d" stroke="#0d8c4d" font-style="italic">FOLR2</text>
<text x="757.1" y="805.5" font-size="25.8" fill="#0d8c4d" stroke="#0d8c4d" font-style="italic">ME1</text>
<line x1="326.4" y1="239.4" x2="339.6" y2="251.0" stroke="#222" stroke-width="1.3"/>
<line x1="238.6" y1="289.2" x2="253.6" y2="290.1" stroke="#222" stroke-width="1.3"/>
<line x1="303.2" y1="389.3" x2="312.7" y2="395.5" stroke="#222" stroke-width="1.3"/>
<line x1="269.0" y1="420.8" x2="290.6" y2="421.9" stroke="#222" stroke-width="1.3"/>
<line x1="262.4" y1="450.6" x2="304.3" y2="441.8" stroke="#222" stroke-width="1.3"/>
<line x1="364.9" y1="444.4" x2="394.7" y2="442.9" stroke="#222" stroke-width="1.3"/>
<line x1="339.6" y1="479.7" x2="359.4" y2="474.9" stroke="#222" stroke-width="1.3"/>
<line x1="268.4" y1="527.1" x2="276.2" y2="534.9" stroke="#222" stroke-width="1.3"/>
<line x1="284.1" y1="562.3" x2="314.4" y2="573.1" stroke="#222" stroke-width="1.3"/>
<line x1="262.5" y1="596.2" x2="290.9" y2="598.5" stroke="#222" stroke-width="1.3"/>
<line x1="337.9" y1="637.7" x2="391.7" y2="629.4" stroke="#222" stroke-width="1.3"/>
<line x1="544.4" y1="547.2" x2="544.4" y2="554.3" stroke="#222" stroke-width="1.3"/>
<line x1="527.2" y1="585.5" x2="527.8" y2="595.2" stroke="#222" stroke-width="1.3"/>
<line x1="527.3" y1="628.8" x2="528.6" y2="671.9" stroke="#222" stroke-width="1.3"/>
<line x1="503.6" y1="660.3" x2="505.3" y2="669.2" stroke="#222" stroke-width="1.3"/>
<line x1="615.5" y1="608.1" x2="603.6" y2="612.4" stroke="#222" stroke-width="1.3"/>
<line x1="761.9" y1="596.3" x2="752.2" y2="605.9" stroke="#222" stroke-width="1.3"/>
<line x1="624.1" y1="530.6" x2="624.1" y2="559.7" stroke="#222" stroke-width="1.3"/>
<line x1="710.8" y1="542.9" x2="707.4" y2="588.7" stroke="#222" stroke-width="1.3"/>
<line x1="561.9" y1="654.1" x2="557.1" y2="661.0" stroke="#222" stroke-width="1.3"/>
<line x1="587.7" y1="688.4" x2="582.2" y2="709.6" stroke="#222" stroke-width="1.3"/>
<line x1="678.6" y1="667.1" x2="672.6" y2="734.9" stroke="#222" stroke-width="1.3"/>
<line x1="703.7" y1="697.9" x2="698.6" y2="721.9" stroke="#222" stroke-width="1.3"/>
<line x1="627.7" y1="721.9" x2="631.8" y2="739.7" stroke="#222" stroke-width="1.3"/>
<line x1="742.7" y1="719.9" x2="711.2" y2="743.6" stroke="#222" stroke-width="1.3"/>
<line x1="557.1" y1="716.4" x2="569.5" y2="741.8" stroke="#222" stroke-width="1.3"/>
<line x1="607.8" y1="763.3" x2="555.1" y2="767.4" stroke="#222" stroke-width="1.3"/>
<line x1="645.5" y1="791.8" x2="555.8" y2="767.8" stroke="#222" stroke-width="1.3"/>
<line x1="714.7" y1="771.2" x2="753.7" y2="790.4" stroke="#222" stroke-width="1.3"/>
<line x1="772.9" y1="769.9" x2="788.0" y2="756.8" stroke="#222" stroke-width="1.3"/>
<circle cx="325.9" cy="1761.3" r="4.2" fill="rgba(0,0,0,0.45)" stroke="rgba(0,0,0,0.55)" stroke-width="0.9"/>
<circle cx="326.7" cy="1758.4" r="4.2" fill="rgba(0,0,0,0.45)" stroke="rgba(0,0,0,0.55)" stroke-width="0.9"/>
<circle cx="308.2" cy="1758.7" r="4.2" fill="rgba(0,0,0,0.45)" stroke="rgba(0,0,0,0.55)" stroke-width="0.9"/>
<circle cx="302.0" cy="1775.3" r="4.2" fill="rgba(0,0,0,0.45)" stroke="rgba(0,0,0,0.55)" stroke-width="0.9"/>
<circle cx="298.8" cy="1785.0" r="4.2" fill="rgba(0,0,0,0.45)" stroke="rgba(0,0,0,0.55)" stroke-width="0.9"/>
<circle cx="297.0" cy="1759.6" r="4.2" fill="rgba(0,0,0,0.45)" stroke="rgba(0,0,0,0.55)" stroke-width="0.9"/>
<circle cx="326.6" cy="1754.7" r="4.2" fill="rgba(0,0,0,0.45)" stroke="rgba(0,0,0,0.55)" stroke-width="0.9"/>
<circle cx="330.3" cy="1765.9" r="4.2" fill="rgba(0,0,0,0.45)" stroke="rgba(0,0,0,0.55)" stroke-width="0.9"/>
<circle cx="361.8" cy="1785.8" r="4.2" fill="rgba(0,0,0,0.45)" stroke="rgba(0,0,0,0.55)" stroke-width="0.9"/>
<circle cx="315.1" cy="1733.9" r="4.2" fill="rgba(0,0,0,0.45)" stroke="rgba(0,0,0,0.55)" stroke-width="0.9"/>
<circle cx="322.4" cy="1777.4" r="4.2" fill="rgba(0,0,0,0.45)" stroke="rgba(0,0,0,0.55)" stroke-width="0.9"/>
<circle cx="309.8" cy="1781.0" r="4.2" fill="rgba(0,0,0,0.45)" stroke="rgba(0,0,0,0.55)" stroke-width="0.9"/>
<circle cx="301.8" cy="1748.6" r="4.2" fill="rgba(0,0,0,0.45)" stroke="rgba(0,0,0,0.55)" stroke-width="0.9"/>
<circle cx="302.7" cy="1733.4" r="4.2" fill="rgba(0,0,0,0.45)" stroke="rgba(0,0,0,0.55)" stroke-width="0.9"/>
<circle cx="307.7" cy="1761.3" r="4.2" fill="rgba(0,0,0,0.45)" stroke="rgba(0,0,0,0.55)" stroke-width="0.9"/>
<circle cx="308.6" cy="1771.0" r="4.2" fill="rgba(0,0,0,0.45)" stroke="rgba(0,0,0,0.55)" stroke-width="0.9"/>
<circle cx="310.0" cy="1745.1" r="4.2" fill="rgba(0,0,0,0.45)" stroke="rgba(0,0,0,0.55)" stroke-width="0.9"/>
<circle cx="309.9" cy="1752.1" r="4.2" fill="rgba(0,0,0,0.45)" stroke="rgba(0,0,0,0.55)" stroke-width="0.9"/>
<circle cx="338.4" cy="1735.6" r="4.2" fill="rgba(0,0,0,0.45)" stroke="rgba(0,0,0,0.55)" stroke-width="0.9"/>
<circle cx="310.1" cy="1744.5" r="4.2" fill="rgba(0,0,0,0.45)" stroke="rgba(0,0,0,0.55)" stroke-width="0.9"/>
<circle cx="301.9" cy="1762.6" r="4.2" fill="rgba(0,0,0,0.45)" stroke="rgba(0,0,0,0.55)" stroke-width="0.9"/>
<circle cx="308.5" cy="1771.4" r="4.2" fill="rgba(0,0,0,0.45)" stroke="rgba(0,0,0,0.55)" stroke-width="0.9"/>
<circle cx="309.0" cy="1783.2" r="4.2" fill="rgba(0,0,0,0.45)" stroke="rgba(0,0,0,0.55)" stroke-width="0.9"/>
<circle cx="298.6" cy="1783.9" r="4.2" fill="rgba(0,0,0,0.45)" stroke="rgba(0,0,0,0.55)" stroke-width="0.9"/>
<circle cx="332.9" cy="1777.7" r="4.2" fill="rgba(0,0,0,0.45)" stroke="rgba(0,0,0,0.55)" stroke-width="0.9"/>
<circle cx="314.5" cy="1781.4" r="4.2" fill="rgba(0,0,0,0.45)" stroke="rgba(0,0,0,0.55)" stroke-width="0.9"/>
<circle cx="297.1" cy="1745.1" r="4.2" fill="rgba(0,0,0,0.45)" stroke="rgba(0,0,0,0.55)" stroke-width="0.9"/>
<circle cx="300.0" cy="1739.9" r="4.2" fill="rgba(0,0,0,0.45)" stroke="rgba(0,0,0,0.55)" stroke-width="0.9"/>
<circle cx="354.8" cy="1784.9" r="4.2" fill="rgba(0,0,0,0.45)" stroke="rgba(0,0,0,0.55)" stroke-width="0.9"/>
<circle cx="298.3" cy="1731.0" r="4.2" fill="rgba(0,0,0,0.45)" stroke="rgba(0,0,0,0.55)" stroke-width="0.9"/>
<circle cx="338.0" cy="1757.0" r="4.2" fill="rgba(0,0,0,0.45)" stroke="rgba(0,0,0,0.55)" stroke-width="0.9"/>
<circle cx="317.0" cy="1786.0" r="4.2" fill="rgba(0,0,0,0.45)" stroke="rgba(0,0,0,0.55)" stroke-width="0.9"/>
<circle cx="332.0" cy="1771.3" r="4.2" fill="rgba(0,0,0,0.45)" stroke="rgba(0,0,0,0.55)" stroke-width="0.9"/>
<circle cx="344.6" cy="1769.4" r="4.2" fill="rgba(0,0,0,0.45)" stroke="rgba(0,0,0,0.55)" stroke-width="0.9"/>
<circle cx="321.6" cy="1771.2" r="4.2" fill="rgba(0,0,0,0.45)" stroke="rgba(0,0,0,0.55)" stroke-width="0.9"/>
<circle cx="327.7" cy="1742.9" r="4.2" fill="rgba(0,0,0,0.45)" stroke="rgba(0,0,0,0.55)" stroke-width="0.9"/>
<circle cx="328.8" cy="1764.4" r="4.2" fill="rgba(0,0,0,0.45)" stroke="rgba(0,0,0,0.55)" stroke-width="0.9"/>
<circle cx="309.1" cy="1754.1" r="4.2" fill="rgba(0,0,0,0.45)" stroke="rgba(0,0,0,0.55)" stroke-width="0.9"/>
<circle cx="328.8" cy="1776.9" r="4.2" fill="rgba(0,0,0,0.45)" stroke="rgba(0,0,0,0.55)" stroke-width="0.9"/>
<circle cx="307.2" cy="1755.2" r="4.2" fill="rgba(0,0,0,0.45)" stroke="rgba(0,0,0,0.55)" stroke-width="0.9"/>
<circle cx="310.1" cy="1753.2" r="4.2" fill="rgba(0,0,0,0.45)" stroke="rgba(0,0,0,0.55)" stroke-width="0.9"/>
<circle cx="328.6" cy="1747.7" r="4.2" fill="rgba(0,0,0,0.45)" stroke="rgba(0,0,0,0.55)" stroke-width="0.9"/>
<circle cx="298.1" cy="1778.9" r="4.2" fill="rgba(0,0,0,0.45)" stroke="rgba(0,0,0,0.55)" stroke-width="0.9"/>
<circle cx="326.0" cy="1731.4" r="4.2" fill="rgba(0,0,0,0.45)" stroke="rgba(0,0,0,0.55)" stroke-width="0.9"/>
<circle cx="339.2" cy="1775.2" r="4.2" fill="rgba(0,0,0,0.45)" stroke="rgba(0,0,0,0.55)" stroke-width="0.9"/>
<circle cx="318.8" cy="1769.0" r="4.2" fill="rgba(0,0,0,0.45)" stroke="rgba(0,0,0,0.55)" stroke-width="0.9"/>
<circle cx="325.9" cy="1765.0" r="4.2" fill="rgba(0,0,0,0.45)" stroke="rgba(0,0,0,0.55)" stroke-width="0.9"/>
<circle cx="320.9" cy="1761.9" r="4.2" fill="rgba(0,0,0,0.45)" stroke="rgba(0,0,0,0.55)" stroke-width="0.9"/>
<circle cx="310.1" cy="1780.4" r="4.2" fill="rgba(0,0,0,0.45)" stroke="rgba(0,0,0,0.55)" stroke-width="0.9"/>
<circle cx="317.1" cy="1781.0" r="4.2" fill="rgba(0,0,0,0.45)" stroke="rgba(0,0,0,0.55)" stroke-width="0.9"/>
<circle cx="332.3" cy="1773.0" r="4.2" fill="rgba(0,0,0,0.45)" stroke="rgba(0,0,0,0.55)" stroke-width="0.9"/>
<circle cx="297.9" cy="1775.3" r="4.2" fill="rgba(0,0,0,0.45)" stroke="rgba(0,0,0,0.55)" stroke-width="0.9"/>
<circle cx="330.1" cy="1770.5" r="4.2" fill="rgba(0,0,0,0.45)" stroke="rgba(0,0,0,0.55)" stroke-width="0.9"/>
<circle cx="341.5" cy="1783.0" r="4.2" fill="rgba(0,0,0,0.45)" stroke="rgba(0,0,0,0.55)" stroke-width="0.9"/>
<circle cx="330.8" cy="1746.2" r="4.2" fill="rgba(0,0,0,0.45)" stroke="rgba(0,0,0,0.55)" stroke-width="0.9"/>
<circle cx="338.2" cy="1759.3" r="4.2" fill="rgba(0,0,0,0.45)" stroke="rgba(0,0,0,0.55)" stroke-width="0.9"/>
<circle cx="323.3" cy="1783.6" r="4.2" fill="rgba(0,0,0,0.45)" stroke="rgba(0,0,0,0.55)" stroke-width="0.9"/>
<circle cx="324.6" cy="1775.7" r="4.2" fill="rgba(0,0,0,0.45)" stroke="rgba(0,0,0,0.55)" stroke-width="0.9"/>
<circle cx="311.0" cy="1768.5" r="4.2" fill="rgba(0,0,0,0.45)" stroke="rgba(0,0,0,0.55)" stroke-width="0.9"/>
<circle cx="312.5" cy="1741.1" r="4.2" fill="rgba(0,0,0,0.45)" stroke="rgba(0,0,0,0.55)" stroke-width="0.9"/>
<circle cx="352.2" cy="1764.3" r="4.2" fill="rgba(0,0,0,0.45)" stroke="rgba(0,0,0,0.55)" stroke-width="0.9"/>
<circle cx="311.4" cy="1771.5" r="4.2" fill="rgba(0,0,0,0.45)" stroke="rgba(0,0,0,0.55)" stroke-width="0.9"/>
<circle cx="304.3" cy="1752.6" r="4.2" fill="rgba(0,0,0,0.45)" stroke="rgba(0,0,0,0.55)" stroke-width="0.9"/>
<circle cx="297.2" cy="1741.3" r="4.2" fill="rgba(0,0,0,0.45)" stroke="rgba(0,0,0,0.55)" stroke-width="0.9"/>
<circle cx="329.4" cy="1772.5" r="4.2" fill="rgba(0,0,0,0.45)" stroke="rgba(0,0,0,0.55)" stroke-width="0.9"/>
<circle cx="303.0" cy="1732.1" r="4.2" fill="rgba(0,0,0,0.45)" stroke="rgba(0,0,0,0.55)" stroke-width="0.9"/>
<circle cx="308.2" cy="1741.4" r="4.2" fill="rgba(0,0,0,0.45)" stroke="rgba(0,0,0,0.55)" stroke-width="0.9"/>
<circle cx="300.1" cy="1783.3" r="4.2" fill="rgba(0,0,0,0.45)" stroke="rgba(0,0,0,0.55)" stroke-width="0.9"/>
<circle cx="330.0" cy="1754.1" r="4.2" fill="rgba(0,0,0,0.45)" stroke="rgba(0,0,0,0.55)" stroke-width="0.9"/>
<circle cx="296.9" cy="1769.3" r="4.2" fill="rgba(0,0,0,0.45)" stroke="rgba(0,0,0,0.55)" stroke-width="0.9"/>
<circle cx="308.0" cy="1755.4" r="4.2" fill="rgba(0,0,0,0.45)" stroke="rgba(0,0,0,0.55)" stroke-width="0.9"/>
<circle cx="329.8" cy="1730.9" r="4.2" fill="rgba(0,0,0,0.45)" stroke="rgba(0,0,0,0.55)" stroke-width="0.9"/>
<circle cx="348.9" cy="1769.5" r="4.2" fill="rgba(0,0,0,0.45)" stroke="rgba(0,0,0,0.55)" stroke-width="0.9"/>
<circle cx="329.3" cy="1785.0" r="4.2" fill="rgba(0,0,0,0.45)" stroke="rgba(0,0,0,0.55)" stroke-width="0.9"/>
<circle cx="313.0" cy="1781.0" r="4.2" fill="rgba(0,0,0,0.45)" stroke="rgba(0,0,0,0.55)" stroke-width="0.9"/>
<circle cx="355.2" cy="1779.3" r="4.2" fill="rgba(0,0,0,0.45)" stroke="rgba(0,0,0,0.55)" stroke-width="0.9"/>
<circle cx="321.7" cy="1786.0" r="4.2" fill="rgba(0,0,0,0.45)" stroke="rgba(0,0,0,0.55)" stroke-width="0.9"/>
<polygon points="157.8,1788.0 157.8,1763.5 169.6,1762.5 187.2,1761.6 195.0,1753.7 208.7,1747.9 214.6,1726.3 222.4,1722.4 230.3,1730.3 232.2,1745.9 234.2,1765.5 238.1,1775.3 245.9,1779.2 251.8,1771.4 255.7,1761.6 265.5,1755.7 275.3,1751.8 285.0,1747.9 294.8,1747.9 298.0,1744.0 301.0,1739.0 307.0,1736.0 314.0,1737.0 319.0,1742.0 321.0,1755.0 321.0,1781.0 314.0,1789.0" fill="#000"/>
<circle cx="161.2" cy="1778.5" r="4.2" fill="rgba(0,0,0,0.45)" stroke="rgba(0,0,0,0.55)" stroke-width="0.9"/>
<circle cx="158.6" cy="1777.4" r="4.2" fill="rgba(0,0,0,0.45)" stroke="rgba(0,0,0,0.55)" stroke-width="0.9"/>
<circle cx="156.1" cy="1768.9" r="4.2" fill="rgba(0,0,0,0.45)" stroke="rgba(0,0,0,0.55)" stroke-width="0.9"/>
<circle cx="154.7" cy="1761.4" r="4.2" fill="rgba(0,0,0,0.45)" stroke="rgba(0,0,0,0.55)" stroke-width="0.9"/>
<circle cx="162.8" cy="1760.2" r="4.2" fill="rgba(0,0,0,0.45)" stroke="rgba(0,0,0,0.55)" stroke-width="0.9"/>
<circle cx="167.9" cy="1765.3" r="4.2" fill="rgba(0,0,0,0.45)" stroke="rgba(0,0,0,0.55)" stroke-width="0.9"/>
<circle cx="175.8" cy="1762.3" r="4.2" fill="rgba(0,0,0,0.45)" stroke="rgba(0,0,0,0.55)" stroke-width="0.9"/>
<circle cx="184.6" cy="1762.4" r="4.2" fill="rgba(0,0,0,0.45)" stroke="rgba(0,0,0,0.55)" stroke-width="0.9"/>
<circle cx="190.7" cy="1762.6" r="4.2" fill="rgba(0,0,0,0.45)" stroke="rgba(0,0,0,0.55)" stroke-width="0.9"/>
<circle cx="193.3" cy="1754.7" r="4.2" fill="rgba(0,0,0,0.45)" stroke="rgba(0,0,0,0.55)" stroke-width="0.9"/>
<circle cx="195.7" cy="1755.5" r="4.2" fill="rgba(0,0,0,0.45)" stroke="rgba(0,0,0,0.55)" stroke-width="0.9"/>
<circle cx="198.7" cy="1753.8" r="4.2" fill="rgba(0,0,0,0.45)" stroke="rgba(0,0,0,0.55)" stroke-width="0.9"/>
<circle cx="206.3" cy="1747.7" r="4.2" fill="rgba(0,0,0,0.45)" stroke="rgba(0,0,0,0.55)" stroke-width="0.9"/>
<circle cx="207.9" cy="1742.5" r="4.2" fill="rgba(0,0,0,0.45)" stroke="rgba(0,0,0,0.55)" stroke-width="0.9"/>
<circle cx="212.4" cy="1734.0" r="4.2" fill="rgba(0,0,0,0.45)" stroke="rgba(0,0,0,0.55)" stroke-width="0.9"/>
<circle cx="216.2" cy="1731.1" r="4.2" fill="rgba(0,0,0,0.45)" stroke="rgba(0,0,0,0.55)" stroke-width="0.9"/>
<circle cx="214.8" cy="1727.0" r="4.2" fill="rgba(0,0,0,0.45)" stroke="rgba(0,0,0,0.55)" stroke-width="0.9"/>
<circle cx="221.5" cy="1720.9" r="4.2" fill="rgba(0,0,0,0.45)" stroke="rgba(0,0,0,0.55)" stroke-width="0.9"/>
<circle cx="227.4" cy="1726.8" r="4.2" fill="rgba(0,0,0,0.45)" stroke="rgba(0,0,0,0.55)" stroke-width="0.9"/>
<circle cx="228.8" cy="1731.8" r="4.2" fill="rgba(0,0,0,0.45)" stroke="rgba(0,0,0,0.55)" stroke-width="0.9"/>
<circle cx="229.5" cy="1732.1" r="4.2" fill="rgba(0,0,0,0.45)" stroke="rgba(0,0,0,0.55)" stroke-width="0.9"/>
<circle cx="229.8" cy="1737.5" r="4.2" fill="rgba(0,0,0,0.45)" stroke="rgba(0,0,0,0.55)" stroke-width="0.9"/>
<circle cx="229.8" cy="1747.7" r="4.2" fill="rgba(0,0,0,0.45)" stroke="rgba(0,0,0,0.55)" stroke-width="0.9"/>
<circle cx="232.1" cy="1755.2" r="4.2" fill="rgba(0,0,0,0.45)" stroke="rgba(0,0,0,0.55)" stroke-width="0.9"/>
<circle cx="235.3" cy="1755.8" r="4.2" fill="rgba(0,0,0,0.45)" stroke="rgba(0,0,0,0.55)" stroke-width="0.9"/>
<circle cx="237.6" cy="1768.6" r="4.2" fill="rgba(0,0,0,0.45)" stroke="rgba(0,0,0,0.55)" stroke-width="0.9"/>
<circle cx="233.2" cy="1773.2" r="4.2" fill="rgba(0,0,0,0.45)" stroke="rgba(0,0,0,0.55)" stroke-width="0.9"/>
<circle cx="237.6" cy="1775.1" r="4.2" fill="rgba(0,0,0,0.45)" stroke="rgba(0,0,0,0.55)" stroke-width="0.9"/>
<circle cx="249.2" cy="1777.4" r="4.2" fill="rgba(0,0,0,0.45)" stroke="rgba(0,0,0,0.55)" stroke-width="0.9"/>
<circle cx="252.0" cy="1774.5" r="4.2" fill="rgba(0,0,0,0.45)" stroke="rgba(0,0,0,0.55)" stroke-width="0.9"/>
<circle cx="255.3" cy="1766.3" r="4.2" fill="rgba(0,0,0,0.45)" stroke="rgba(0,0,0,0.55)" stroke-width="0.9"/>
<circle cx="259.1" cy="1763.8" r="4.2" fill="rgba(0,0,0,0.45)" stroke="rgba(0,0,0,0.55)" stroke-width="0.9"/>
<circle cx="261.3" cy="1756.0" r="4.2" fill="rgba(0,0,0,0.45)" stroke="rgba(0,0,0,0.55)" stroke-width="0.9"/>
<circle cx="266.4" cy="1755.4" r="4.2" fill="rgba(0,0,0,0.45)" stroke="rgba(0,0,0,0.55)" stroke-width="0.9"/>
<circle cx="268.3" cy="1750.6" r="4.2" fill="rgba(0,0,0,0.45)" stroke="rgba(0,0,0,0.55)" stroke-width="0.9"/>
<circle cx="275.5" cy="1749.2" r="4.2" fill="rgba(0,0,0,0.45)" stroke="rgba(0,0,0,0.55)" stroke-width="0.9"/>
<circle cx="279.8" cy="1751.0" r="4.2" fill="rgba(0,0,0,0.45)" stroke="rgba(0,0,0,0.55)" stroke-width="0.9"/>
<circle cx="284.7" cy="1746.2" r="4.2" fill="rgba(0,0,0,0.45)" stroke="rgba(0,0,0,0.55)" stroke-width="0.9"/>
<circle cx="295.4" cy="1747.3" r="4.2" fill="rgba(0,0,0,0.45)" stroke="rgba(0,0,0,0.55)" stroke-width="0.9"/>
<circle cx="299.9" cy="1744.2" r="4.2" fill="rgba(0,0,0,0.45)" stroke="rgba(0,0,0,0.55)" stroke-width="0.9"/>
<circle cx="304.5" cy="1742.2" r="4.2" fill="rgba(0,0,0,0.45)" stroke="rgba(0,0,0,0.55)" stroke-width="0.9"/>
<circle cx="308.6" cy="1734.2" r="4.2" fill="rgba(0,0,0,0.45)" stroke="rgba(0,0,0,0.55)" stroke-width="0.9"/>
<circle cx="311.3" cy="1739.7" r="4.2" fill="rgba(0,0,0,0.45)" stroke="rgba(0,0,0,0.55)" stroke-width="0.9"/>
<circle cx="321.0" cy="1742.9" r="4.2" fill="rgba(0,0,0,0.45)" stroke="rgba(0,0,0,0.55)" stroke-width="0.9"/>
<circle cx="319.0" cy="1746.9" r="4.2" fill="rgba(0,0,0,0.45)" stroke="rgba(0,0,0,0.55)" stroke-width="0.9"/>
<circle cx="322.3" cy="1755.5" r="4.2" fill="rgba(0,0,0,0.45)" stroke="rgba(0,0,0,0.55)" stroke-width="0.9"/>
<circle cx="321.6" cy="1761.1" r="4.2" fill="rgba(0,0,0,0.45)" stroke="rgba(0,0,0,0.55)" stroke-width="0.9"/>
<circle cx="322.8" cy="1763.2" r="4.2" fill="rgba(0,0,0,0.45)" stroke="rgba(0,0,0,0.55)" stroke-width="0.9"/>
<circle cx="319.2" cy="1774.0" r="4.2" fill="rgba(0,0,0,0.45)" stroke="rgba(0,0,0,0.55)" stroke-width="0.9"/>
<circle cx="323.9" cy="1778.5" r="4.2" fill="rgba(0,0,0,0.45)" stroke="rgba(0,0,0,0.55)" stroke-width="0.9"/>
<circle cx="317.8" cy="1777.9" r="4.2" fill="rgba(0,0,0,0.45)" stroke="rgba(0,0,0,0.55)" stroke-width="0.9"/>
<circle cx="315.9" cy="1784.5" r="4.2" fill="rgba(0,0,0,0.45)" stroke="rgba(0,0,0,0.55)" stroke-width="0.9"/>
<circle cx="309.3" cy="1786.0" r="4.2" fill="rgba(0,0,0,0.45)" stroke="rgba(0,0,0,0.55)" stroke-width="0.9"/>
<circle cx="225.4" cy="1785.5" r="4.2" fill="rgba(0,0,0,0.45)" stroke="rgba(0,0,0,0.55)" stroke-width="0.9"/>
<circle cx="215.2" cy="1785.4" r="4.2" fill="rgba(0,0,0,0.45)" stroke="rgba(0,0,0,0.55)" stroke-width="0.9"/>
<circle cx="191.6" cy="1785.7" r="4.2" fill="rgba(0,0,0,0.45)" stroke="rgba(0,0,0,0.55)" stroke-width="0.9"/>
<circle cx="182.1" cy="1785.5" r="4.2" fill="rgba(0,0,0,0.45)" stroke="rgba(0,0,0,0.55)" stroke-width="0.9"/>
<circle cx="281.0" cy="1577.0" r="4.2" fill="rgba(0,0,0,0.45)" stroke="rgba(0,0,0,0.55)" stroke-width="0.9"/>
<circle cx="279.4" cy="1652.5" r="4.2" fill="rgba(0,0,0,0.45)" stroke="rgba(0,0,0,0.55)" stroke-width="0.9"/>
<circle cx="213.2" cy="1669.6" r="4.2" fill="rgba(0,0,0,0.45)" stroke="rgba(0,0,0,0.55)" stroke-width="0.9"/>
<circle cx="216.5" cy="1667.4" r="4.2" fill="rgba(0,0,0,0.45)" stroke="rgba(0,0,0,0.55)" stroke-width="0.9"/>
<circle cx="394.1" cy="1733.9" r="4.2" fill="rgba(0,0,0,0.45)" stroke="rgba(0,0,0,0.55)" stroke-width="0.9"/>
<circle cx="394.1" cy="1747.9" r="4.2" fill="rgba(0,0,0,0.45)" stroke="rgba(0,0,0,0.55)" stroke-width="0.9"/>
<circle cx="194.3" cy="1676.2" r="4.2" fill="rgba(0,0,0,0.45)" stroke="rgba(0,0,0,0.55)" stroke-width="0.9"/>
<circle cx="211.9" cy="1672.5" r="4.2" fill="rgba(0,0,0,0.45)" stroke="rgba(0,0,0,0.55)" stroke-width="0.9"/>
<circle cx="279.0" cy="1686.4" r="4.2" fill="rgba(0,0,0,0.45)" stroke="rgba(0,0,0,0.55)" stroke-width="0.9"/>
<circle cx="208.8" cy="1695.0" r="4.2" fill="rgba(0,0,0,0.45)" stroke="rgba(0,0,0,0.55)" stroke-width="0.9"/>
<circle cx="216.8" cy="1703.6" r="4.2" fill="rgba(0,0,0,0.45)" stroke="rgba(0,0,0,0.55)" stroke-width="0.9"/>
<circle cx="218.8" cy="1701.6" r="4.2" fill="rgba(0,0,0,0.45)" stroke="rgba(0,0,0,0.55)" stroke-width="0.9"/>
<circle cx="191.6" cy="1712.8" r="4.2" fill="rgba(0,0,0,0.45)" stroke="rgba(0,0,0,0.55)" stroke-width="0.9"/>
<circle cx="213.5" cy="1710.8" r="4.2" fill="rgba(0,0,0,0.45)" stroke="rgba(0,0,0,0.55)" stroke-width="0.9"/>
<circle cx="265.7" cy="1704.9" r="4.2" fill="rgba(0,0,0,0.45)" stroke="rgba(0,0,0,0.55)" stroke-width="0.9"/>
<circle cx="283.6" cy="1702.2" r="4.2" fill="rgba(0,0,0,0.45)" stroke="rgba(0,0,0,0.55)" stroke-width="0.9"/>
<circle cx="292.2" cy="1692.3" r="4.2" fill="rgba(0,0,0,0.45)" stroke="rgba(0,0,0,0.55)" stroke-width="0.9"/>
<circle cx="259.8" cy="1720.8" r="4.2" fill="rgba(0,0,0,0.45)" stroke="rgba(0,0,0,0.55)" stroke-width="0.9"/>
<circle cx="260.4" cy="1727.4" r="4.2" fill="rgba(0,0,0,0.45)" stroke="rgba(0,0,0,0.55)" stroke-width="0.9"/>
<circle cx="208.8" cy="1727.4" r="4.2" fill="rgba(0,0,0,0.45)" stroke="rgba(0,0,0,0.55)" stroke-width="0.9"/>
<circle cx="187.0" cy="1729.4" r="4.2" fill="rgba(0,0,0,0.45)" stroke="rgba(0,0,0,0.55)" stroke-width="0.9"/>
<circle cx="197.6" cy="1720.8" r="4.2" fill="rgba(0,0,0,0.45)" stroke="rgba(0,0,0,0.55)" stroke-width="0.9"/>
<circle cx="177.1" cy="1742.6" r="4.2" fill="rgba(0,0,0,0.45)" stroke="rgba(0,0,0,0.55)" stroke-width="0.9"/>
<circle cx="105.6" cy="1766.4" r="4.2" fill="rgba(0,0,0,0.45)" stroke="rgba(0,0,0,0.55)" stroke-width="0.9"/>
<circle cx="120.9" cy="1770.4" r="4.2" fill="rgba(0,0,0,0.45)" stroke="rgba(0,0,0,0.55)" stroke-width="0.9"/>
<circle cx="120.6" cy="1778.0" r="4.2" fill="rgba(0,0,0,0.45)" stroke="rgba(0,0,0,0.55)" stroke-width="0.9"/>
<circle cx="134.1" cy="1765.7" r="4.2" fill="rgba(0,0,0,0.45)" stroke="rgba(0,0,0,0.55)" stroke-width="0.9"/>
<circle cx="131.4" cy="1783.0" r="4.2" fill="rgba(0,0,0,0.45)" stroke="rgba(0,0,0,0.55)" stroke-width="0.9"/>
<circle cx="146.7" cy="1759.8" r="4.2" fill="rgba(0,0,0,0.45)" stroke="rgba(0,0,0,0.55)" stroke-width="0.9"/>
<circle cx="149.3" cy="1767.1" r="4.2" fill="rgba(0,0,0,0.45)" stroke="rgba(0,0,0,0.55)" stroke-width="0.9"/>
<circle cx="144.7" cy="1777.0" r="4.2" fill="rgba(0,0,0,0.45)" stroke="rgba(0,0,0,0.55)" stroke-width="0.9"/>
<circle cx="147.3" cy="1783.6" r="4.2" fill="rgba(0,0,0,0.45)" stroke="rgba(0,0,0,0.55)" stroke-width="0.9"/>
<circle cx="152.6" cy="1784.9" r="4.2" fill="rgba(0,0,0,0.45)" stroke="rgba(0,0,0,0.55)" stroke-width="0.9"/>
<circle cx="291.2" cy="1695.1" r="4.2" fill="rgba(0,0,0,0.45)" stroke="rgba(0,0,0,0.55)" stroke-width="0.9"/>
<circle cx="284.7" cy="1721.0" r="4.2" fill="rgba(0,0,0,0.45)" stroke="rgba(0,0,0,0.55)" stroke-width="0.9"/>
<circle cx="287.0" cy="1737.4" r="4.2" fill="rgba(0,0,0,0.45)" stroke="rgba(0,0,0,0.55)" stroke-width="0.9"/>
<circle cx="280.0" cy="1731.5" r="4.2" fill="rgba(0,0,0,0.45)" stroke="rgba(0,0,0,0.55)" stroke-width="0.9"/>
<circle cx="371.6" cy="1732.7" r="4.2" fill="rgba(0,0,0,0.45)" stroke="rgba(0,0,0,0.55)" stroke-width="0.9"/>
<circle cx="371.6" cy="1744.5" r="4.2" fill="rgba(0,0,0,0.45)" stroke="rgba(0,0,0,0.55)" stroke-width="0.9"/>
<circle cx="364.5" cy="1748.0" r="4.2" fill="rgba(0,0,0,0.45)" stroke="rgba(0,0,0,0.55)" stroke-width="0.9"/>
<circle cx="355.1" cy="1755.0" r="4.2" fill="rgba(0,0,0,0.45)" stroke="rgba(0,0,0,0.55)" stroke-width="0.9"/>
<circle cx="355.1" cy="1762.7" r="4.2" fill="rgba(0,0,0,0.45)" stroke="rgba(0,0,0,0.55)" stroke-width="0.9"/>
<circle cx="368.6" cy="1772.0" r="4.2" fill="rgba(0,0,0,0.45)" stroke="rgba(0,0,0,0.55)" stroke-width="0.9"/>
<circle cx="352.2" cy="1777.3" r="4.2" fill="rgba(0,0,0,0.45)" stroke="rgba(0,0,0,0.55)" stroke-width="0.9"/>
<circle cx="341.1" cy="1775.0" r="4.2" fill="rgba(0,0,0,0.45)" stroke="rgba(0,0,0,0.55)" stroke-width="0.9"/>
<circle cx="334.0" cy="1777.9" r="4.2" fill="rgba(0,0,0,0.45)" stroke="rgba(0,0,0,0.55)" stroke-width="0.9"/>
<circle cx="216.3" cy="1711.5" r="4.2" fill="rgba(0,0,0,0.45)" stroke="rgba(0,0,0,0.55)" stroke-width="0.9"/>
<circle cx="213.4" cy="1718.4" r="4.2" fill="rgba(0,0,0,0.45)" stroke="rgba(0,0,0,0.55)" stroke-width="0.9"/>
<circle cx="197.7" cy="1732.1" r="4.2" fill="rgba(0,0,0,0.45)" stroke="rgba(0,0,0,0.55)" stroke-width="0.9"/>
<circle cx="186.0" cy="1740.9" r="4.2" fill="rgba(0,0,0,0.45)" stroke="rgba(0,0,0,0.55)" stroke-width="0.9"/>
<circle cx="187.0" cy="1745.8" r="4.2" fill="rgba(0,0,0,0.45)" stroke="rgba(0,0,0,0.55)" stroke-width="0.9"/>
<circle cx="194.8" cy="1747.7" r="4.2" fill="rgba(0,0,0,0.45)" stroke="rgba(0,0,0,0.55)" stroke-width="0.9"/>
<circle cx="184.0" cy="1752.6" r="4.2" fill="rgba(0,0,0,0.45)" stroke="rgba(0,0,0,0.55)" stroke-width="0.9"/>
<circle cx="207.5" cy="1737.0" r="4.2" fill="rgba(0,0,0,0.45)" stroke="rgba(0,0,0,0.55)" stroke-width="0.9"/>
<circle cx="159.6" cy="1762.4" r="4.2" fill="rgba(0,0,0,0.45)" stroke="rgba(0,0,0,0.55)" stroke-width="0.9"/>
<circle cx="168.4" cy="1765.3" r="4.2" fill="rgba(0,0,0,0.45)" stroke="rgba(0,0,0,0.55)" stroke-width="0.9"/>
<circle cx="179.1" cy="1765.3" r="4.2" fill="rgba(0,0,0,0.45)" stroke="rgba(0,0,0,0.55)" stroke-width="0.9"/>
<circle cx="187.0" cy="1768.3" r="4.2" fill="rgba(0,0,0,0.45)" stroke="rgba(0,0,0,0.55)" stroke-width="0.9"/>
<circle cx="147.8" cy="1779.0" r="4.2" fill="rgba(0,0,0,0.45)" stroke="rgba(0,0,0,0.55)" stroke-width="0.9"/>
<circle cx="286.8" cy="1725.2" r="4.2" fill="rgba(0,0,0,0.45)" stroke="rgba(0,0,0,0.55)" stroke-width="0.9"/>
<circle cx="276.0" cy="1729.1" r="4.2" fill="rgba(0,0,0,0.45)" stroke="rgba(0,0,0,0.55)" stroke-width="0.9"/>
<circle cx="278.9" cy="1736.0" r="4.2" fill="rgba(0,0,0,0.45)" stroke="rgba(0,0,0,0.55)" stroke-width="0.9"/>
<circle cx="272.1" cy="1744.8" r="4.2" fill="rgba(0,0,0,0.45)" stroke="rgba(0,0,0,0.55)" stroke-width="0.9"/>
<circle cx="277.0" cy="1746.8" r="4.2" fill="rgba(0,0,0,0.45)" stroke="rgba(0,0,0,0.55)" stroke-width="0.9"/>
<circle cx="259.4" cy="1753.6" r="4.2" fill="rgba(0,0,0,0.45)" stroke="rgba(0,0,0,0.55)" stroke-width="0.9"/>
<circle cx="257.4" cy="1760.5" r="4.2" fill="rgba(0,0,0,0.45)" stroke="rgba(0,0,0,0.55)" stroke-width="0.9"/>
<circle cx="268.2" cy="1753.6" r="4.2" fill="rgba(0,0,0,0.45)" stroke="rgba(0,0,0,0.55)" stroke-width="0.9"/>
<circle cx="250.6" cy="1772.2" r="4.2" fill="rgba(0,0,0,0.45)" stroke="rgba(0,0,0,0.55)" stroke-width="0.9"/>
<circle cx="241.8" cy="1776.1" r="4.2" fill="rgba(0,0,0,0.45)" stroke="rgba(0,0,0,0.55)" stroke-width="0.9"/>
<circle cx="296.6" cy="1734.0" r="4.2" fill="rgba(0,0,0,0.45)" stroke="rgba(0,0,0,0.55)" stroke-width="0.9"/>
<circle cx="302.4" cy="1736.0" r="4.2" fill="rgba(0,0,0,0.45)" stroke="rgba(0,0,0,0.55)" stroke-width="0.9"/>
<circle cx="316.1" cy="1737.0" r="4.2" fill="rgba(0,0,0,0.45)" stroke="rgba(0,0,0,0.55)" stroke-width="0.9"/>
<circle cx="322.0" cy="1737.9" r="4.2" fill="rgba(0,0,0,0.45)" stroke="rgba(0,0,0,0.55)" stroke-width="0.9"/>
<circle cx="331.8" cy="1733.1" r="4.2" fill="rgba(0,0,0,0.45)" stroke="rgba(0,0,0,0.55)" stroke-width="0.9"/>
<circle cx="324.0" cy="1750.7" r="4.2" fill="rgba(0,0,0,0.45)" stroke="rgba(0,0,0,0.55)" stroke-width="0.9"/>
<circle cx="329.8" cy="1744.8" r="4.2" fill="rgba(0,0,0,0.45)" stroke="rgba(0,0,0,0.55)" stroke-width="0.9"/>
<circle cx="327.9" cy="1763.4" r="4.2" fill="rgba(0,0,0,0.45)" stroke="rgba(0,0,0,0.55)" stroke-width="0.9"/>
<circle cx="330.8" cy="1768.3" r="4.2" fill="rgba(0,0,0,0.45)" stroke="rgba(0,0,0,0.55)" stroke-width="0.9"/>
<circle cx="334.7" cy="1735.6" r="4.2" fill="rgba(0,0,0,0.45)" stroke="rgba(0,0,0,0.55)" stroke-width="0.9"/>
<circle cx="345.8" cy="1742.5" r="4.2" fill="rgba(0,0,0,0.45)" stroke="rgba(0,0,0,0.55)" stroke-width="0.9"/>
<circle cx="333.5" cy="1735.1" r="4.2" fill="rgba(0,0,0,0.45)" stroke="rgba(0,0,0,0.55)" stroke-width="0.9"/>
<circle cx="335.6" cy="1735.1" r="4.2" fill="rgba(0,0,0,0.45)" stroke="rgba(0,0,0,0.55)" stroke-width="0.9"/>
<circle cx="336.1" cy="1735.4" r="4.2" fill="rgba(0,0,0,0.45)" stroke="rgba(0,0,0,0.55)" stroke-width="0.9"/>
<circle cx="332.5" cy="1737.9" r="4.2" fill="rgba(0,0,0,0.45)" stroke="rgba(0,0,0,0.55)" stroke-width="0.9"/>
<circle cx="343.3" cy="1737.6" r="4.2" fill="rgba(0,0,0,0.45)" stroke="rgba(0,0,0,0.55)" stroke-width="0.9"/>
<circle cx="344.1" cy="1737.9" r="4.2" fill="rgba(0,0,0,0.45)" stroke="rgba(0,0,0,0.55)" stroke-width="0.9"/>
<circle cx="332.2" cy="1740.6" r="4.2" fill="rgba(0,0,0,0.45)" stroke="rgba(0,0,0,0.55)" stroke-width="0.9"/>
<circle cx="344.9" cy="1733.9" r="4.2" fill="rgba(0,0,0,0.45)" stroke="rgba(0,0,0,0.55)" stroke-width="0.9"/>
<circle cx="329.4" cy="1737.2" r="4.2" fill="rgba(0,0,0,0.45)" stroke="rgba(0,0,0,0.55)" stroke-width="0.9"/>
<circle cx="338.8" cy="1737.9" r="4.2" fill="rgba(0,0,0,0.45)" stroke="rgba(0,0,0,0.55)" stroke-width="0.9"/>
<circle cx="346.4" cy="1739.1" r="4.2" fill="rgba(0,0,0,0.45)" stroke="rgba(0,0,0,0.55)" stroke-width="0.9"/>
<circle cx="343.5" cy="1730.9" r="4.2" fill="rgba(0,0,0,0.45)" stroke="rgba(0,0,0,0.55)" stroke-width="0.9"/>
<circle cx="338.8" cy="1741.0" r="4.2" fill="rgba(0,0,0,0.45)" stroke="rgba(0,0,0,0.55)" stroke-width="0.9"/>
<circle cx="330.5" cy="1731.1" r="4.2" fill="rgba(0,0,0,0.45)" stroke="rgba(0,0,0,0.55)" stroke-width="0.9"/>
<circle cx="719.9" cy="1120.2" r="4.2" fill="rgba(250,40,40,0.45)" stroke="rgba(215,40,40,0.55)" stroke-width="0.9"/>
<circle cx="809.8" cy="1283.4" r="4.2" fill="rgba(250,40,40,0.45)" stroke="rgba(215,40,40,0.55)" stroke-width="0.9"/>
<circle cx="491.8" cy="1295.3" r="4.2" fill="rgba(250,40,40,0.45)" stroke="rgba(215,40,40,0.55)" stroke-width="0.9"/>
<circle cx="378.6" cy="1409.5" r="4.2" fill="rgba(250,40,40,0.45)" stroke="rgba(215,40,40,0.55)" stroke-width="0.9"/>
<circle cx="402.5" cy="1484.5" r="4.2" fill="rgba(250,40,40,0.45)" stroke="rgba(215,40,40,0.55)" stroke-width="0.9"/>
<circle cx="392.0" cy="1492.2" r="4.2" fill="rgba(250,40,40,0.45)" stroke="rgba(215,40,40,0.55)" stroke-width="0.9"/>
<circle cx="435.0" cy="1432.4" r="4.2" fill="rgba(250,40,40,0.45)" stroke="rgba(215,40,40,0.55)" stroke-width="0.9"/>
<circle cx="342.7" cy="1446.1" r="4.2" fill="rgba(250,40,40,0.45)" stroke="rgba(215,40,40,0.55)" stroke-width="0.9"/>
<circle cx="348.8" cy="1479.8" r="4.2" fill="rgba(250,40,40,0.45)" stroke="rgba(215,40,40,0.55)" stroke-width="0.9"/>
<circle cx="365.6" cy="1490.3" r="4.2" fill="rgba(250,40,40,0.45)" stroke="rgba(215,40,40,0.55)" stroke-width="0.9"/>
<circle cx="340.8" cy="1503.8" r="4.2" fill="rgba(250,40,40,0.45)" stroke="rgba(215,40,40,0.55)" stroke-width="0.9"/>
<circle cx="434.5" cy="1506.8" r="4.2" fill="rgba(250,40,40,0.45)" stroke="rgba(215,40,40,0.55)" stroke-width="0.9"/>
<circle cx="374.4" cy="1518.9" r="4.2" fill="rgba(250,40,40,0.45)" stroke="rgba(215,40,40,0.55)" stroke-width="0.9"/>
<circle cx="426.0" cy="1525.8" r="4.2" fill="rgba(250,40,40,0.45)" stroke="rgba(215,40,40,0.55)" stroke-width="0.9"/>
<circle cx="428.7" cy="1528.0" r="4.2" fill="rgba(250,40,40,0.45)" stroke="rgba(215,40,40,0.55)" stroke-width="0.9"/>
<circle cx="357.0" cy="1537.7" r="4.2" fill="rgba(250,40,40,0.45)" stroke="rgba(215,40,40,0.55)" stroke-width="0.9"/>
<circle cx="356.5" cy="1540.4" r="4.2" fill="rgba(250,40,40,0.45)" stroke="rgba(215,40,40,0.55)" stroke-width="0.9"/>
<circle cx="316.2" cy="1548.7" r="4.2" fill="rgba(250,40,40,0.45)" stroke="rgba(215,40,40,0.55)" stroke-width="0.9"/>
<circle cx="333.6" cy="1546.0" r="4.2" fill="rgba(250,40,40,0.45)" stroke="rgba(215,40,40,0.55)" stroke-width="0.9"/>
<circle cx="374.1" cy="1554.2" r="4.2" fill="rgba(250,40,40,0.45)" stroke="rgba(215,40,40,0.55)" stroke-width="0.9"/>
<circle cx="417.4" cy="1558.9" r="4.2" fill="rgba(250,40,40,0.45)" stroke="rgba(215,40,40,0.55)" stroke-width="0.9"/>
<circle cx="431.0" cy="1552.3" r="4.2" fill="rgba(250,40,40,0.45)" stroke="rgba(215,40,40,0.55)" stroke-width="0.9"/>
<circle cx="357.0" cy="1564.4" r="4.2" fill="rgba(250,40,40,0.45)" stroke="rgba(215,40,40,0.55)" stroke-width="0.9"/>
<circle cx="302.5" cy="1573.5" r="4.2" fill="rgba(250,40,40,0.45)" stroke="rgba(215,40,40,0.55)" stroke-width="0.9"/>
<circle cx="327.5" cy="1575.0" r="4.2" fill="rgba(250,40,40,0.45)" stroke="rgba(215,40,40,0.55)" stroke-width="0.9"/>
<circle cx="446.9" cy="1446.2" r="4.2" fill="rgba(250,40,40,0.45)" stroke="rgba(215,40,40,0.55)" stroke-width="0.9"/>
<circle cx="501.0" cy="1442.7" r="4.2" fill="rgba(250,40,40,0.45)" stroke="rgba(215,40,40,0.55)" stroke-width="0.9"/>
<circle cx="490.4" cy="1454.9" r="4.2" fill="rgba(250,40,40,0.45)" stroke="rgba(215,40,40,0.55)" stroke-width="0.9"/>
<circle cx="492.7" cy="1454.4" r="4.2" fill="rgba(250,40,40,0.45)" stroke="rgba(215,40,40,0.55)" stroke-width="0.9"/>
<circle cx="480.5" cy="1465.5" r="4.2" fill="rgba(250,40,40,0.45)" stroke="rgba(215,40,40,0.55)" stroke-width="0.9"/>
<circle cx="525.6" cy="1489.0" r="4.2" fill="rgba(250,40,40,0.45)" stroke="rgba(215,40,40,0.55)" stroke-width="0.9"/>
<circle cx="448.1" cy="1498.4" r="4.2" fill="rgba(250,40,40,0.45)" stroke="rgba(215,40,40,0.55)" stroke-width="0.9"/>
<circle cx="447.4" cy="1508.9" r="4.2" fill="rgba(250,40,40,0.45)" stroke="rgba(215,40,40,0.55)" stroke-width="0.9"/>
<circle cx="480.3" cy="1500.7" r="4.2" fill="rgba(250,40,40,0.45)" stroke="rgba(215,40,40,0.55)" stroke-width="0.9"/>
<circle cx="453.3" cy="1536.0" r="4.2" fill="rgba(250,40,40,0.45)" stroke="rgba(215,40,40,0.55)" stroke-width="0.9"/>
<circle cx="475.8" cy="1532.9" r="4.2" fill="rgba(250,40,40,0.45)" stroke="rgba(215,40,40,0.55)" stroke-width="0.9"/>
<circle cx="480.5" cy="1557.1" r="4.2" fill="rgba(250,40,40,0.45)" stroke="rgba(215,40,40,0.55)" stroke-width="0.9"/>
<circle cx="485.7" cy="1569.9" r="4.2" fill="rgba(250,40,40,0.45)" stroke="rgba(215,40,40,0.55)" stroke-width="0.9"/>
<circle cx="655.2" cy="1562.9" r="4.2" fill="rgba(250,40,40,0.45)" stroke="rgba(215,40,40,0.55)" stroke-width="0.9"/>
<circle cx="655.5" cy="1584.0" r="4.2" fill="rgba(250,40,40,0.45)" stroke="rgba(215,40,40,0.55)" stroke-width="0.9"/>
<circle cx="411.0" cy="1579.3" r="4.2" fill="rgba(250,40,40,0.45)" stroke="rgba(215,40,40,0.55)" stroke-width="0.9"/>
<circle cx="423.0" cy="1579.3" r="4.2" fill="rgba(250,40,40,0.45)" stroke="rgba(215,40,40,0.55)" stroke-width="0.9"/>
<circle cx="412.4" cy="1606.8" r="4.2" fill="rgba(250,40,40,0.45)" stroke="rgba(215,40,40,0.55)" stroke-width="0.9"/>
<circle cx="381.9" cy="1619.2" r="4.2" fill="rgba(250,40,40,0.45)" stroke="rgba(215,40,40,0.55)" stroke-width="0.9"/>
<circle cx="415.7" cy="1628.2" r="4.2" fill="rgba(250,40,40,0.45)" stroke="rgba(215,40,40,0.55)" stroke-width="0.9"/>
<circle cx="412.9" cy="1635.2" r="4.2" fill="rgba(250,40,40,0.45)" stroke="rgba(215,40,40,0.55)" stroke-width="0.9"/>
<circle cx="390.1" cy="1639.7" r="4.2" fill="rgba(250,40,40,0.45)" stroke="rgba(215,40,40,0.55)" stroke-width="0.9"/>
<circle cx="437.1" cy="1647.0" r="4.2" fill="rgba(250,40,40,0.45)" stroke="rgba(215,40,40,0.55)" stroke-width="0.9"/>
<circle cx="417.6" cy="1651.0" r="4.2" fill="rgba(250,40,40,0.45)" stroke="rgba(215,40,40,0.55)" stroke-width="0.9"/>
<circle cx="431.2" cy="1655.6" r="4.2" fill="rgba(250,40,40,0.45)" stroke="rgba(215,40,40,0.55)" stroke-width="0.9"/>
<circle cx="438.0" cy="1659.6" r="4.2" fill="rgba(250,40,40,0.45)" stroke="rgba(215,40,40,0.55)" stroke-width="0.9"/>
<circle cx="477.5" cy="1648.1" r="4.2" fill="rgba(250,40,40,0.45)" stroke="rgba(215,40,40,0.55)" stroke-width="0.9"/>
<circle cx="497.9" cy="1645.5" r="4.2" fill="rgba(250,40,40,0.45)" stroke="rgba(215,40,40,0.55)" stroke-width="0.9"/>
<circle cx="472.1" cy="1658.0" r="4.2" fill="rgba(250,40,40,0.45)" stroke="rgba(215,40,40,0.55)" stroke-width="0.9"/>
<circle cx="461.7" cy="1663.4" r="4.2" fill="rgba(250,40,40,0.45)" stroke="rgba(215,40,40,0.55)" stroke-width="0.9"/>
<circle cx="463.8" cy="1672.1" r="4.2" fill="rgba(250,40,40,0.45)" stroke="rgba(215,40,40,0.55)" stroke-width="0.9"/>
<circle cx="419.2" cy="1671.6" r="4.2" fill="rgba(250,40,40,0.45)" stroke="rgba(215,40,40,0.55)" stroke-width="0.9"/>
<circle cx="398.3" cy="1691.6" r="4.2" fill="rgba(250,40,40,0.45)" stroke="rgba(215,40,40,0.55)" stroke-width="0.9"/>
<circle cx="401.8" cy="1697.5" r="4.2" fill="rgba(250,40,40,0.45)" stroke="rgba(215,40,40,0.55)" stroke-width="0.9"/>
<circle cx="411.7" cy="1705.0" r="4.2" fill="rgba(250,40,40,0.45)" stroke="rgba(215,40,40,0.55)" stroke-width="0.9"/>
<circle cx="525.1" cy="1697.2" r="4.2" fill="rgba(250,40,40,0.45)" stroke="rgba(215,40,40,0.55)" stroke-width="0.9"/>
<circle cx="452.3" cy="1709.7" r="4.2" fill="rgba(250,40,40,0.45)" stroke="rgba(215,40,40,0.55)" stroke-width="0.9"/>
<circle cx="390.6" cy="1718.6" r="4.2" fill="rgba(250,40,40,0.45)" stroke="rgba(215,40,40,0.55)" stroke-width="0.9"/>
<circle cx="380.7" cy="1728.0" r="4.2" fill="rgba(250,40,40,0.45)" stroke="rgba(215,40,40,0.55)" stroke-width="0.9"/>
<circle cx="365.4" cy="1578.7" r="4.2" fill="rgba(250,40,40,0.45)" stroke="rgba(215,40,40,0.55)" stroke-width="0.9"/>
<circle cx="333.4" cy="1609.5" r="4.2" fill="rgba(250,40,40,0.45)" stroke="rgba(215,40,40,0.55)" stroke-width="0.9"/>
<circle cx="335.0" cy="1610.5" r="4.2" fill="rgba(250,40,40,0.45)" stroke="rgba(215,40,40,0.55)" stroke-width="0.9"/>
<circle cx="350.5" cy="1606.8" r="4.2" fill="rgba(250,40,40,0.45)" stroke="rgba(215,40,40,0.55)" stroke-width="0.9"/>
<circle cx="358.8" cy="1602.9" r="4.2" fill="rgba(250,40,40,0.45)" stroke="rgba(215,40,40,0.55)" stroke-width="0.9"/>
<circle cx="360.5" cy="1603.4" r="4.2" fill="rgba(250,40,40,0.45)" stroke="rgba(215,40,40,0.55)" stroke-width="0.9"/>
<circle cx="364.3" cy="1603.5" r="4.2" fill="rgba(250,40,40,0.45)" stroke="rgba(215,40,40,0.55)" stroke-width="0.9"/>
<circle cx="380.3" cy="1619.5" r="4.2" fill="rgba(250,40,40,0.45)" stroke="rgba(215,40,40,0.55)" stroke-width="0.9"/>
<circle cx="316.9" cy="1634.9" r="4.2" fill="rgba(250,40,40,0.45)" stroke="rgba(215,40,40,0.55)" stroke-width="0.9"/>
<circle cx="329.5" cy="1642.6" r="4.2" fill="rgba(250,40,40,0.45)" stroke="rgba(215,40,40,0.55)" stroke-width="0.9"/>
<circle cx="333.4" cy="1644.8" r="4.2" fill="rgba(250,40,40,0.45)" stroke="rgba(215,40,40,0.55)" stroke-width="0.9"/>
<circle cx="337.3" cy="1647.6" r="4.2" fill="rgba(250,40,40,0.45)" stroke="rgba(215,40,40,0.55)" stroke-width="0.9"/>
<circle cx="297.0" cy="1650.9" r="4.2" fill="rgba(250,40,40,0.45)" stroke="rgba(215,40,40,0.55)" stroke-width="0.9"/>
<circle cx="350.0" cy="1655.3" r="4.2" fill="rgba(250,40,40,0.45)" stroke="rgba(215,40,40,0.55)" stroke-width="0.9"/>
<circle cx="351.5" cy="1654.0" r="4.2" fill="rgba(250,40,40,0.45)" stroke="rgba(215,40,40,0.55)" stroke-width="0.9"/>
<circle cx="349.0" cy="1656.5" r="4.2" fill="rgba(250,40,40,0.45)" stroke="rgba(215,40,40,0.55)" stroke-width="0.9"/>
<circle cx="347.7" cy="1661.9" r="4.2" fill="rgba(250,40,40,0.45)" stroke="rgba(215,40,40,0.55)" stroke-width="0.9"/>
<circle cx="349.3" cy="1661.7" r="4.2" fill="rgba(250,40,40,0.45)" stroke="rgba(215,40,40,0.55)" stroke-width="0.9"/>
<circle cx="344.4" cy="1660.8" r="4.2" fill="rgba(250,40,40,0.45)" stroke="rgba(215,40,40,0.55)" stroke-width="0.9"/>
<circle cx="308.6" cy="1669.1" r="4.2" fill="rgba(250,40,40,0.45)" stroke="rgba(215,40,40,0.55)" stroke-width="0.9"/>
<circle cx="338.4" cy="1675.1" r="4.2" fill="rgba(250,40,40,0.45)" stroke="rgba(215,40,40,0.55)" stroke-width="0.9"/>
<circle cx="372.5" cy="1672.4" r="4.2" fill="rgba(250,40,40,0.45)" stroke="rgba(215,40,40,0.55)" stroke-width="0.9"/>
<circle cx="300.3" cy="1676.2" r="4.2" fill="rgba(250,40,40,0.45)" stroke="rgba(215,40,40,0.55)" stroke-width="0.9"/>
<circle cx="328.4" cy="1678.5" r="4.2" fill="rgba(250,40,40,0.45)" stroke="rgba(215,40,40,0.55)" stroke-width="0.9"/>
<circle cx="365.4" cy="1678.5" r="4.2" fill="rgba(250,40,40,0.45)" stroke="rgba(215,40,40,0.55)" stroke-width="0.9"/>
<circle cx="366.3" cy="1679.9" r="4.2" fill="rgba(250,40,40,0.45)" stroke="rgba(215,40,40,0.55)" stroke-width="0.9"/>
<circle cx="328.1" cy="1680.5" r="4.2" fill="rgba(250,40,40,0.45)" stroke="rgba(215,40,40,0.55)" stroke-width="0.9"/>
<circle cx="325.2" cy="1684.0" r="4.2" fill="rgba(250,40,40,0.45)" stroke="rgba(215,40,40,0.55)" stroke-width="0.9"/>
<circle cx="327.0" cy="1689.3" r="4.2" fill="rgba(250,40,40,0.45)" stroke="rgba(215,40,40,0.55)" stroke-width="0.9"/>
<circle cx="328.1" cy="1692.8" r="4.2" fill="rgba(250,40,40,0.45)" stroke="rgba(215,40,40,0.55)" stroke-width="0.9"/>
<circle cx="317.0" cy="1691.6" r="4.2" fill="rgba(250,40,40,0.45)" stroke="rgba(215,40,40,0.55)" stroke-width="0.9"/>
<circle cx="339.3" cy="1691.0" r="4.2" fill="rgba(250,40,40,0.45)" stroke="rgba(215,40,40,0.55)" stroke-width="0.9"/>
<circle cx="361.0" cy="1698.4" r="4.2" fill="rgba(250,40,40,0.45)" stroke="rgba(215,40,40,0.55)" stroke-width="0.9"/>
<circle cx="370.4" cy="1706.3" r="4.2" fill="rgba(250,40,40,0.45)" stroke="rgba(215,40,40,0.55)" stroke-width="0.9"/>
<circle cx="307.6" cy="1696.3" r="4.2" fill="rgba(250,40,40,0.45)" stroke="rgba(215,40,40,0.55)" stroke-width="0.9"/>
<circle cx="300.0" cy="1705.7" r="4.2" fill="rgba(250,40,40,0.45)" stroke="rgba(215,40,40,0.55)" stroke-width="0.9"/>
<circle cx="307.0" cy="1705.7" r="4.2" fill="rgba(250,40,40,0.45)" stroke="rgba(215,40,40,0.55)" stroke-width="0.9"/>
<circle cx="312.9" cy="1703.4" r="4.2" fill="rgba(250,40,40,0.45)" stroke="rgba(215,40,40,0.55)" stroke-width="0.9"/>
<circle cx="317.6" cy="1704.5" r="4.2" fill="rgba(250,40,40,0.45)" stroke="rgba(215,40,40,0.55)" stroke-width="0.9"/>
<circle cx="310.5" cy="1711.6" r="4.2" fill="rgba(250,40,40,0.45)" stroke="rgba(215,40,40,0.55)" stroke-width="0.9"/>
<circle cx="315.2" cy="1713.9" r="4.2" fill="rgba(250,40,40,0.45)" stroke="rgba(215,40,40,0.55)" stroke-width="0.9"/>
<circle cx="317.6" cy="1718.6" r="4.2" fill="rgba(250,40,40,0.45)" stroke="rgba(215,40,40,0.55)" stroke-width="0.9"/>
<circle cx="309.4" cy="1709.2" r="4.2" fill="rgba(250,40,40,0.45)" stroke="rgba(215,40,40,0.55)" stroke-width="0.9"/>
<circle cx="333.4" cy="1704.5" r="4.2" fill="rgba(250,40,40,0.45)" stroke="rgba(215,40,40,0.55)" stroke-width="0.9"/>
<circle cx="344.0" cy="1704.5" r="4.2" fill="rgba(250,40,40,0.45)" stroke="rgba(215,40,40,0.55)" stroke-width="0.9"/>
<circle cx="331.7" cy="1710.4" r="4.2" fill="rgba(250,40,40,0.45)" stroke="rgba(215,40,40,0.55)" stroke-width="0.9"/>
<circle cx="329.3" cy="1713.9" r="4.2" fill="rgba(250,40,40,0.45)" stroke="rgba(215,40,40,0.55)" stroke-width="0.9"/>
<circle cx="327.0" cy="1718.6" r="4.2" fill="rgba(250,40,40,0.45)" stroke="rgba(215,40,40,0.55)" stroke-width="0.9"/>
<circle cx="335.2" cy="1715.1" r="4.2" fill="rgba(250,40,40,0.45)" stroke="rgba(215,40,40,0.55)" stroke-width="0.9"/>
<circle cx="356.3" cy="1717.5" r="4.2" fill="rgba(250,40,40,0.45)" stroke="rgba(215,40,40,0.55)" stroke-width="0.9"/>
<circle cx="300.0" cy="1718.6" r="4.2" fill="rgba(250,40,40,0.45)" stroke="rgba(215,40,40,0.55)" stroke-width="0.9"/>
<circle cx="300.5" cy="1724.5" r="4.2" fill="rgba(250,40,40,0.45)" stroke="rgba(215,40,40,0.55)" stroke-width="0.9"/>
<circle cx="297.6" cy="1725.7" r="4.2" fill="rgba(250,40,40,0.45)" stroke="rgba(215,40,40,0.55)" stroke-width="0.9"/>
<circle cx="311.7" cy="1728.0" r="4.2" fill="rgba(250,40,40,0.45)" stroke="rgba(215,40,40,0.55)" stroke-width="0.9"/>
<circle cx="319.9" cy="1729.8" r="4.2" fill="rgba(250,40,40,0.45)" stroke="rgba(215,40,40,0.55)" stroke-width="0.9"/>
<circle cx="341.1" cy="1725.1" r="4.2" fill="rgba(250,40,40,0.45)" stroke="rgba(215,40,40,0.55)" stroke-width="0.9"/>
<circle cx="349.3" cy="1725.7" r="4.2" fill="rgba(250,40,40,0.45)" stroke="rgba(215,40,40,0.55)" stroke-width="0.9"/>
<circle cx="350.4" cy="1729.8" r="4.2" fill="rgba(250,40,40,0.45)" stroke="rgba(215,40,40,0.55)" stroke-width="0.9"/>
<circle cx="363.4" cy="1726.3" r="4.2" fill="rgba(250,40,40,0.45)" stroke="rgba(215,40,40,0.55)" stroke-width="0.9"/>
<circle cx="362.2" cy="1731.0" r="4.2" fill="rgba(250,40,40,0.45)" stroke="rgba(215,40,40,0.55)" stroke-width="0.9"/>
<circle cx="378.6" cy="1727.4" r="4.2" fill="rgba(250,40,40,0.45)" stroke="rgba(215,40,40,0.55)" stroke-width="0.9"/>
<circle cx="146.0" cy="1650.6" r="4.2" fill="rgba(250,40,40,0.45)" stroke="rgba(215,40,40,0.55)" stroke-width="0.9"/>
<circle cx="162.5" cy="1694.3" r="4.2" fill="rgba(250,40,40,0.45)" stroke="rgba(215,40,40,0.55)" stroke-width="0.9"/>
<circle cx="160.6" cy="1685.0" r="4.2" fill="rgba(250,40,40,0.45)" stroke="rgba(215,40,40,0.55)" stroke-width="0.9"/>
<circle cx="178.2" cy="1680.1" r="4.2" fill="rgba(250,40,40,0.45)" stroke="rgba(215,40,40,0.55)" stroke-width="0.9"/>
<circle cx="116.6" cy="1722.7" r="4.2" fill="rgba(250,40,40,0.45)" stroke="rgba(215,40,40,0.55)" stroke-width="0.9"/>
<circle cx="163.6" cy="1731.7" r="4.2" fill="rgba(250,40,40,0.45)" stroke="rgba(215,40,40,0.55)" stroke-width="0.9"/>
<circle cx="168.8" cy="1726.7" r="4.2" fill="rgba(250,40,40,0.45)" stroke="rgba(215,40,40,0.55)" stroke-width="0.9"/>
<circle cx="173.5" cy="1720.8" r="4.2" fill="rgba(250,40,40,0.45)" stroke="rgba(215,40,40,0.55)" stroke-width="0.9"/>
<circle cx="181.7" cy="1721.7" r="4.2" fill="rgba(250,40,40,0.45)" stroke="rgba(215,40,40,0.55)" stroke-width="0.9"/>
<circle cx="316.6" cy="1713.7" r="4.2" fill="rgba(250,40,40,0.45)" stroke="rgba(215,40,40,0.55)" stroke-width="0.9"/>
<circle cx="309.8" cy="1715.4" r="4.2" fill="rgba(250,40,40,0.45)" stroke="rgba(215,40,40,0.55)" stroke-width="0.9"/>
<circle cx="310.8" cy="1712.6" r="4.2" fill="rgba(250,40,40,0.45)" stroke="rgba(215,40,40,0.55)" stroke-width="0.9"/>
<circle cx="315.0" cy="1718.4" r="4.2" fill="rgba(250,40,40,0.45)" stroke="rgba(215,40,40,0.55)" stroke-width="0.9"/>
<circle cx="305.7" cy="1711.5" r="4.2" fill="rgba(250,40,40,0.45)" stroke="rgba(215,40,40,0.55)" stroke-width="0.9"/>
<circle cx="312.8" cy="1715.0" r="4.2" fill="rgba(250,40,40,0.45)" stroke="rgba(215,40,40,0.55)" stroke-width="0.9"/>
<circle cx="315.1" cy="1718.4" r="4.2" fill="rgba(250,40,40,0.45)" stroke="rgba(215,40,40,0.55)" stroke-width="0.9"/>
<circle cx="309.0" cy="1710.0" r="4.2" fill="rgba(250,40,40,0.45)" stroke="rgba(215,40,40,0.55)" stroke-width="0.9"/>
<circle cx="318.6" cy="1720.8" r="4.2" fill="rgba(250,40,40,0.45)" stroke="rgba(215,40,40,0.55)" stroke-width="0.9"/>
<circle cx="320.3" cy="1720.4" r="4.2" fill="rgba(250,40,40,0.45)" stroke="rgba(215,40,40,0.55)" stroke-width="0.9"/>
<circle cx="310.8" cy="1713.3" r="4.2" fill="rgba(250,40,40,0.45)" stroke="rgba(215,40,40,0.55)" stroke-width="0.9"/>
<circle cx="306.8" cy="1707.2" r="4.2" fill="rgba(250,40,40,0.45)" stroke="rgba(215,40,40,0.55)" stroke-width="0.9"/>
<circle cx="333.9" cy="1721.9" r="4.2" fill="rgba(250,40,40,0.45)" stroke="rgba(215,40,40,0.55)" stroke-width="0.9"/>
<circle cx="329.5" cy="1711.2" r="4.2" fill="rgba(250,40,40,0.45)" stroke="rgba(215,40,40,0.55)" stroke-width="0.9"/>
<circle cx="327.5" cy="1714.5" r="4.2" fill="rgba(250,40,40,0.45)" stroke="rgba(215,40,40,0.55)" stroke-width="0.9"/>
<circle cx="328.5" cy="1721.6" r="4.2" fill="rgba(250,40,40,0.45)" stroke="rgba(215,40,40,0.55)" stroke-width="0.9"/>
<circle cx="325.7" cy="1713.0" r="4.2" fill="rgba(250,40,40,0.45)" stroke="rgba(215,40,40,0.55)" stroke-width="0.9"/>
<circle cx="326.4" cy="1717.4" r="4.2" fill="rgba(250,40,40,0.45)" stroke="rgba(215,40,40,0.55)" stroke-width="0.9"/>
<circle cx="334.3" cy="1711.3" r="4.2" fill="rgba(250,40,40,0.45)" stroke="rgba(215,40,40,0.55)" stroke-width="0.9"/>
<circle cx="340.7" cy="1726.7" r="4.2" fill="rgba(250,40,40,0.45)" stroke="rgba(215,40,40,0.55)" stroke-width="0.9"/>
<circle cx="347.0" cy="1730.3" r="4.2" fill="rgba(250,40,40,0.45)" stroke="rgba(215,40,40,0.55)" stroke-width="0.9"/>
<circle cx="340.4" cy="1723.9" r="4.2" fill="rgba(250,40,40,0.45)" stroke="rgba(215,40,40,0.55)" stroke-width="0.9"/>
<circle cx="342.2" cy="1724.7" r="4.2" fill="rgba(250,40,40,0.45)" stroke="rgba(215,40,40,0.55)" stroke-width="0.9"/>
<circle cx="342.8" cy="1728.7" r="4.2" fill="rgba(250,40,40,0.45)" stroke="rgba(215,40,40,0.55)" stroke-width="0.9"/>
<circle cx="347.1" cy="1724.8" r="4.2" fill="rgba(250,40,40,0.45)" stroke="rgba(215,40,40,0.55)" stroke-width="0.9"/>
<circle cx="360.1" cy="1726.7" r="4.2" fill="rgba(250,40,40,0.45)" stroke="rgba(215,40,40,0.55)" stroke-width="0.9"/>
<circle cx="360.0" cy="1729.5" r="4.2" fill="rgba(250,40,40,0.45)" stroke="rgba(215,40,40,0.55)" stroke-width="0.9"/>
<circle cx="360.9" cy="1728.3" r="4.2" fill="rgba(250,40,40,0.45)" stroke="rgba(215,40,40,0.55)" stroke-width="0.9"/>
<text x="704.1" y="1106.2" font-size="25.5" fill="#c5107d" stroke="#c5107d" font-style="italic">CXCL10</text>
<text x="757.4" y="1268.0" font-size="25.5" fill="#c5107d" stroke="#c5107d" font-style="italic">CXCL11</text>
<text x="457.5" y="1280.3" font-size="25.5" fill="#c5107d" stroke="#c5107d" font-style="italic">GBP1</text>
<text x="319.8" y="1382.5" font-size="25.5" fill="#c5107d" stroke="#c5107d" font-style="italic">STAT1</text>
<text x="411.7" y="1402.1" font-size="25.5" fill="#c5107d" stroke="#c5107d" font-style="italic">GBP4</text>
<text x="501.7" y="1402.1" font-size="25.5" fill="#c5107d" stroke="#c5107d" font-style="italic">ISG15</text>
<text x="361.2" y="1456.3" font-size="25.5" fill="#c5107d" stroke="#c5107d" font-style="italic">MT2A</text>
<text x="536.9" y="1440.8" font-size="25.5" fill="#c5107d" stroke="#c5107d" font-style="italic">RSAD2</text>
<text x="543.2" y="1468.5" font-size="25.5" fill="#c5107d" stroke="#c5107d" font-style="italic">IFIT2</text>
<text x="579.2" y="1494.9" font-size="25.5" fill="#c5107d" stroke="#c5107d" font-style="italic">ISG20</text>
<text x="277.0" y="1529.4" font-size="25.5" fill="#c5107d" stroke="#c5107d" font-style="italic">TAP1</text>
<text x="512.7" y="1519.5" font-size="25.5" fill="#c5107d" stroke="#c5107d" font-style="italic">IFIT3</text>
<text x="518.6" y="1551.7" font-size="25.5" fill="#c5107d" stroke="#c5107d" font-style="italic">GBP5</text>
<text x="672.4" y="1547.3" font-size="25.5" fill="#c5107d" stroke="#c5107d" font-style="italic">APOBEC3A</text>
<text x="514.3" y="1589.4" font-size="25.5" fill="#c5107d" stroke="#c5107d" font-style="italic">HAPLN3</text>
<text x="681.3" y="1600.0" font-size="25.5" fill="#c5107d" stroke="#c5107d" font-style="italic">CXCL9</text>
<text x="78.5" y="1600.0" font-size="25.5" fill="#000" stroke="#000" font-style="italic">FCGBP</text>
<text x="152.6" y="1635.7" font-size="25.5" fill="#000" stroke="#000" font-style="italic">CX3CR1</text>
<line x1="375.0" y1="1386.6" x2="377.7" y2="1404.0" stroke="#222" stroke-width="1.3"/>
<line x1="431.7" y1="1408.0" x2="433.5" y2="1426.7" stroke="#222" stroke-width="1.3"/>
<line x1="498.6" y1="1406.8" x2="452.8" y2="1442.0" stroke="#222" stroke-width="1.3"/>
<line x1="533.8" y1="1435.7" x2="508.0" y2="1439.7" stroke="#222" stroke-width="1.3"/>
<line x1="540.9" y1="1459.6" x2="498.6" y2="1453.8" stroke="#222" stroke-width="1.3"/>
<line x1="576.1" y1="1484.3" x2="488.0" y2="1459.6" stroke="#222" stroke-width="1.3"/>
<line x1="399.8" y1="1461.9" x2="402.5" y2="1478.4" stroke="#222" stroke-width="1.3"/>
<line x1="339.7" y1="1520.3" x2="384.6" y2="1496.3" stroke="#222" stroke-width="1.3"/>
<line x1="506.8" y1="1505.4" x2="485.7" y2="1500.0" stroke="#222" stroke-width="1.3"/>
<line x1="509.2" y1="1547.7" x2="488.0" y2="1554.7" stroke="#222" stroke-width="1.3"/>
<line x1="493.4" y1="1570.4" x2="511.5" y2="1577.7" stroke="#222" stroke-width="1.3"/>
<line x1="673.6" y1="1551.2" x2="659.5" y2="1559.4" stroke="#222" stroke-width="1.3"/>
<line x1="661.8" y1="1584.7" x2="678.7" y2="1587.5" stroke="#222" stroke-width="1.3"/>
<line x1="135.4" y1="1605.0" x2="142.7" y2="1643.4" stroke="#222" stroke-width="1.3"/>
<line x1="189.0" y1="1641.4" x2="163.2" y2="1693.6" stroke="#222" stroke-width="1.3"/>
</svg>
</body></html>
